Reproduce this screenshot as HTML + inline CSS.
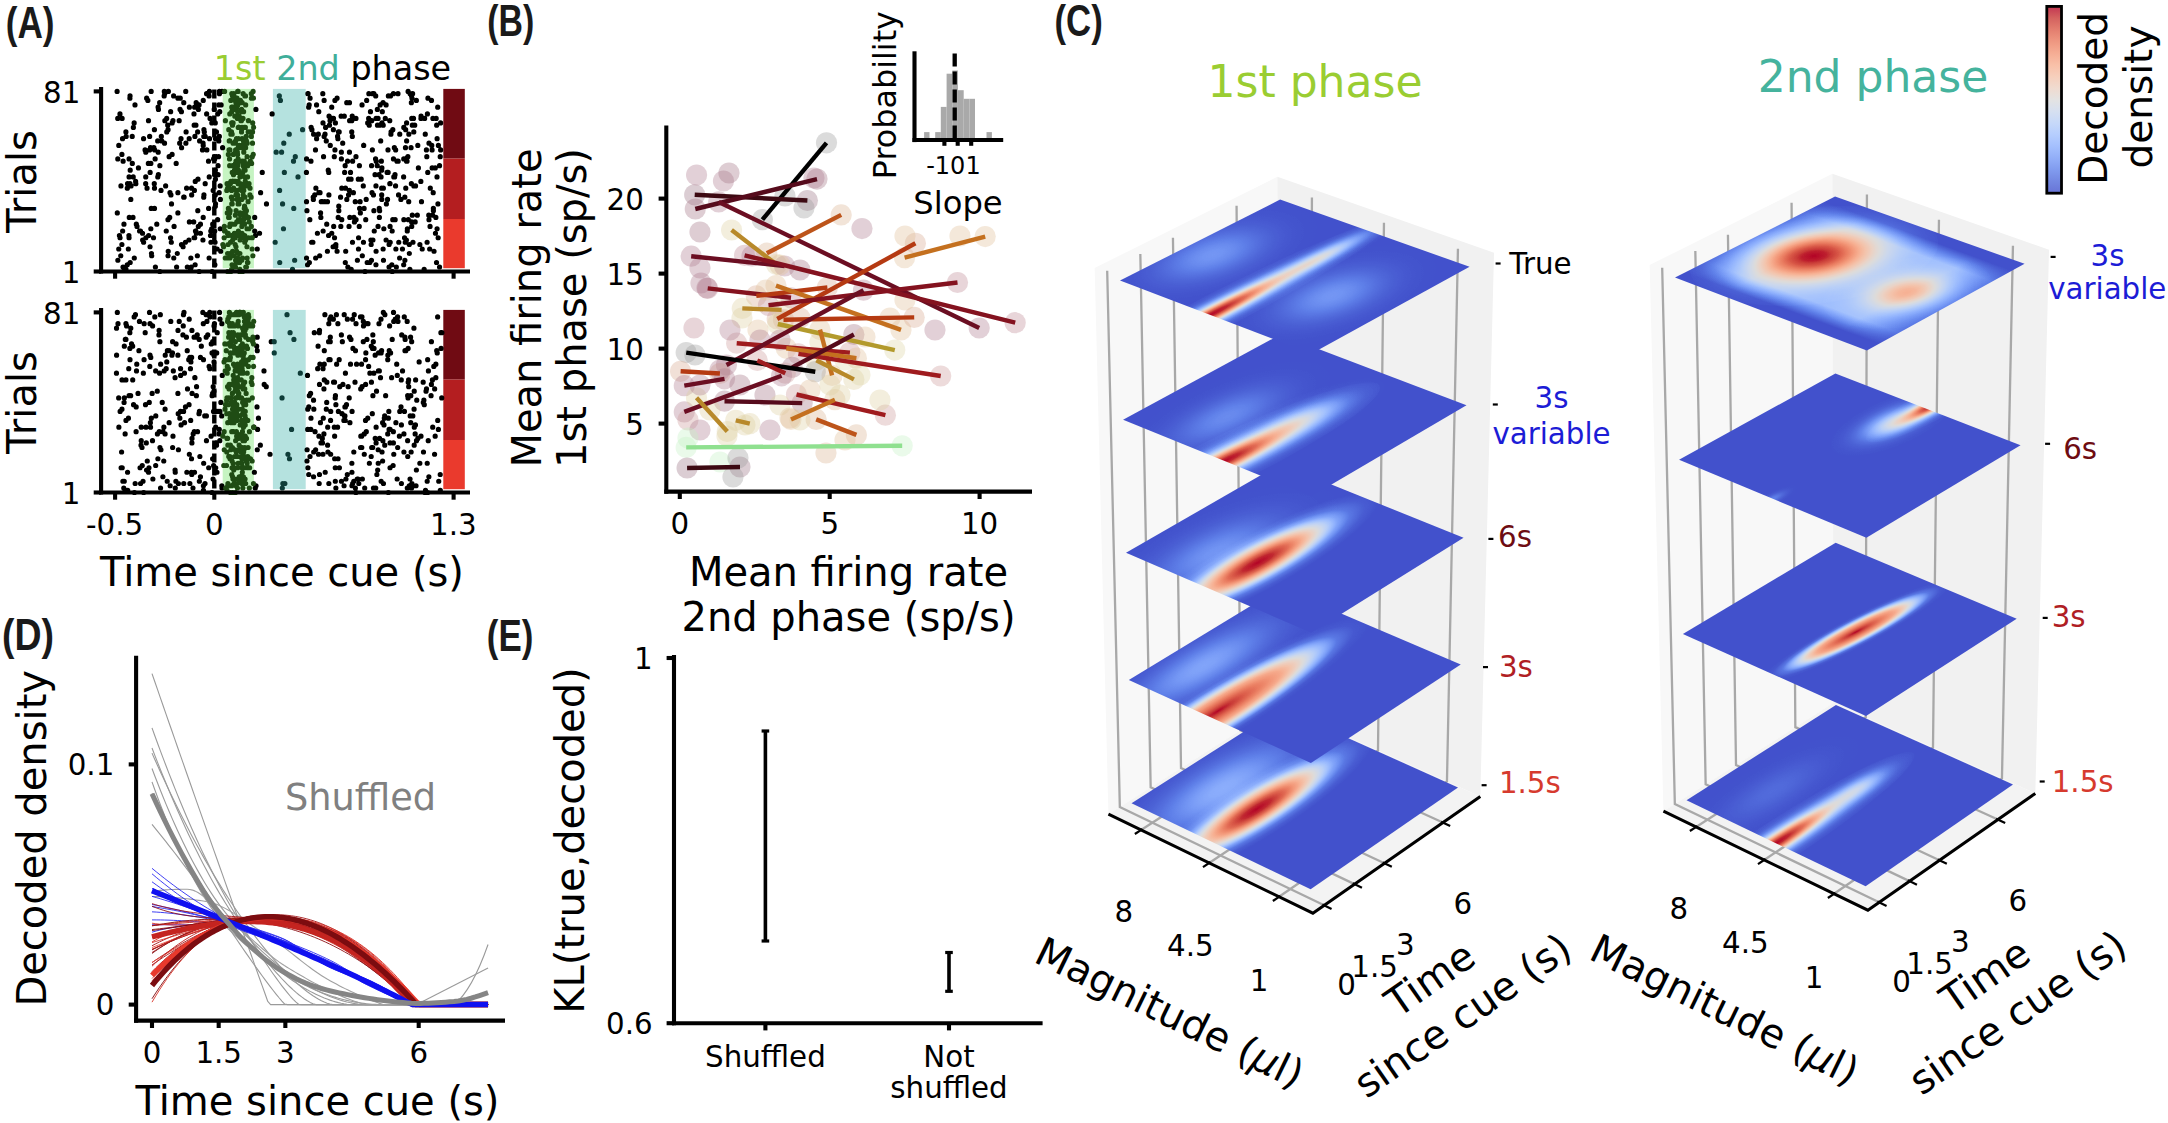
<!DOCTYPE html><html><head><meta charset="utf-8"><title>Figure</title><style>html,body{margin:0;padding:0;background:#fff;overflow:hidden}svg{display:block}</style></head><body><svg width="2168" height="1123" viewBox="0 0 2168 1123" font-family="'DejaVu Sans', 'Liberation Sans', sans-serif"><defs><filter id="cw" x="-0.1" y="-0.1" width="1.2" height="1.2" color-interpolation-filters="sRGB"><feComponentTransfer><feFuncR type="table" tableValues="0.259 0.314 0.380 0.467 0.553 0.639 0.722 0.800 0.867 0.925 0.957 0.969 0.953 0.918 0.863 0.788 0.702"/><feFuncG type="table" tableValues="0.318 0.412 0.510 0.604 0.686 0.757 0.812 0.847 0.863 0.824 0.765 0.690 0.596 0.490 0.369 0.231 0.012"/><feFuncB type="table" tableValues="0.800 0.855 0.918 0.965 0.992 0.996 0.973 0.929 0.859 0.769 0.671 0.573 0.475 0.380 0.294 0.216 0.149"/></feComponentTransfer></filter><linearGradient id="cbar" x1="0" y1="0" x2="0" y2="1"><stop offset="0.0000" stop-color="rgb(179, 3, 38)"/><stop offset="0.0625" stop-color="rgb(201, 59, 55)"/><stop offset="0.1250" stop-color="rgb(220, 94, 75)"/><stop offset="0.1875" stop-color="rgb(234, 125, 97)"/><stop offset="0.2500" stop-color="rgb(243, 152, 121)"/><stop offset="0.3125" stop-color="rgb(247, 176, 146)"/><stop offset="0.3750" stop-color="rgb(244, 195, 171)"/><stop offset="0.4375" stop-color="rgb(236, 210, 196)"/><stop offset="0.5000" stop-color="rgb(221, 220, 219)"/><stop offset="0.5625" stop-color="rgb(204, 216, 237)"/><stop offset="0.6250" stop-color="rgb(184, 207, 248)"/><stop offset="0.6875" stop-color="rgb(163, 193, 254)"/><stop offset="0.7500" stop-color="rgb(141, 175, 253)"/><stop offset="0.8125" stop-color="rgb(119, 154, 246)"/><stop offset="0.8750" stop-color="rgb(97, 130, 234)"/><stop offset="0.9375" stop-color="rgb(80, 105, 218)"/><stop offset="1.0000" stop-color="rgb(66, 81, 204)"/></linearGradient><radialGradient id="gb"><stop offset="0.000" stop-color="#fff" stop-opacity="1.000"/><stop offset="0.100" stop-color="#fff" stop-opacity="0.956"/><stop offset="0.200" stop-color="#fff" stop-opacity="0.835"/><stop offset="0.300" stop-color="#fff" stop-opacity="0.667"/><stop offset="0.400" stop-color="#fff" stop-opacity="0.487"/><stop offset="0.500" stop-color="#fff" stop-opacity="0.325"/><stop offset="0.600" stop-color="#fff" stop-opacity="0.198"/><stop offset="0.700" stop-color="#fff" stop-opacity="0.110"/><stop offset="0.800" stop-color="#fff" stop-opacity="0.056"/><stop offset="0.900" stop-color="#fff" stop-opacity="0.026"/><stop offset="1.000" stop-color="#fff" stop-opacity="0.011"/></radialGradient><radialGradient id="gf"><stop offset="0.000" stop-color="#fff" stop-opacity="1.000"/><stop offset="0.500" stop-color="#fff" stop-opacity="0.970"/><stop offset="0.650" stop-color="#fff" stop-opacity="0.800"/><stop offset="0.750" stop-color="#fff" stop-opacity="0.500"/><stop offset="0.850" stop-color="#fff" stop-opacity="0.200"/><stop offset="0.950" stop-color="#fff" stop-opacity="0.040"/><stop offset="1.000" stop-color="#fff" stop-opacity="0.000"/></radialGradient><radialGradient id="gq"><stop offset="0.000" stop-color="#fff" stop-opacity="1.000"/><stop offset="0.140" stop-color="#fff" stop-opacity="0.900"/><stop offset="0.280" stop-color="#fff" stop-opacity="0.800"/><stop offset="0.410" stop-color="#fff" stop-opacity="0.700"/><stop offset="0.520" stop-color="#fff" stop-opacity="0.550"/><stop offset="0.580" stop-color="#fff" stop-opacity="0.450"/><stop offset="0.660" stop-color="#fff" stop-opacity="0.300"/><stop offset="0.770" stop-color="#fff" stop-opacity="0.100"/><stop offset="0.880" stop-color="#fff" stop-opacity="0.020"/><stop offset="1.000" stop-color="#fff" stop-opacity="0.000"/></radialGradient><radialGradient id="gt"><stop offset="0.000" stop-color="#fff" stop-opacity="1.000"/><stop offset="0.100" stop-color="#fff" stop-opacity="0.956"/><stop offset="0.190" stop-color="#fff" stop-opacity="0.850"/><stop offset="0.280" stop-color="#fff" stop-opacity="0.700"/><stop offset="0.390" stop-color="#fff" stop-opacity="0.500"/><stop offset="0.450" stop-color="#fff" stop-opacity="0.380"/><stop offset="0.520" stop-color="#fff" stop-opacity="0.220"/><stop offset="0.600" stop-color="#fff" stop-opacity="0.100"/><stop offset="0.700" stop-color="#fff" stop-opacity="0.030"/><stop offset="0.800" stop-color="#fff" stop-opacity="0.000"/><stop offset="1.000" stop-color="#fff" stop-opacity="0.000"/></radialGradient><linearGradient id="gufade" x1="-0.1" y1="0" x2="1.1" y2="0" gradientUnits="userSpaceOnUse"><stop offset="0" stop-color="#000" stop-opacity="1"/><stop offset="0.1" stop-color="#000" stop-opacity="0.6"/><stop offset="0.25" stop-color="#000" stop-opacity="0"/><stop offset="0.72" stop-color="#000" stop-opacity="0"/><stop offset="0.92" stop-color="#000" stop-opacity="0.85"/><stop offset="1" stop-color="#000" stop-opacity="1"/></linearGradient><linearGradient id="gband" x1="0" y1="0" x2="0" y2="1"><stop offset="0" stop-color="#fff" stop-opacity="0"/><stop offset="0.07" stop-color="#fff" stop-opacity="0"/><stop offset="0.2" stop-color="#fff" stop-opacity="1"/><stop offset="0.8" stop-color="#fff" stop-opacity="1"/><stop offset="0.93" stop-color="#fff" stop-opacity="0"/><stop offset="1" stop-color="#fff" stop-opacity="0"/></linearGradient><clipPath id="pc1"><polygon points="1310.61,889.24 1131.53,803.31 1280.96,707.95 1458.03,787.42"/></clipPath><clipPath id="pc2"><polygon points="1310.9,763.04 1128.81,679.92 1280.75,587.71 1460.75,664.49"/></clipPath><clipPath id="pc3"><polygon points="1311.19,632.79 1126.01,552.71 1280.53,463.92 1463.56,537.79"/></clipPath><clipPath id="pc4"><polygon points="1311.51,496.36 1123.09,419.63 1280.31,334.58 1466.5,405.25"/></clipPath><clipPath id="pc5"><polygon points="1311.83,353.59 1120.03,280.54 1280.07,199.58 1469.57,266.77"/></clipPath><clipPath id="pc6"><polygon points="1865.61,886.24 1686.53,800.31 1835.96,704.95 2013.03,784.42"/></clipPath><clipPath id="pc7"><polygon points="1866,716.02 1682.87,633.91 1835.67,542.84 2016.7,618.64"/></clipPath><clipPath id="pc8"><polygon points="1866.4,537.67 1679.04,459.83 1835.38,373.55 2020.54,445.27"/></clipPath><clipPath id="pc9"><polygon points="1866.83,350.59 1675.03,277.54 1835.07,196.58 2024.57,263.77"/></clipPath></defs><rect width="2168" height="1123" fill="#fff"/>
<text x="213.8" y="80.3" font-size="33.4" fill="#000"><tspan fill="#9acd32">1st</tspan> <tspan fill="#3fae9a">2nd</tspan> phase</text>
<rect x="222.7" y="88.9" width="31.2" height="179.3" fill="#c6f4c2"/>
<rect x="272.9" y="88.9" width="32.8" height="179.3" fill="#b5e2df"/>
<rect x="443.3" y="88.9" width="21.5" height="69.7" fill="#700b13"/>
<rect x="443.3" y="158.6" width="21.5" height="60.4" fill="#b41e20"/>
<rect x="443.3" y="219" width="21.5" height="49.2" fill="#ea3a2d"/>
<line x1="214.3" y1="89.4" x2="214.3" y2="271.5" stroke="#000" stroke-width="4.4" stroke-linecap="butt" stroke-dasharray="9,4"/>
<path d="M159.8 271.5h0M392.26 271.5h0M364.99 271.5h0M199.15 271.5h0M212.12 271.5h0M351.22 269.25h0M190.58 269.25h0M424.16 269.25h0M409.87 269.25h0M125.97 269.25h0M124.3 269.25h0M191.26 267h0M187.32 267h0M123.01 267h0M389.05 267h0M176.61 267h0M439.57 267h0M396.34 267h0M155.41 267h0M347.85 267h0M214.9 264.75h0M307.55 264.75h0M403.69 264.75h0M391.86 264.75h0M127.26 264.75h0M195.13 264.75h0M375.95 264.75h0M369.77 262.5h0M130.18 262.5h0M345.3 262.5h0M436.52 262.5h0M309.38 262.5h0M367.19 262.5h0M117.86 260.24h0M371.47 260.24h0M383.48 260.24h0M404.89 260.24h0M357.4 260.24h0M134.3 257.99h0M399.62 257.99h0M315.66 257.99h0M190.85 257.99h0M173.77 257.99h0M306.53 257.99h0M209.12 257.99h0M120.75 255.74h0M362.32 255.74h0M197.36 255.74h0M151.69 255.74h0M319.69 255.74h0M168.04 255.74h0M177.3 253.49h0M151.46 253.49h0M409.34 253.49h0M168.23 251.24h0M345.7 251.24h0M337.09 251.24h0M434.04 251.24h0M376.09 251.24h0M327.41 251.24h0M220.73 251.24h0M395.88 248.99h0M217.18 248.99h0M422.21 248.99h0M358.49 248.99h0M118.76 248.99h0M402.46 248.99h0M128.36 248.99h0M383.13 248.99h0M429.68 248.99h0M257.26 248.99h0M183.08 246.74h0M335.77 246.74h0M150.04 246.74h0M333.1 246.74h0M409.3 244.49h0M121.9 244.49h0M181.48 244.49h0M371.16 244.49h0M335.87 244.49h0M389.09 244.49h0M419.89 244.49h0M352.5 242.23h0M143.61 242.23h0M171.32 242.23h0M412.98 242.23h0M185.43 242.23h0M363.47 242.23h0M311.67 242.23h0M390.21 242.23h0M210.94 242.23h0M398.78 242.23h0M312.9 242.23h0M427.1 242.23h0M405.25 242.23h0M215.06 242.23h0M372.93 239.98h0M386.09 239.98h0M370.9 239.98h0M188.93 239.98h0M142.65 239.98h0M202.95 239.98h0M406.39 239.98h0M120.04 237.73h0M334.55 237.73h0M145.89 237.73h0M153.52 237.73h0M404.53 237.73h0M129.05 237.73h0M194.12 237.73h0M438.14 237.73h0M170.57 237.73h0M194.7 237.73h0M358.55 237.73h0M148.64 235.48h0M328.57 235.48h0M128.92 235.48h0M119.43 235.48h0M255.48 235.48h0M210.51 235.48h0M317.41 233.23h0M435.46 233.23h0M331.76 233.23h0M200.46 233.23h0M196.32 233.23h0M142.53 233.23h0M259.57 233.23h0M392.17 230.98h0M407.28 230.98h0M214.72 230.98h0M195.9 230.98h0M122.64 230.98h0M195.47 230.98h0M139.58 230.98h0M140.49 230.98h0M323.13 230.98h0M210.81 230.98h0M374.25 230.98h0M166.26 230.98h0M254.7 230.98h0M437.08 228.73h0M383.83 228.73h0M220.25 228.73h0M150.84 228.73h0M211.68 228.73h0M407.37 228.73h0M378.06 226.47h0M411.73 226.47h0M390.07 226.47h0M359.26 226.47h0M340.81 226.47h0M174.08 226.47h0M349.03 226.47h0M333.7 226.47h0M198.34 226.47h0M137 226.47h0M430.06 226.47h0M123.96 224.22h0M326.74 224.22h0M136.32 224.22h0M156.79 224.22h0M200.47 224.22h0M212.7 224.22h0M354.44 221.97h0M193.71 221.97h0M189.37 221.97h0M411.66 221.97h0M415.17 221.97h0M167.99 219.72h0M365.73 219.72h0M403.86 219.72h0M217.65 219.72h0M341.77 219.72h0M392.77 219.72h0M356.07 219.72h0M309.83 219.72h0M395.15 219.72h0M408.29 219.72h0M428.99 219.72h0M133 217.47h0M338.21 217.47h0M349.79 217.47h0M169.72 217.47h0M353.95 217.47h0M129.27 217.47h0M435.88 217.47h0M379.39 217.47h0M320.87 217.47h0M203.21 217.47h0M254.71 217.47h0M417.32 215.22h0M432.61 215.22h0M412.3 215.22h0M428.77 215.22h0M360.36 212.97h0M117.31 212.97h0M177.89 212.97h0M320.57 212.97h0M306.95 210.72h0M197.79 210.72h0M338.83 210.72h0M373.9 210.72h0M379.62 210.72h0M433.4 210.72h0M208.6 208.47h0M151.25 208.47h0M379.26 208.47h0M154.49 208.47h0M359.61 208.47h0M364.11 208.47h0M433.37 208.47h0M215.36 206.21h0M338.79 206.21h0M386.39 203.96h0M266.48 203.96h0M437.95 203.96h0M215.54 203.96h0M171.52 203.96h0M306.52 201.71h0M355.23 201.71h0M408.72 201.71h0M360.1 201.71h0M324.76 201.71h0M327.49 201.71h0M321.27 201.71h0M322.6 201.71h0M421.5 201.71h0M366.2 199.46h0M381.8 199.46h0M313.38 199.46h0M346.81 199.46h0M400.91 199.46h0M387.55 199.46h0M130.8 199.46h0M220.39 199.46h0M340.58 197.21h0M313.23 197.21h0M184.1 197.21h0M183.71 197.21h0M404.84 197.21h0M203.72 197.21h0M170.95 194.96h0M328.9 194.96h0M348.58 194.96h0M381.69 194.96h0M203.94 194.96h0M314.75 194.96h0M191.67 194.96h0M373.46 194.96h0M398.55 194.96h0M215.3 194.96h0M318.92 192.71h0M219.19 192.71h0M372.04 192.71h0M177.91 192.71h0M320.04 192.71h0M170 192.71h0M433.21 192.71h0M260.61 192.71h0M353.41 192.71h0M161.02 190.46h0M349.33 190.46h0M194.4 190.46h0M213.18 190.46h0M405.77 188.2h0M186.6 188.2h0M127.32 188.2h0M345.48 188.2h0M381.66 188.2h0M430.3 188.2h0M315.9 188.2h0M154.49 188.2h0M341.8 188.2h0M147.05 188.2h0M191.54 188.2h0M383.37 188.2h0M131.07 185.95h0M375.97 185.95h0M395.57 185.95h0M220.18 185.95h0M415.54 185.95h0M363.29 185.95h0M165.64 185.95h0M413.86 185.95h0M120.95 185.95h0M389.83 183.7h0M411.38 183.7h0M127.56 183.7h0M135.84 183.7h0M390.04 183.7h0M129.96 183.7h0M205.19 183.7h0M154.28 183.7h0M145.68 183.7h0M195.25 181.45h0M135.62 181.45h0M420.86 181.45h0M348.62 179.2h0M358.31 179.2h0M351.08 179.2h0M361.22 179.2h0M198.02 179.2h0M215.43 179.2h0M394.59 176.95h0M393.81 176.95h0M133.22 176.95h0M145.74 176.95h0M381.06 176.95h0M437.01 176.95h0M129.08 176.95h0M157.79 176.95h0M403.63 176.95h0M209.24 176.95h0M218.11 174.7h0M158.38 174.7h0M375.03 174.7h0M379.06 174.7h0M395.01 174.7h0M215.02 174.7h0M427.75 172.44h0M306.43 172.44h0M150.13 172.44h0M328.74 172.44h0M262.25 172.44h0M350.52 172.44h0M388.14 172.44h0M344.62 172.44h0M387.11 172.44h0M130.21 170.19h0M381.67 170.19h0M328.26 170.19h0M215.4 170.19h0M138.44 167.94h0M435.29 167.94h0M418.4 167.94h0M432.14 167.94h0M381.9 167.94h0M377.25 165.69h0M159.87 165.69h0M439.55 165.69h0M371.57 165.69h0M345.15 165.69h0M359.41 165.69h0M218.07 165.69h0M176.18 163.44h0M132.33 163.44h0M148.35 163.44h0M150.86 163.44h0M396.96 161.19h0M123.12 161.19h0M347.55 161.19h0M208.5 161.19h0M406.56 161.19h0M310.97 161.19h0M398.15 161.19h0M407.05 161.19h0M376.2 161.19h0M352.62 161.19h0M381.37 161.19h0M403.76 158.94h0M375.57 158.94h0M306.58 158.94h0M129.08 158.94h0M393.47 158.94h0M213.59 158.94h0M341.38 158.94h0M117.8 158.94h0M155.13 158.94h0M214.67 158.94h0M405.22 158.94h0M426.8 156.69h0M216.33 156.69h0M214.42 156.69h0M169.13 156.69h0M323.55 156.69h0M440.22 156.69h0M355.98 156.69h0M407.88 156.69h0M334.31 156.69h0M218.57 156.69h0M121.92 154.44h0M172.1 154.44h0M341.37 152.18h0M349.47 152.18h0M145.79 152.18h0M158.21 152.18h0M426.41 149.93h0M388 149.93h0M145.07 149.93h0M315.48 149.93h0M440.63 149.93h0M432.09 149.93h0M149.63 149.93h0M334.96 149.93h0M154.68 149.93h0M202.5 149.93h0M206.87 149.93h0M395.66 149.93h0M372.37 149.93h0M411.06 147.68h0M153.87 147.68h0M394.36 147.68h0M150.5 147.68h0M181.59 147.68h0M405.47 147.68h0M222.59 147.68h0M363.65 145.43h0M118.79 145.43h0M438.4 145.43h0M330.27 145.43h0M417.81 145.43h0M431.79 145.43h0M203.22 145.43h0M363.71 145.43h0M179.67 143.18h0M428.98 143.18h0M164.53 143.18h0M342.71 143.18h0M203.06 143.18h0M185.89 143.18h0M326.29 140.93h0M380.7 140.93h0M406.63 140.93h0M218.81 140.93h0M157.7 140.93h0M161.68 140.93h0M199.61 140.93h0M181.01 138.68h0M122.54 138.68h0M215.53 138.68h0M316.61 138.68h0M143.57 138.68h0M189.19 138.68h0M337.91 138.68h0M437.11 138.68h0M209.54 138.68h0M352.33 136.43h0M149.65 136.43h0M219.35 136.43h0M203.8 136.43h0M132.22 136.43h0M126.16 136.43h0M161.33 136.43h0M324.11 136.43h0M194.91 136.43h0M337.56 136.43h0M205.2 136.43h0M425.27 134.17h0M325.03 134.17h0M390.92 134.17h0M313.61 134.17h0M399.75 134.17h0M318.33 134.17h0M408.85 134.17h0M186.1 131.92h0M197.63 131.92h0M204.32 131.92h0M391.08 131.92h0M351.75 131.92h0M339.18 131.92h0M125.91 131.92h0M216.45 131.92h0M338.47 131.92h0M166.78 131.92h0M413.79 131.92h0M405.68 129.67h0M168.08 129.67h0M392.81 129.67h0M154.42 129.67h0M311.93 129.67h0M203.94 129.67h0M333.4 129.67h0M325.6 127.42h0M403.8 127.42h0M311.13 127.42h0M133.37 127.42h0M436.66 125.17h0M412.33 125.17h0M329.49 125.17h0M377.48 125.17h0M383.22 125.17h0M195.93 125.17h0M379.5 125.17h0M194.18 125.17h0M167.72 125.17h0M369.25 125.17h0M414.73 125.17h0M440.63 122.92h0M367.7 122.92h0M134.15 122.92h0M211.82 122.92h0M382.06 122.92h0M322.99 122.92h0M335.41 122.92h0M406.59 122.92h0M172.14 122.92h0M215.28 122.92h0M172.96 120.67h0M349.61 120.67h0M148.5 120.67h0M330.06 120.67h0M371.75 120.67h0M351.78 120.67h0M179.17 120.67h0M389.76 120.67h0M164.86 120.67h0M333.51 118.42h0M376.11 118.42h0M210.05 118.42h0M166.7 118.42h0M432.9 118.42h0M385.28 118.42h0M424.65 118.42h0M122.12 118.42h0M355.96 118.42h0M413.52 118.42h0M117.74 118.42h0M378.06 118.42h0M436.18 118.42h0M411.76 118.42h0M331.9 118.42h0M368.66 118.42h0M420.95 118.42h0M421.07 116.16h0M352.23 116.16h0M344.3 116.16h0M341.14 116.16h0M329.06 116.16h0M272.13 113.91h0M193.98 113.91h0M119.97 113.91h0M427.41 113.91h0M217.71 113.91h0M206.65 113.91h0M219.77 111.66h0M170.64 111.66h0M181.43 111.66h0M382.32 111.66h0M370.46 111.66h0M318.79 111.66h0M158.47 109.41h0M198.39 109.41h0M180.06 109.41h0M377.35 109.41h0M255.92 109.41h0M214.22 109.41h0M308.67 107.16h0M158.11 107.16h0M194.64 107.16h0M331.73 107.16h0M437.71 107.16h0M189.38 107.16h0M380.13 104.91h0M309.19 104.91h0M316.55 104.91h0M362.05 104.91h0M199.1 104.91h0M134.99 104.91h0M386.11 104.91h0M218.89 104.91h0M221.13 104.91h0M196.16 102.66h0M183.77 102.66h0M411.36 102.66h0M346.76 102.66h0M383.09 102.66h0M159.67 102.66h0M349.5 102.66h0M203.26 100.41h0M324.13 100.41h0M334.93 100.41h0M416.37 100.41h0M431.49 100.41h0M366.66 100.41h0M147.86 100.41h0M412 98.15h0M146.65 98.15h0M337.07 98.15h0M129.91 98.15h0M427.94 98.15h0M310.07 98.15h0M177.94 98.15h0M180.25 98.15h0M173.63 95.9h0M164.15 95.9h0M411.57 95.9h0M209.08 95.9h0M130.04 95.9h0M388.37 95.9h0M375.71 95.9h0M390.51 95.9h0M412.61 93.65h0M307.91 93.65h0M219.44 93.65h0M164.7 93.65h0M308.12 93.65h0M393.41 93.65h0M206.56 93.65h0M398 93.65h0M372.6 93.65h0M368.87 93.65h0M373.83 93.65h0M410.12 93.65h0M322.8 93.65h0M117.11 91.4h0M168.39 91.4h0M221.96 91.4h0M185.74 91.4h0M408.1 91.4h0M164.32 91.4h0M151.17 91.4h0M219.41 91.4h0M209.44 91.4h0" stroke="#000" stroke-width="5.2" stroke-linecap="round" fill="none"/>
<path d="M230.83 271.5h0M227.72 271.5h0M239.99 271.5h0M239.5 271.5h0M242.6 271.5h0M231.65 269.25h0M239.92 269.25h0M246.42 267h0M245.74 267h0M235.45 267h0M235.18 264.75h0M232.03 264.75h0M239.51 262.5h0M247.45 262.5h0M247.91 262.5h0M235.6 260.24h0M241.79 260.24h0M230.05 257.99h0M247.12 257.99h0M228.21 257.99h0M242.53 257.99h0M225.29 257.99h0M238.02 257.99h0M252.89 255.74h0M234.02 255.74h0M237.72 253.49h0M227.61 253.49h0M229.98 253.49h0M239.91 253.49h0M238.69 253.49h0M236.72 251.24h0M236.59 251.24h0M232.59 251.24h0M252.15 248.99h0M223.55 246.74h0M235.98 246.74h0M246.96 246.74h0M222.84 244.49h0M228.1 244.49h0M235.18 244.49h0M230.53 242.23h0M244.76 242.23h0M245.63 239.98h0M232.67 239.98h0M240.08 239.98h0M251.66 237.73h0M248.43 237.73h0M224.15 237.73h0M252.27 237.73h0M243.77 237.73h0M235.12 237.73h0M244.74 235.48h0M237.81 235.48h0M231.76 235.48h0M233.82 235.48h0M237.45 235.48h0M240.99 235.48h0M228.23 235.48h0M234.37 233.23h0M228.18 233.23h0M242 233.23h0M227.44 233.23h0M224.52 230.98h0M225.15 230.98h0M238.38 230.98h0M247.03 228.73h0M248.87 228.73h0M251.31 226.47h0M241.89 226.47h0M229.66 226.47h0M224.35 226.47h0M234.74 224.22h0M242.09 224.22h0M231.86 224.22h0M230.1 224.22h0M244.51 224.22h0M236.79 221.97h0M249.18 221.97h0M241.26 221.97h0M239.36 219.72h0M238.48 219.72h0M243.75 219.72h0M228.62 217.47h0M246.82 217.47h0M248.45 217.47h0M244.51 217.47h0M229.27 217.47h0M240.65 215.22h0M245.94 215.22h0M245.42 215.22h0M235.35 215.22h0M240.55 215.22h0M227.28 212.97h0M229.72 212.97h0M240.15 212.97h0M244.41 212.97h0M230.14 210.72h0M236.05 210.72h0M246.41 210.72h0M228.39 208.47h0M244.28 208.47h0M245.19 208.47h0M244.55 206.21h0M238.65 203.96h0M231.77 203.96h0M232.18 203.96h0M238.1 203.96h0M238.99 203.96h0M248.11 201.71h0M232.29 199.46h0M241.78 199.46h0M237.67 199.46h0M237.25 199.46h0M237.68 197.21h0M251.1 197.21h0M244.91 197.21h0M231.39 197.21h0M237.46 194.96h0M235.95 194.96h0M243.17 194.96h0M249.94 194.96h0M235.85 190.46h0M236.13 190.46h0M226.8 190.46h0M237.28 190.46h0M241.84 190.46h0M231.53 190.46h0M243.77 190.46h0M227.64 188.2h0M228.89 188.2h0M240.8 188.2h0M241.32 188.2h0M250.04 188.2h0M233.64 188.2h0M246.38 185.95h0M247.32 185.95h0M245.29 185.95h0M247.27 185.95h0M245.36 185.95h0M241.07 185.95h0M249.02 183.7h0M240.35 183.7h0M238.11 183.7h0M227.08 183.7h0M244.75 183.7h0M229.38 183.7h0M230.35 183.7h0M245.27 181.45h0M232.64 181.45h0M234.75 181.45h0M230.92 181.45h0M232.59 181.45h0M235.87 181.45h0M238.13 181.45h0M233.83 181.45h0M244.67 176.95h0M247.54 176.95h0M239.91 176.95h0M233.49 174.7h0M241.06 174.7h0M237.37 172.44h0M242.74 172.44h0M232.26 172.44h0M245.12 170.19h0M236.04 170.19h0M244.32 170.19h0M234.5 170.19h0M243.82 170.19h0M238.42 170.19h0M233.87 165.69h0M229.66 165.69h0M233.78 165.69h0M232.53 165.69h0M243.12 165.69h0M234.05 165.69h0M237.59 165.69h0M245.32 165.69h0M247.68 165.69h0M237.72 163.44h0M249.08 163.44h0M235.51 163.44h0M238 163.44h0M251.62 163.44h0M244.96 163.44h0M236 161.19h0M244.27 161.19h0M238.43 161.19h0M242.24 161.19h0M250.35 161.19h0M239.65 161.19h0M229.56 158.94h0M238.11 158.94h0M247.1 156.69h0M252.24 156.69h0M228.35 154.44h0M237.55 154.44h0M253.28 154.44h0M233.28 154.44h0M235.21 152.18h0M243.79 152.18h0M237.37 152.18h0M229.03 149.93h0M237.08 149.93h0M235.63 149.93h0M229.92 149.93h0M241.95 147.68h0M245.62 147.68h0M244.68 147.68h0M238.19 147.68h0M239.25 145.43h0M241.46 145.43h0M233.98 143.18h0M233.1 143.18h0M247.19 143.18h0M244.97 143.18h0M252.52 143.18h0M235.31 143.18h0M229.79 140.93h0M246.44 140.93h0M243.4 140.93h0M235.69 140.93h0M229.27 140.93h0M236.52 138.68h0M242.1 138.68h0M238.43 138.68h0M246.18 136.43h0M251.36 136.43h0M230.87 134.17h0M232.14 134.17h0M231.49 131.92h0M248.18 131.92h0M250.5 131.92h0M241.53 131.92h0M252.58 131.92h0M241.62 129.67h0M228.78 129.67h0M253.66 127.42h0M238.43 127.42h0M238.25 127.42h0M242.01 127.42h0M239.45 127.42h0M244.21 127.42h0M245.37 127.42h0M232.49 125.17h0M252.72 122.92h0M233.09 122.92h0M231.72 122.92h0M232.11 122.92h0M240.94 120.67h0M225.41 120.67h0M248.43 120.67h0M241.41 120.67h0M238.98 118.42h0M243.02 118.42h0M237.35 118.42h0M239.2 116.16h0M234.79 116.16h0M229.8 113.91h0M243.6 111.66h0M237.69 111.66h0M231.76 111.66h0M242.09 111.66h0M243 111.66h0M234.66 109.41h0M241.62 109.41h0M236.38 109.41h0M236.37 109.41h0M232.34 107.16h0M236.75 107.16h0M231.79 107.16h0M235.35 107.16h0M237.79 104.91h0M245.67 104.91h0M236.09 104.91h0M241.13 102.66h0M235.96 102.66h0M238.48 102.66h0M239.14 102.66h0M242.15 102.66h0M241.97 102.66h0M240.43 100.41h0M235.05 100.41h0M230.82 100.41h0M233.27 98.15h0M235.49 98.15h0M251.4 98.15h0M236.99 98.15h0M253.48 98.15h0M245.19 95.9h0M244.93 95.9h0M233.94 95.9h0M232.53 95.9h0M245.52 95.9h0M251.33 93.65h0M233.78 93.65h0M243.17 93.65h0M231.82 93.65h0M224.6 91.4h0M237.74 91.4h0M253.15 91.4h0M238.1 91.4h0" stroke="#1f4c14" stroke-width="5.2" stroke-linecap="round" fill="none"/>
<path d="M292.5 269.25h0M279.73 262.5h0M294.65 260.24h0M275.17 242.23h0M283.48 228.73h0M293.76 208.47h0M282.57 203.96h0M279.6 190.46h0M298.01 176.95h0M284.36 172.44h0M293.5 161.19h0M295.3 156.69h0M276.19 152.18h0M281.6 152.18h0M283.78 143.18h0M289.26 134.17h0M302.57 129.67h0M280.43 100.41h0M279.34 95.9h0" stroke="#0f3d39" stroke-width="5.2" stroke-linecap="round" fill="none"/>
<line x1="101.1" y1="87.1" x2="101.1" y2="273.55" stroke="#000" stroke-width="4.1" stroke-linecap="butt" />
<line x1="99.05" y1="271.5" x2="470" y2="271.5" stroke="#000" stroke-width="4.1" stroke-linecap="butt" />
<line x1="93.7" y1="91.4" x2="101.1" y2="91.4" stroke="#000" stroke-width="4.1" stroke-linecap="butt" />
<line x1="93.7" y1="271.5" x2="101.1" y2="271.5" stroke="#000" stroke-width="4.1" stroke-linecap="butt" />
<line x1="115.1" y1="271.5" x2="115.1" y2="278.7" stroke="#000" stroke-width="4.1" stroke-linecap="butt" />
<line x1="214.3" y1="271.5" x2="214.3" y2="278.7" stroke="#000" stroke-width="4.1" stroke-linecap="butt" />
<line x1="453.6" y1="271.5" x2="453.6" y2="278.7" stroke="#000" stroke-width="4.1" stroke-linecap="butt" />
<text x="80.3" y="102.6" font-size="29.3" text-anchor="end" fill="#000" >81</text>
<text x="80.3" y="282.7" font-size="29.3" text-anchor="end" fill="#000" >1</text>
<text x="36.1" y="181.45" font-size="40" text-anchor="middle" fill="#000" transform="rotate(-90 36.1 181.45)" >Trials</text>
<rect x="222.7" y="309.9" width="31.2" height="179.3" fill="#c6f4c2"/>
<rect x="272.9" y="309.9" width="32.8" height="179.3" fill="#b5e2df"/>
<rect x="443.3" y="309.9" width="21.5" height="69.7" fill="#700b13"/>
<rect x="443.3" y="379.6" width="21.5" height="60.4" fill="#b41e20"/>
<rect x="443.3" y="440" width="21.5" height="49.2" fill="#ea3a2d"/>
<line x1="214.3" y1="310.4" x2="214.3" y2="492.5" stroke="#000" stroke-width="4.4" stroke-linecap="butt" stroke-dasharray="9,4"/>
<path d="M427.67 492.5h0M424.99 492.5h0M134.44 492.5h0M143.67 492.5h0M388.37 492.5h0M355.93 492.5h0M212.01 492.5h0M440.31 490.25h0M425.5 490.25h0M203.45 490.25h0M127.71 490.25h0M124.95 490.25h0M192.98 488h0M123.78 488h0M222 488h0M160.56 488h0M335.88 488h0M175.28 488h0M407.3 488h0M375.74 488h0M355.41 488h0M411.55 488h0M364.7 488h0M373.46 488h0M255.28 488h0M409.3 485.75h0M416.03 485.75h0M351.95 485.75h0M221.84 485.75h0M344.06 485.75h0M170.14 485.75h0M411.99 485.75h0M203.41 485.75h0M413.11 485.75h0M256.04 485.75h0M183.75 483.5h0M319.18 483.5h0M140.57 483.5h0M383.45 483.5h0M352.66 483.5h0M411.9 483.5h0M178.4 483.5h0M358.8 483.5h0M135.16 483.5h0M328.85 483.5h0M205.03 483.5h0M189.88 483.5h0M401.41 483.5h0M335.32 481.24h0M143.03 481.24h0M427.19 481.24h0M124.26 481.24h0M353.79 481.24h0M122.89 481.24h0M199.35 481.24h0M381.15 481.24h0M167.22 481.24h0M175.9 481.24h0M341.43 481.24h0M438.74 481.24h0M358.04 478.99h0M152.88 478.99h0M357.22 478.99h0M410.06 478.99h0M362.35 478.99h0M397.16 478.99h0M345.94 478.99h0M213.09 478.99h0M162.89 476.74h0M428.87 476.74h0M200.47 476.74h0M313.58 476.74h0M440.22 474.49h0M191.79 474.49h0M308.74 474.49h0M319.48 474.49h0M376.87 474.49h0M347.3 474.49h0M127.57 472.24h0M351.95 472.24h0M194.52 472.24h0M148.53 472.24h0M175.25 472.24h0M191.48 472.24h0M186.86 472.24h0M216.97 472.24h0M325.21 472.24h0M254.38 472.24h0M175.08 469.99h0M146.57 469.99h0M377.67 469.99h0M416.39 469.99h0M122.21 467.74h0M339.41 467.74h0M148.98 467.74h0M215.73 467.74h0M390.04 467.74h0M335.26 467.74h0M121.13 467.74h0M307.93 467.74h0M140.06 467.74h0M208.7 467.74h0M155.68 465.49h0M155.7 465.49h0M142.25 465.49h0M393.12 465.49h0M213.61 465.49h0M369.37 463.23h0M351.87 463.23h0M203.68 463.23h0M427.23 463.23h0M378.22 463.23h0M419.85 463.23h0M307 460.98h0M382.62 460.98h0M147.28 460.98h0M163.76 460.98h0M157.9 458.73h0M212.62 458.73h0M191.53 458.73h0M334.66 458.73h0M338.04 458.73h0M199.87 456.48h0M407.74 456.48h0M371.2 456.48h0M310.02 456.48h0M270.03 454.23h0M330.67 454.23h0M364.28 454.23h0M393.78 454.23h0M189.35 454.23h0M318.53 454.23h0M434.58 454.23h0M322.95 454.23h0M403.93 451.98h0M327.93 451.98h0M382.04 451.98h0M121.59 451.98h0M423.49 451.98h0M353.81 451.98h0M313.7 451.98h0M411.14 451.98h0M307.11 449.73h0M178.43 449.73h0M378.17 449.73h0M160.95 449.73h0M315.62 449.73h0M257.29 449.73h0M142.02 447.48h0M361.79 447.48h0M172.63 447.48h0M360.58 447.48h0M371.71 447.48h0M372.7 447.48h0M397.67 447.48h0M159.97 447.48h0M260.35 445.22h0M216.55 445.22h0M327.6 445.22h0M414.19 445.22h0M141.01 445.22h0M384.74 445.22h0M215.16 445.22h0M390.07 442.97h0M146.3 442.97h0M322.46 442.97h0M393.41 442.97h0M376.1 442.97h0M321 442.97h0M216.43 442.97h0M191.93 442.97h0M206.46 440.72h0M428.23 440.72h0M152.5 440.72h0M382.87 440.72h0M219.8 440.72h0M141.23 440.72h0M407.63 440.72h0M416.49 440.72h0M375.2 438.47h0M192.01 438.47h0M379.58 438.47h0M322.33 438.47h0M417.85 438.47h0M360.83 436.22h0M399.4 436.22h0M421 436.22h0M361.65 436.22h0M435.18 436.22h0M211.06 436.22h0M318.93 436.22h0M334.63 436.22h0M172.98 436.22h0M157.42 433.97h0M125.14 433.97h0M415.15 433.97h0M403.92 433.97h0M364.27 433.97h0M193.19 433.97h0M387.73 433.97h0M323.92 433.97h0M165.09 433.97h0M219.13 433.97h0M197.56 431.72h0M194.27 431.72h0M315.06 431.72h0M366.31 431.72h0M136.11 431.72h0M162.96 431.72h0M393.37 431.72h0M159.29 431.72h0M219.29 429.46h0M389.07 429.46h0M310.8 429.46h0M307.69 429.46h0M438.39 429.46h0M390.1 429.46h0M257.58 429.46h0M337.59 427.21h0M414.32 427.21h0M141.21 427.21h0M215.69 427.21h0M376.12 427.21h0M118.88 427.21h0M150.54 427.21h0M163.88 427.21h0M334.34 427.21h0M145.97 427.21h0M432.71 427.21h0M327.69 427.21h0M253.93 427.21h0M181.07 424.96h0M415.45 424.96h0M383.99 424.96h0M401.41 424.96h0M395.91 422.71h0M410.76 422.71h0M349.93 422.71h0M169.14 422.71h0M150.38 422.71h0M382.61 422.71h0M320.44 422.71h0M184.56 422.71h0M365.51 420.46h0M437.72 420.46h0M190.69 420.46h0M345.21 420.46h0M343.89 420.46h0M330.58 420.46h0M125.98 420.46h0M367.74 418.21h0M384.32 418.21h0M388.37 418.21h0M310.98 418.21h0M128.44 418.21h0M179.86 418.21h0M151.32 418.21h0M323.28 418.21h0M258.43 418.21h0M384.66 415.96h0M344.5 415.96h0M206.41 415.96h0M410.2 415.96h0M155.78 415.96h0M344.95 415.96h0M204.75 415.96h0M412.82 415.96h0M221.7 415.96h0M342.02 413.71h0M372.31 413.71h0M198.99 413.71h0M178.22 413.71h0M330.73 411.45h0M404.46 411.45h0M338.38 411.45h0M216.35 411.45h0M183.58 411.45h0M388.82 411.45h0M213.53 411.45h0M120.12 411.45h0M399.77 411.45h0M180.52 411.45h0M218.07 411.45h0M219.97 411.45h0M199.42 411.45h0M352.07 411.45h0M121.95 409.2h0M165.07 409.2h0M313.84 409.2h0M307.75 409.2h0M414.08 409.2h0M326.31 409.2h0M345.39 406.95h0M401.02 406.95h0M308.77 406.95h0M344.93 406.95h0M185.46 406.95h0M136.18 406.95h0M256.98 406.95h0M189.05 404.7h0M145.5 404.7h0M424.28 404.7h0M335.89 404.7h0M133.55 404.7h0M346.5 404.7h0M124.07 402.45h0M162.22 402.45h0M220.87 402.45h0M326.71 402.45h0M423.3 402.45h0M149.28 402.45h0M423.88 400.2h0M416.76 400.2h0M313.55 400.2h0M408.08 397.95h0M124.34 397.95h0M118.68 397.95h0M335.22 397.95h0M441.73 397.95h0M349.2 397.95h0M130.66 395.7h0M309.34 395.7h0M431.07 395.7h0M385.64 395.7h0M335.45 395.7h0M212.09 395.7h0M410.82 395.7h0M129.11 395.7h0M196.4 395.7h0M372.91 395.7h0M407.67 395.7h0M152.14 393.44h0M310.61 393.44h0M138.04 393.44h0M192.07 393.44h0M177.91 393.44h0M212.62 393.44h0M414.23 391.19h0M157.28 391.19h0M426.03 391.19h0M376.53 391.19h0M213.94 391.19h0M434.65 388.94h0M323.94 388.94h0M187.51 388.94h0M360.72 388.94h0M426.5 388.94h0M339.76 386.69h0M196.56 386.69h0M348.15 386.69h0M266.24 386.69h0M362.07 386.69h0M408.7 386.69h0M213.19 386.69h0M319.5 384.44h0M264.21 384.44h0M431.4 384.44h0M365.63 384.44h0M342.93 384.44h0M326.87 382.19h0M371.45 382.19h0M408.19 382.19h0M334.52 382.19h0M333.58 382.19h0M423.18 382.19h0M355.01 382.19h0M415.63 379.94h0M122.01 379.94h0M125.9 379.94h0M132.71 379.94h0M408.61 379.94h0M432.41 379.94h0M401.28 379.94h0M324.27 379.94h0M194.81 377.69h0M391.61 377.69h0M435.86 377.69h0M175.07 377.69h0M194.95 377.69h0M380.51 377.69h0M397.28 375.44h0M307.51 375.44h0M180.6 375.44h0M222.26 375.44h0M373.87 373.18h0M159.55 373.18h0M184.45 373.18h0M345.42 373.18h0M116.47 373.18h0M143.36 373.18h0M369.89 373.18h0M155.67 370.93h0M428.41 370.93h0M173.33 370.93h0M378.41 370.93h0M402.54 370.93h0M263.98 370.93h0M136.5 370.93h0M164.18 370.93h0M379.34 370.93h0M180.57 368.68h0M128.76 368.68h0M166.19 368.68h0M190.45 368.68h0M317.67 368.68h0M323.03 368.68h0M209.83 368.68h0M149.78 366.43h0M368.66 366.43h0M433.8 366.43h0M209.12 366.43h0M324.25 364.18h0M350.52 364.18h0M396.72 364.18h0M361.55 364.18h0M160.63 364.18h0M356.58 364.18h0M435.87 364.18h0M336.64 364.18h0M136.77 364.18h0M319.87 364.18h0M166.78 361.93h0M214.01 361.93h0M419.15 361.93h0M190.91 361.93h0M387.75 359.68h0M328.93 359.68h0M427.66 359.68h0M330.11 359.68h0M130.01 359.68h0M339.18 359.68h0M365.57 359.68h0M188.74 359.68h0M203.47 359.68h0M144.07 359.68h0M150.78 357.42h0M191.65 357.42h0M200.46 357.42h0M189.89 357.42h0M171.92 355.17h0M165.23 355.17h0M150.01 355.17h0M213.95 355.17h0M387.87 355.17h0M177.9 355.17h0M116.59 355.17h0M375.15 355.17h0M381.12 352.92h0M216.73 352.92h0M390.59 352.92h0M365.87 352.92h0M437.24 352.92h0M172.46 352.92h0M378.58 352.92h0M212.04 352.92h0M404.98 350.67h0M389.23 350.67h0M324.3 350.67h0M167.38 350.67h0M187.24 350.67h0M381.61 350.67h0M355.48 350.67h0M436.71 350.67h0M257.27 350.67h0M405.83 350.67h0M169 350.67h0M138.93 350.67h0M372.55 348.42h0M129.88 348.42h0M441.1 348.42h0M352.96 348.42h0M374.03 348.42h0M408.13 348.42h0M201.34 346.17h0M124.33 346.17h0M318.1 346.17h0M132.66 346.17h0M371.27 346.17h0M256.67 346.17h0M176.07 343.92h0M131.54 343.92h0M211.25 343.92h0M159.9 341.67h0M342.36 341.67h0M212.7 341.67h0M330.25 341.67h0M172.62 341.67h0M373.32 341.67h0M431.42 341.67h0M328.58 341.67h0M363.29 341.67h0M271.24 341.67h0M411.67 341.67h0M350.96 339.41h0M392.21 339.41h0M366.94 339.41h0M405.16 339.41h0M125.94 339.41h0M125.32 339.41h0M199.22 339.41h0M330.31 337.16h0M404.9 337.16h0M410.59 337.16h0M349.57 337.16h0M206.18 337.16h0M194.11 337.16h0M195.12 337.16h0M186.42 337.16h0M257.22 337.16h0M207.77 334.91h0M341.39 334.91h0M401.71 334.91h0M182.93 334.91h0M158.96 334.91h0M372.84 334.91h0M197.26 334.91h0M441.87 332.66h0M129.85 332.66h0M217.22 332.66h0M145.19 332.66h0M314.29 332.66h0M319.35 332.66h0M440.91 332.66h0M191.93 330.41h0M319.51 330.41h0M159.12 330.41h0M178 330.41h0M116.52 328.16h0M413.93 328.16h0M130.78 328.16h0M363.48 325.91h0M183.26 325.91h0M389.6 325.91h0M126.58 325.91h0M152.59 325.91h0M214 325.91h0M203.31 323.66h0M367.99 323.66h0M378.98 323.66h0M366.91 323.66h0M214.44 323.66h0M356.02 323.66h0M144.17 323.66h0M337.89 323.66h0M125.94 323.66h0M118 323.66h0M149.99 323.66h0M328.81 323.66h0M221.85 323.66h0M139.43 321.4h0M407.18 321.4h0M206.95 321.4h0M363.32 321.4h0M397.99 321.4h0M170.79 321.4h0M179.23 321.4h0M393.73 321.4h0M189.21 319.15h0M395.28 319.15h0M329.84 319.15h0M220.03 319.15h0M380.99 319.15h0M352.58 319.15h0M333.37 319.15h0M347.35 319.15h0M397.58 316.9h0M134.16 316.9h0M330.91 316.9h0M154.81 316.9h0M209.94 316.9h0M360.5 316.9h0M404.29 316.9h0M437.64 316.9h0M361.96 316.9h0M206.13 314.65h0M344.21 314.65h0M354.24 314.65h0M336.41 314.65h0M160.34 314.65h0M324.9 314.65h0M135.46 314.65h0M183.47 314.65h0M384.88 314.65h0M393.51 312.4h0M149.52 312.4h0M209.76 312.4h0M117.33 312.4h0M184 312.4h0M202.84 312.4h0M383.34 312.4h0M219.56 312.4h0" stroke="#000" stroke-width="5.2" stroke-linecap="round" fill="none"/>
<path d="M235.39 492.5h0M232.86 492.5h0M230.44 492.5h0M232.17 492.5h0M226.97 490.25h0M249.33 488h0M225.69 488h0M242.82 488h0M237.45 488h0M231.38 485.75h0M231.61 485.75h0M236.09 485.75h0M229.95 485.75h0M227.68 485.75h0M237.29 483.5h0M245.66 483.5h0M244.15 483.5h0M241.92 483.5h0M234.04 483.5h0M242.3 483.5h0M253.49 483.5h0M227.95 483.5h0M244.05 481.24h0M239.68 481.24h0M240.16 481.24h0M233.22 478.99h0M239.41 478.99h0M235.02 478.99h0M232.96 478.99h0M245.05 478.99h0M243.39 476.74h0M240.34 476.74h0M239.18 476.74h0M240.28 476.74h0M241.36 476.74h0M232.59 476.74h0M231.79 474.49h0M242.32 472.24h0M233.73 469.99h0M237.57 467.74h0M234.53 467.74h0M249.65 467.74h0M244.32 467.74h0M241.96 467.74h0M247.63 467.74h0M231.99 467.74h0M243.76 467.74h0M226.48 465.49h0M223.78 465.49h0M241.74 463.23h0M233.1 463.23h0M239.5 463.23h0M247.13 463.23h0M238.03 463.23h0M232.07 460.98h0M246.41 460.98h0M252.16 460.98h0M246.71 458.73h0M230.03 458.73h0M241.93 458.73h0M245.63 458.73h0M244.56 458.73h0M250.48 458.73h0M247.76 456.48h0M234.6 456.48h0M241.99 456.48h0M235.3 456.48h0M229.91 456.48h0M237.95 456.48h0M228.74 456.48h0M245.14 456.48h0M241.08 451.98h0M236.21 451.98h0M243.63 451.98h0M226.77 451.98h0M230.8 449.73h0M235.11 449.73h0M243.96 449.73h0M239.02 449.73h0M238.76 449.73h0M224.27 449.73h0M239.81 449.73h0M242.34 447.48h0M244.77 447.48h0M232.39 447.48h0M239.88 447.48h0M248.06 447.48h0M239.13 445.22h0M230.39 445.22h0M227.87 445.22h0M244.52 440.72h0M235.65 440.72h0M242.98 440.72h0M246.48 438.47h0M227.57 438.47h0M241.74 438.47h0M227.02 438.47h0M238.31 438.47h0M245.27 436.22h0M236.66 436.22h0M222.8 436.22h0M240.82 436.22h0M241.5 433.97h0M237 433.97h0M241.68 433.97h0M242.45 431.72h0M224.16 431.72h0M236.41 431.72h0M231.76 431.72h0M249.41 431.72h0M232.72 431.72h0M233.7 431.72h0M253.77 427.21h0M243.44 427.21h0M244.07 424.96h0M245.23 424.96h0M241.03 424.96h0M241.25 424.96h0M242.52 424.96h0M241.75 424.96h0M243.43 424.96h0M240.21 424.96h0M233.98 422.71h0M242.89 422.71h0M231.31 422.71h0M241.83 422.71h0M227.74 422.71h0M246.51 420.46h0M233.73 420.46h0M236.89 420.46h0M241.88 420.46h0M247.78 420.46h0M232.06 420.46h0M230.19 418.21h0M232.82 418.21h0M245.25 418.21h0M233.55 418.21h0M240 415.96h0M245.08 415.96h0M231.23 415.96h0M236.73 415.96h0M235.79 413.71h0M236.83 413.71h0M242.77 413.71h0M226.75 413.71h0M229.38 413.71h0M234.05 411.45h0M245.25 411.45h0M225.03 409.2h0M238.88 409.2h0M242.21 409.2h0M236.33 409.2h0M232.58 409.2h0M236.43 406.95h0M234.97 406.95h0M233.1 406.95h0M233.34 406.95h0M245.72 404.7h0M243.81 404.7h0M225.5 404.7h0M236.86 404.7h0M228.26 404.7h0M232.8 404.7h0M234.63 402.45h0M231.45 402.45h0M242.62 402.45h0M243.49 400.2h0M248.77 400.2h0M246.68 400.2h0M226.6 400.2h0M226.97 397.95h0M252.28 397.95h0M240.44 397.95h0M236.22 397.95h0M228.54 397.95h0M235.92 397.95h0M231.31 397.95h0M241.58 397.95h0M246.14 393.44h0M238.8 393.44h0M232.41 393.44h0M238.49 393.44h0M237.53 391.19h0M235.82 391.19h0M234.93 391.19h0M235.25 391.19h0M236.3 388.94h0M243.03 388.94h0M229.08 388.94h0M244.77 388.94h0M235 386.69h0M239.61 386.69h0M238.3 386.69h0M227.59 386.69h0M232.95 384.44h0M229.17 384.44h0M231.1 384.44h0M243.29 384.44h0M252.09 384.44h0M237.47 384.44h0M244.66 382.19h0M251.3 382.19h0M237.09 382.19h0M241.23 379.94h0M233.75 379.94h0M236.08 379.94h0M235.06 379.94h0M235.57 379.94h0M233.87 379.94h0M251.84 377.69h0M237.56 377.69h0M233.23 375.44h0M233.25 375.44h0M240.07 373.18h0M243.03 373.18h0M227.19 373.18h0M247.22 373.18h0M225.25 370.93h0M236.27 370.93h0M238.1 370.93h0M240.22 370.93h0M242.46 370.93h0M235.24 370.93h0M235.13 370.93h0M240.44 368.68h0M242.12 368.68h0M228.33 368.68h0M241.06 368.68h0M234.97 366.43h0M248.39 366.43h0M235.44 366.43h0M227.31 366.43h0M253.63 366.43h0M237.96 366.43h0M233.58 364.18h0M242.1 364.18h0M237.62 364.18h0M245.4 364.18h0M224.05 361.93h0M241.61 361.93h0M245.91 361.93h0M224.94 359.68h0M244.53 359.68h0M228.16 359.68h0M243.37 359.68h0M248.41 359.68h0M229.96 359.68h0M230.36 357.42h0M250.64 357.42h0M253.14 357.42h0M241.84 355.17h0M243.4 355.17h0M237.91 355.17h0M244.25 352.92h0M230.36 352.92h0M234.25 352.92h0M232.61 352.92h0M235.51 350.67h0M240.12 350.67h0M234.69 350.67h0M226.3 350.67h0M237.31 348.42h0M247.49 348.42h0M234.61 348.42h0M242.49 348.42h0M246.49 346.17h0M230.6 346.17h0M240.75 346.17h0M244.74 346.17h0M233.52 346.17h0M224.87 343.92h0M253.5 343.92h0M227.93 343.92h0M242.35 343.92h0M252.67 341.67h0M235.35 341.67h0M230.89 341.67h0M231.99 339.41h0M248.4 339.41h0M239.63 339.41h0M253.01 339.41h0M231.63 339.41h0M232.92 337.16h0M228.65 337.16h0M245.75 337.16h0M252.94 337.16h0M238.57 337.16h0M245.38 334.91h0M243.87 334.91h0M240.51 334.91h0M243.29 334.91h0M237.84 334.91h0M241.58 334.91h0M242.56 334.91h0M229.71 334.91h0M234.94 334.91h0M231.57 332.66h0M233.38 332.66h0M228.87 332.66h0M243.37 330.41h0M244.99 330.41h0M246.11 328.16h0M243.19 328.16h0M242.64 328.16h0M245.87 325.91h0M244.74 325.91h0M229.74 325.91h0M232.66 325.91h0M250.37 325.91h0M234.48 325.91h0M238.32 325.91h0M233.88 325.91h0M252.72 325.91h0M229.53 323.66h0M246.88 323.66h0M237.64 323.66h0M232.36 323.66h0M230.65 323.66h0M249.27 323.66h0M253.77 321.4h0M244.48 321.4h0M238.23 321.4h0M227.58 321.4h0M227.87 319.15h0M248.15 319.15h0M228.84 316.9h0M248.74 316.9h0M228.91 316.9h0M244.36 316.9h0M248.38 314.65h0M243.41 314.65h0M235.51 314.65h0M238.93 314.65h0M233.76 314.65h0M231.56 314.65h0M238.59 314.65h0M243.34 312.4h0M236.54 312.4h0M229.42 312.4h0M239.51 312.4h0M239.6 312.4h0M240.5 312.4h0" stroke="#1f4c14" stroke-width="5.2" stroke-linecap="round" fill="none"/>
<path d="M282.33 488h0M282.88 483.5h0M284.87 483.5h0M289.5 458.73h0M287.94 454.23h0M291.58 429.46h0M282.04 397.95h0M300.32 373.18h0M274.24 352.92h0M274.22 341.67h0M293.92 339.41h0M290.07 332.66h0M287 314.65h0" stroke="#0f3d39" stroke-width="5.2" stroke-linecap="round" fill="none"/>
<line x1="101.1" y1="308.1" x2="101.1" y2="494.55" stroke="#000" stroke-width="4.1" stroke-linecap="butt" />
<line x1="99.05" y1="492.5" x2="470" y2="492.5" stroke="#000" stroke-width="4.1" stroke-linecap="butt" />
<line x1="93.7" y1="312.4" x2="101.1" y2="312.4" stroke="#000" stroke-width="4.1" stroke-linecap="butt" />
<line x1="93.7" y1="492.5" x2="101.1" y2="492.5" stroke="#000" stroke-width="4.1" stroke-linecap="butt" />
<line x1="115.1" y1="492.5" x2="115.1" y2="499.7" stroke="#000" stroke-width="4.1" stroke-linecap="butt" />
<line x1="214.3" y1="492.5" x2="214.3" y2="499.7" stroke="#000" stroke-width="4.1" stroke-linecap="butt" />
<line x1="453.6" y1="492.5" x2="453.6" y2="499.7" stroke="#000" stroke-width="4.1" stroke-linecap="butt" />
<text x="80.3" y="323.6" font-size="29.3" text-anchor="end" fill="#000" >81</text>
<text x="80.3" y="503.7" font-size="29.3" text-anchor="end" fill="#000" >1</text>
<text x="36.1" y="402.45" font-size="40" text-anchor="middle" fill="#000" transform="rotate(-90 36.1 402.45)" >Trials</text>
<text x="114.6" y="534.5" font-size="29.3" text-anchor="middle" fill="#000" >-0.5</text>
<text x="214.3" y="534.5" font-size="29.3" text-anchor="middle" fill="#000" >0</text>
<text x="453.4" y="534.5" font-size="29.3" text-anchor="middle" fill="#000" >1.3</text>
<text x="282" y="586" font-size="40" text-anchor="middle" fill="#000" >Time since cue (s)</text>
<g>
<circle cx="762.4" cy="219.7" r="10.6" fill="#9a9a9a" fill-opacity="0.36"/>
<circle cx="826.5" cy="142.8" r="10.6" fill="#9a9a9a" fill-opacity="0.36"/>
<circle cx="694.7" cy="194.8" r="10.6" fill="#9a7484" fill-opacity="0.36"/>
<circle cx="807.4" cy="200.5" r="10.6" fill="#9a7484" fill-opacity="0.36"/>
<circle cx="695.3" cy="209" r="10.6" fill="#a37485" fill-opacity="0.36"/>
<circle cx="817" cy="179.1" r="10.6" fill="#a37485" fill-opacity="0.36"/>
<circle cx="718.7" cy="201.9" r="10.6" fill="#b07d90" fill-opacity="0.36"/>
<circle cx="979.2" cy="328" r="10.6" fill="#b07d90" fill-opacity="0.36"/>
<circle cx="766.8" cy="253.2" r="10.6" fill="#dcb394" fill-opacity="0.36"/>
<circle cx="841.2" cy="214.9" r="10.6" fill="#dcb394" fill-opacity="0.36"/>
<circle cx="731.6" cy="230" r="10.6" fill="#ddd0a2" fill-opacity="0.36"/>
<circle cx="776.6" cy="264.6" r="10.6" fill="#ddd0a2" fill-opacity="0.36"/>
<circle cx="691.2" cy="256.2" r="10.6" fill="#b07d90" fill-opacity="0.36"/>
<circle cx="784.6" cy="266" r="10.6" fill="#b07d90" fill-opacity="0.36"/>
<circle cx="744.6" cy="255.3" r="10.6" fill="#c08a95" fill-opacity="0.36"/>
<circle cx="1015.2" cy="322.7" r="10.6" fill="#c08a95" fill-opacity="0.36"/>
<circle cx="904.6" cy="257.7" r="10.6" fill="#e0bf98" fill-opacity="0.36"/>
<circle cx="985.2" cy="236.6" r="10.6" fill="#e0bf98" fill-opacity="0.36"/>
<circle cx="777.2" cy="319" r="10.6" fill="#d9a98f" fill-opacity="0.36"/>
<circle cx="915.4" cy="243.3" r="10.6" fill="#d9a98f" fill-opacity="0.36"/>
<circle cx="707.7" cy="288.4" r="10.6" fill="#c08a95" fill-opacity="0.36"/>
<circle cx="791" cy="297.8" r="10.6" fill="#c08a95" fill-opacity="0.36"/>
<circle cx="756.3" cy="295.9" r="10.6" fill="#d9a98f" fill-opacity="0.36"/>
<circle cx="827.4" cy="287.5" r="10.6" fill="#d9a98f" fill-opacity="0.36"/>
<circle cx="776" cy="285.6" r="10.6" fill="#e0bf98" fill-opacity="0.36"/>
<circle cx="901" cy="329.9" r="10.6" fill="#e0bf98" fill-opacity="0.36"/>
<circle cx="768.5" cy="305.3" r="10.6" fill="#c08a95" fill-opacity="0.36"/>
<circle cx="957.5" cy="282.5" r="10.6" fill="#c08a95" fill-opacity="0.36"/>
<circle cx="742.3" cy="308.4" r="10.6" fill="#ddd0a2" fill-opacity="0.36"/>
<circle cx="781.6" cy="309.9" r="10.6" fill="#ddd0a2" fill-opacity="0.36"/>
<circle cx="783.5" cy="319.7" r="10.6" fill="#d9a98f" fill-opacity="0.36"/>
<circle cx="914.2" cy="317.4" r="10.6" fill="#d9a98f" fill-opacity="0.36"/>
<circle cx="777.8" cy="324" r="10.6" fill="#ddd5a5" fill-opacity="0.36"/>
<circle cx="894.8" cy="350.1" r="10.6" fill="#ddd5a5" fill-opacity="0.36"/>
<circle cx="820" cy="329.6" r="10.6" fill="#e0bf98" fill-opacity="0.36"/>
<circle cx="832.1" cy="375.4" r="10.6" fill="#e0bf98" fill-opacity="0.36"/>
<circle cx="736.7" cy="343.2" r="10.6" fill="#cd9a9a" fill-opacity="0.36"/>
<circle cx="849.9" cy="352.6" r="10.6" fill="#cd9a9a" fill-opacity="0.36"/>
<circle cx="786.3" cy="348.3" r="10.6" fill="#e0bf98" fill-opacity="0.36"/>
<circle cx="856.4" cy="358.2" r="10.6" fill="#e0bf98" fill-opacity="0.36"/>
<circle cx="798.4" cy="353.9" r="10.6" fill="#cd9a9a" fill-opacity="0.36"/>
<circle cx="940.7" cy="376" r="10.6" fill="#cd9a9a" fill-opacity="0.36"/>
<circle cx="726.5" cy="365" r="10.6" fill="#b07d90" fill-opacity="0.36"/>
<circle cx="863.5" cy="290.2" r="10.6" fill="#b07d90" fill-opacity="0.36"/>
<circle cx="816.3" cy="360.2" r="10.6" fill="#ddd0a2" fill-opacity="0.36"/>
<circle cx="853.9" cy="379.4" r="10.6" fill="#ddd0a2" fill-opacity="0.36"/>
<circle cx="792.2" cy="367.4" r="10.6" fill="#a37485" fill-opacity="0.36"/>
<circle cx="853.9" cy="334.5" r="10.6" fill="#a37485" fill-opacity="0.36"/>
<circle cx="686.2" cy="352.6" r="10.6" fill="#9a9a9a" fill-opacity="0.36"/>
<circle cx="815.3" cy="371.7" r="10.6" fill="#9a9a9a" fill-opacity="0.36"/>
<circle cx="757.3" cy="360.4" r="10.6" fill="#cd9a9a" fill-opacity="0.36"/>
<circle cx="785.3" cy="373.2" r="10.6" fill="#cd9a9a" fill-opacity="0.36"/>
<circle cx="680.6" cy="371.3" r="10.6" fill="#d9a98f" fill-opacity="0.36"/>
<circle cx="719.9" cy="373.5" r="10.6" fill="#d9a98f" fill-opacity="0.36"/>
<circle cx="684.3" cy="385.7" r="10.6" fill="#b07d90" fill-opacity="0.36"/>
<circle cx="724.5" cy="378.8" r="10.6" fill="#b07d90" fill-opacity="0.36"/>
<circle cx="684.3" cy="411.9" r="10.6" fill="#b07d90" fill-opacity="0.36"/>
<circle cx="781.6" cy="375.8" r="10.6" fill="#b07d90" fill-opacity="0.36"/>
<circle cx="724.5" cy="401.2" r="10.6" fill="#a37485" fill-opacity="0.36"/>
<circle cx="802.2" cy="403.1" r="10.6" fill="#a37485" fill-opacity="0.36"/>
<circle cx="796.5" cy="394.5" r="10.6" fill="#cd9a9a" fill-opacity="0.36"/>
<circle cx="885.4" cy="415.2" r="10.6" fill="#cd9a9a" fill-opacity="0.36"/>
<circle cx="791" cy="419.4" r="10.6" fill="#e0bf98" fill-opacity="0.36"/>
<circle cx="834.9" cy="399.7" r="10.6" fill="#e0bf98" fill-opacity="0.36"/>
<circle cx="816.2" cy="419.4" r="10.6" fill="#dcb394" fill-opacity="0.36"/>
<circle cx="856.4" cy="434.9" r="10.6" fill="#dcb394" fill-opacity="0.36"/>
<circle cx="696.5" cy="397.8" r="10.6" fill="#ddd0a2" fill-opacity="0.36"/>
<circle cx="727.3" cy="431.5" r="10.6" fill="#ddd0a2" fill-opacity="0.36"/>
<circle cx="735.8" cy="420.3" r="10.6" fill="#ddd0a2" fill-opacity="0.36"/>
<circle cx="749.8" cy="423.7" r="10.6" fill="#ddd0a2" fill-opacity="0.36"/>
<circle cx="686.2" cy="447.4" r="10.6" fill="#c5f2c5" fill-opacity="0.36"/>
<circle cx="902.2" cy="445.8" r="10.6" fill="#c5f2c5" fill-opacity="0.36"/>
<circle cx="687.1" cy="468" r="10.6" fill="#9a7484" fill-opacity="0.36"/>
<circle cx="740" cy="467" r="10.6" fill="#9a7484" fill-opacity="0.36"/>
<circle cx="696.6" cy="175" r="10.6" fill="#b07d90" fill-opacity="0.36"/>
<circle cx="723.5" cy="181" r="10.6" fill="#b07d90" fill-opacity="0.36"/>
<circle cx="729" cy="173" r="10.6" fill="#a37485" fill-opacity="0.36"/>
<circle cx="700" cy="268" r="10.6" fill="#b07d90" fill-opacity="0.36"/>
<circle cx="701" cy="283" r="10.6" fill="#b07d90" fill-opacity="0.36"/>
<circle cx="707" cy="288" r="10.6" fill="#b07d90" fill-opacity="0.36"/>
<circle cx="785" cy="196" r="10.6" fill="#9a9a9a" fill-opacity="0.36"/>
<circle cx="814" cy="178" r="10.6" fill="#b07d90" fill-opacity="0.36"/>
<circle cx="804" cy="208" r="10.6" fill="#9a9a9a" fill-opacity="0.36"/>
<circle cx="862" cy="228.6" r="10.6" fill="#b07d90" fill-opacity="0.36"/>
<circle cx="905" cy="236" r="10.6" fill="#e0bf98" fill-opacity="0.36"/>
<circle cx="960" cy="236" r="10.6" fill="#e0bf98" fill-opacity="0.36"/>
<circle cx="700" cy="232" r="10.6" fill="#a37485" fill-opacity="0.36"/>
<circle cx="752" cy="256" r="10.6" fill="#b07d90" fill-opacity="0.36"/>
<circle cx="780" cy="265" r="10.6" fill="#e0bf98" fill-opacity="0.36"/>
<circle cx="800" cy="270" r="10.6" fill="#a37485" fill-opacity="0.36"/>
<circle cx="766" cy="290" r="10.6" fill="#e0bf98" fill-opacity="0.36"/>
<circle cx="742" cy="318" r="10.6" fill="#ddd0a2" fill-opacity="0.36"/>
<circle cx="758" cy="330" r="10.6" fill="#e0bf98" fill-opacity="0.36"/>
<circle cx="780" cy="340" r="10.6" fill="#b07d90" fill-opacity="0.36"/>
<circle cx="800" cy="318" r="10.6" fill="#d9a98f" fill-opacity="0.36"/>
<circle cx="820" cy="342" r="10.6" fill="#ddd0a2" fill-opacity="0.36"/>
<circle cx="845" cy="360" r="10.6" fill="#ddd5a5" fill-opacity="0.36"/>
<circle cx="865" cy="337" r="10.6" fill="#e0bf98" fill-opacity="0.36"/>
<circle cx="890" cy="318" r="10.6" fill="#e0bf98" fill-opacity="0.36"/>
<circle cx="905" cy="300" r="10.6" fill="#e0bf98" fill-opacity="0.36"/>
<circle cx="935" cy="330" r="10.6" fill="#b07d90" fill-opacity="0.36"/>
<circle cx="694" cy="328" r="10.6" fill="#c08a95" fill-opacity="0.36"/>
<circle cx="730" cy="330" r="10.6" fill="#b07d90" fill-opacity="0.36"/>
<circle cx="695" cy="355" r="10.6" fill="#9a9a9a" fill-opacity="0.36"/>
<circle cx="720" cy="370" r="10.6" fill="#b07d90" fill-opacity="0.36"/>
<circle cx="700" cy="385" r="10.6" fill="#b07d90" fill-opacity="0.36"/>
<circle cx="740" cy="385" r="10.6" fill="#a37485" fill-opacity="0.36"/>
<circle cx="765" cy="395" r="10.6" fill="#a37485" fill-opacity="0.36"/>
<circle cx="780" cy="405" r="10.6" fill="#ddd0a2" fill-opacity="0.36"/>
<circle cx="800" cy="420" r="10.6" fill="#ddd0a2" fill-opacity="0.36"/>
<circle cx="830" cy="385" r="10.6" fill="#ddd0a2" fill-opacity="0.36"/>
<circle cx="860" cy="375" r="10.6" fill="#ddd5a5" fill-opacity="0.36"/>
<circle cx="880" cy="400" r="10.6" fill="#ddd0a2" fill-opacity="0.36"/>
<circle cx="710" cy="410" r="10.6" fill="#ddd0a2" fill-opacity="0.36"/>
<circle cx="727" cy="436" r="10.6" fill="#ddd0a2" fill-opacity="0.36"/>
<circle cx="745" cy="425" r="10.6" fill="#ddd0a2" fill-opacity="0.36"/>
<circle cx="770" cy="430" r="10.6" fill="#b07d90" fill-opacity="0.36"/>
<circle cx="790" cy="418" r="10.6" fill="#e0bf98" fill-opacity="0.36"/>
<circle cx="688" cy="420" r="10.6" fill="#cd9a9a" fill-opacity="0.36"/>
<circle cx="700" cy="430" r="10.6" fill="#b07d90" fill-opacity="0.36"/>
<circle cx="688" cy="438" r="10.6" fill="#c5f2c5" fill-opacity="0.36"/>
<circle cx="720" cy="462" r="10.6" fill="#c5f2c5" fill-opacity="0.36"/>
<circle cx="738" cy="458" r="10.6" fill="#9a9a9a" fill-opacity="0.36"/>
<circle cx="733" cy="477" r="10.6" fill="#9a9a9a" fill-opacity="0.36"/>
<circle cx="826" cy="453" r="10.6" fill="#dcb394" fill-opacity="0.36"/>
<circle cx="845" cy="440" r="10.6" fill="#e0bf98" fill-opacity="0.36"/>
<circle cx="760" cy="340" r="10.6" fill="#b07d90" fill-opacity="0.36"/>
<circle cx="810" cy="390" r="10.6" fill="#e0bf98" fill-opacity="0.36"/>
<circle cx="840" cy="395" r="10.6" fill="#ddd0a2" fill-opacity="0.36"/>
<line x1="762.4" y1="219.7" x2="826.5" y2="142.8" stroke="#000000" stroke-width="4.4" stroke-linecap="butt" />
<line x1="694.7" y1="194.8" x2="807.4" y2="200.5" stroke="#3d0912" stroke-width="4.4" stroke-linecap="butt" />
<line x1="695.3" y1="209" x2="817" y2="179.1" stroke="#560b1c" stroke-width="4.4" stroke-linecap="butt" />
<line x1="718.7" y1="201.9" x2="979.2" y2="328" stroke="#6b0e22" stroke-width="4.4" stroke-linecap="butt" />
<line x1="766.8" y1="253.2" x2="841.2" y2="214.9" stroke="#bd541a" stroke-width="4.4" stroke-linecap="butt" />
<line x1="731.6" y1="230" x2="776.6" y2="264.6" stroke="#b8892a" stroke-width="4.4" stroke-linecap="butt" />
<line x1="691.2" y1="256.2" x2="784.6" y2="266" stroke="#6b0e22" stroke-width="4.4" stroke-linecap="butt" />
<line x1="744.6" y1="255.3" x2="1015.2" y2="322.7" stroke="#84121f" stroke-width="4.4" stroke-linecap="butt" />
<line x1="904.6" y1="257.7" x2="985.2" y2="236.6" stroke="#c4701f" stroke-width="4.4" stroke-linecap="butt" />
<line x1="777.2" y1="319" x2="915.4" y2="243.3" stroke="#b53a12" stroke-width="4.4" stroke-linecap="butt" />
<line x1="707.7" y1="288.4" x2="791" y2="297.8" stroke="#84121f" stroke-width="4.4" stroke-linecap="butt" />
<line x1="756.3" y1="295.9" x2="827.4" y2="287.5" stroke="#b53a12" stroke-width="4.4" stroke-linecap="butt" />
<line x1="776" y1="285.6" x2="901" y2="329.9" stroke="#c4701f" stroke-width="4.4" stroke-linecap="butt" />
<line x1="768.5" y1="305.3" x2="957.5" y2="282.5" stroke="#84121f" stroke-width="4.4" stroke-linecap="butt" />
<line x1="742.3" y1="308.4" x2="781.6" y2="309.9" stroke="#b8892a" stroke-width="4.4" stroke-linecap="butt" />
<line x1="783.5" y1="319.7" x2="914.2" y2="317.4" stroke="#b53a12" stroke-width="4.4" stroke-linecap="butt" />
<line x1="777.8" y1="324" x2="894.8" y2="350.1" stroke="#b39a2c" stroke-width="4.4" stroke-linecap="butt" />
<line x1="820" y1="329.6" x2="832.1" y2="375.4" stroke="#c4701f" stroke-width="4.4" stroke-linecap="butt" />
<line x1="736.7" y1="343.2" x2="849.9" y2="352.6" stroke="#9f1b1e" stroke-width="4.4" stroke-linecap="butt" />
<line x1="786.3" y1="348.3" x2="856.4" y2="358.2" stroke="#c4701f" stroke-width="4.4" stroke-linecap="butt" />
<line x1="798.4" y1="353.9" x2="940.7" y2="376" stroke="#9f1b1e" stroke-width="4.4" stroke-linecap="butt" />
<line x1="726.5" y1="365" x2="863.5" y2="290.2" stroke="#6b0e22" stroke-width="4.4" stroke-linecap="butt" />
<line x1="816.3" y1="360.2" x2="853.9" y2="379.4" stroke="#b8892a" stroke-width="4.4" stroke-linecap="butt" />
<line x1="792.2" y1="367.4" x2="853.9" y2="334.5" stroke="#560b1c" stroke-width="4.4" stroke-linecap="butt" />
<line x1="686.2" y1="352.6" x2="815.3" y2="371.7" stroke="#000000" stroke-width="4.4" stroke-linecap="butt" />
<line x1="757.3" y1="360.4" x2="785.3" y2="373.2" stroke="#9f1b1e" stroke-width="4.4" stroke-linecap="butt" />
<line x1="680.6" y1="371.3" x2="719.9" y2="373.5" stroke="#b53a12" stroke-width="4.4" stroke-linecap="butt" />
<line x1="684.3" y1="385.7" x2="724.5" y2="378.8" stroke="#6b0e22" stroke-width="4.4" stroke-linecap="butt" />
<line x1="684.3" y1="411.9" x2="781.6" y2="375.8" stroke="#6b0e22" stroke-width="4.4" stroke-linecap="butt" />
<line x1="724.5" y1="401.2" x2="802.2" y2="403.1" stroke="#560b1c" stroke-width="4.4" stroke-linecap="butt" />
<line x1="796.5" y1="394.5" x2="885.4" y2="415.2" stroke="#9f1b1e" stroke-width="4.4" stroke-linecap="butt" />
<line x1="791" y1="419.4" x2="834.9" y2="399.7" stroke="#c4701f" stroke-width="4.4" stroke-linecap="butt" />
<line x1="816.2" y1="419.4" x2="856.4" y2="434.9" stroke="#bd541a" stroke-width="4.4" stroke-linecap="butt" />
<line x1="696.5" y1="397.8" x2="727.3" y2="431.5" stroke="#b8892a" stroke-width="4.4" stroke-linecap="butt" />
<line x1="735.8" y1="420.3" x2="749.8" y2="423.7" stroke="#b8892a" stroke-width="4.4" stroke-linecap="butt" />
<line x1="686.2" y1="447.4" x2="902.2" y2="445.8" stroke="#8fe08f" stroke-width="4.4" stroke-linecap="butt" />
<line x1="687.1" y1="468" x2="740" y2="467" stroke="#3d0912" stroke-width="4.4" stroke-linecap="butt" />
</g>
<line x1="666.3" y1="125.6" x2="666.3" y2="493.7" stroke="#000" stroke-width="4.1" stroke-linecap="butt" />
<line x1="664.25" y1="491.6" x2="1032" y2="491.6" stroke="#000" stroke-width="4.1" stroke-linecap="butt" />
<line x1="658.6" y1="423.6" x2="666.3" y2="423.6" stroke="#000" stroke-width="4.1" stroke-linecap="butt" />
<text x="643.9" y="434.6" font-size="29.3" text-anchor="end" fill="#000" >5</text>
<line x1="658.6" y1="348.6" x2="666.3" y2="348.6" stroke="#000" stroke-width="4.1" stroke-linecap="butt" />
<text x="643.9" y="359.6" font-size="29.3" text-anchor="end" fill="#000" >10</text>
<line x1="658.6" y1="273.6" x2="666.3" y2="273.6" stroke="#000" stroke-width="4.1" stroke-linecap="butt" />
<text x="643.9" y="284.6" font-size="29.3" text-anchor="end" fill="#000" >15</text>
<line x1="658.6" y1="198.6" x2="666.3" y2="198.6" stroke="#000" stroke-width="4.1" stroke-linecap="butt" />
<text x="643.9" y="209.6" font-size="29.3" text-anchor="end" fill="#000" >20</text>
<line x1="679.8" y1="491.6" x2="679.8" y2="499" stroke="#000" stroke-width="4.1" stroke-linecap="butt" />
<text x="679.8" y="534.4" font-size="29.3" text-anchor="middle" fill="#000" >0</text>
<line x1="829.7" y1="491.6" x2="829.7" y2="499" stroke="#000" stroke-width="4.1" stroke-linecap="butt" />
<text x="829.7" y="534.4" font-size="29.3" text-anchor="middle" fill="#000" >5</text>
<line x1="979.6" y1="491.6" x2="979.6" y2="499" stroke="#000" stroke-width="4.1" stroke-linecap="butt" />
<text x="979.6" y="534.4" font-size="29.3" text-anchor="middle" fill="#000" >10</text>
<text x="848.5" y="585.8" font-size="40" text-anchor="middle" fill="#000" >Mean firing rate</text>
<text x="848.5" y="630.6" font-size="40" text-anchor="middle" fill="#000" >2nd phase (sp/s)</text>
<text x="541" y="308" font-size="40" text-anchor="middle" fill="#000" transform="rotate(-90 541 308)" >Mean firing rate</text>
<text x="585.8" y="308" font-size="40" text-anchor="middle" fill="#000" transform="rotate(-90 585.8 308)" >1st phase (sp/s)</text>
<rect x="924.1" y="132.1" width="5.4" height="7.9" fill="#a9a9a9"/>
<rect x="935.2" y="132.1" width="5.6" height="7.9" fill="#a9a9a9"/>
<rect x="940.8" y="106.9" width="5.8" height="33.1" fill="#a9a9a9"/>
<rect x="946.6" y="73.7" width="5.7" height="66.3" fill="#a9a9a9"/>
<rect x="952.3" y="70.5" width="5.6" height="69.5" fill="#a9a9a9"/>
<rect x="957.9" y="90.2" width="5.8" height="49.8" fill="#a9a9a9"/>
<rect x="963.7" y="98.8" width="5.7" height="41.2" fill="#a9a9a9"/>
<rect x="969.4" y="98.8" width="5.6" height="41.2" fill="#a9a9a9"/>
<rect x="986.5" y="132.1" width="5.4" height="7.9" fill="#a9a9a9"/>
<line x1="954.7" y1="53.4" x2="954.7" y2="140" stroke="#000" stroke-width="4.3" stroke-linecap="butt" stroke-dasharray="13,5"/>
<line x1="914.5" y1="51.3" x2="914.5" y2="142.1" stroke="#000" stroke-width="4.1" stroke-linecap="butt" />
<line x1="912.45" y1="140" x2="1003.2" y2="140" stroke="#000" stroke-width="4.1" stroke-linecap="butt" />
<line x1="944.4" y1="140" x2="944.4" y2="145.8" stroke="#000" stroke-width="4.1" stroke-linecap="butt" />
<line x1="957.7" y1="140" x2="957.7" y2="145.8" stroke="#000" stroke-width="4.1" stroke-linecap="butt" />
<line x1="971.2" y1="140" x2="971.2" y2="145.8" stroke="#000" stroke-width="4.1" stroke-linecap="butt" />
<text x="926.2" y="174.2" font-size="24" text-anchor="start" fill="#000" >-101</text>
<text x="958" y="213.8" font-size="32.2" text-anchor="middle" fill="#000" >Slope</text>
<text x="896.5" y="95.1" font-size="31.8" text-anchor="middle" fill="#000" transform="rotate(-90 896.5 95.1)" >Probability</text>
<polygon points="1108.43,814.22 1278.47,705.86 1277.37,176.77 1094.69,268.03" fill="#f8f8f8" />
<polygon points="1480.31,796.41 1278.47,705.86 1277.37,176.77 1494.01,252.7" fill="#f1f1f1" />
<polygon points="1312.88,913.17 1108.43,814.22 1278.47,705.86 1480.31,796.41" fill="#f3f3f3" />
<polyline points="1141.08,830.02 1310.74,720.34 1311.92,197.41" fill="none" stroke="#a8a8a8" stroke-width="2.3"/>
<polyline points="1209.16,862.97 1378,750.51 1383.96,222.78" fill="none" stroke="#a8a8a8" stroke-width="2.3"/>
<polyline points="1279.04,896.79 1446.95,781.44 1457.95,248.83" fill="none" stroke="#a8a8a8" stroke-width="2.3"/>
<polyline points="1324.13,905.32 1119.84,806.95 1107.19,270.66" fill="none" stroke="#a8a8a8" stroke-width="2.3"/>
<polyline points="1354.52,884.14 1150.66,787.31 1140.33,254.03" fill="none" stroke="#a8a8a8" stroke-width="2.3"/>
<polyline points="1384.42,863.28 1181.01,767.97 1172.94,237.67" fill="none" stroke="#a8a8a8" stroke-width="2.3"/>
<polyline points="1442.82,822.56 1240.34,730.16 1236.57,205.74" fill="none" stroke="#a8a8a8" stroke-width="2.3"/>
<polyline points="1108.43,814.22 1312.88,913.17 1480.31,796.41" fill="none" stroke="#000" stroke-width="3"/>
<line x1="1142.49" y1="829.1" x2="1134.86" y2="834.03" stroke="#000" stroke-width="2.2" stroke-linecap="butt" />
<line x1="1210.58" y1="862.03" x2="1202.98" y2="867.09" stroke="#000" stroke-width="2.2" stroke-linecap="butt" />
<line x1="1280.45" y1="895.83" x2="1272.89" y2="901.02" stroke="#000" stroke-width="2.2" stroke-linecap="butt" />
<line x1="1322.44" y1="904.51" x2="1331.57" y2="908.91" stroke="#000" stroke-width="2.2" stroke-linecap="butt" />
<line x1="1352.82" y1="883.33" x2="1361.94" y2="887.66" stroke="#000" stroke-width="2.2" stroke-linecap="butt" />
<line x1="1382.73" y1="862.49" x2="1391.82" y2="866.75" stroke="#000" stroke-width="2.2" stroke-linecap="butt" />
<line x1="1441.14" y1="821.79" x2="1450.18" y2="825.92" stroke="#000" stroke-width="2.2" stroke-linecap="butt" />
<g clip-path="url(#pc1)"><g filter="url(#cw)">
<rect x="1126.53" y="702.95" width="336.5" height="191.29" fill="#000"/>
<g transform="matrix(-178.0771 -82.6965 148.4230 -98.5909 1310.108 887.623)">
<ellipse cx="0.7800" cy="0.3500" rx="0.3000" ry="0.8000" fill="url(#gb)" opacity="0.250" transform="rotate(0 0.7800 0.3500)"/>
</g>
<ellipse cx="1256.5" cy="809.2" rx="172" ry="37" fill="url(#gt)" opacity="1.000" transform="rotate(-31.8 1256.5 809.2)"/>
</g></g>
<g clip-path="url(#pc2)"><g filter="url(#cw)">
<rect x="1123.81" y="582.71" width="341.94" height="185.33" fill="#000"/>
<g transform="matrix(-181.0452 -79.9474 150.8943 -95.3777 1310.378 761.453)">
<ellipse cx="0.5600" cy="0.0600" rx="0.1750" ry="1.0000" fill="url(#gq)" opacity="1.000" transform="rotate(0 0.5600 0.0600)"/>
<ellipse cx="0.8400" cy="0.3000" rx="0.2500" ry="0.8000" fill="url(#gb)" opacity="0.220" transform="rotate(0 0.8400 0.3000)"/>
</g>
</g></g>
<g clip-path="url(#pc3)"><g filter="url(#cw)">
<rect x="1121.01" y="458.92" width="347.55" height="178.87" fill="#000"/>
<g transform="matrix(-184.1048 -76.9716 153.4416 -91.8987 1310.657 631.239)">
<ellipse cx="0.7200" cy="0.2500" rx="0.3000" ry="0.7000" fill="url(#gb)" opacity="0.180" transform="rotate(0 0.7200 0.2500)"/>
</g>
<ellipse cx="1258" cy="562.5" rx="172" ry="36" fill="url(#gt)" opacity="1.000" transform="rotate(-28.4 1258 562.5)"/>
</g></g>
<g clip-path="url(#pc4)"><g filter="url(#cw)">
<rect x="1118.09" y="329.58" width="353.41" height="171.78" fill="#000"/>
<g transform="matrix(-187.3055 -73.7044 156.1063 -88.0778 1310.948 494.847)">
<ellipse cx="0.4600" cy="0.0000" rx="0.1700" ry="0.9200" fill="url(#gb)" opacity="1.000" transform="rotate(3 0.4600 0.0000)"/>
<ellipse cx="0.4500" cy="0.4500" rx="0.1600" ry="0.5000" fill="url(#gb)" opacity="0.300" transform="rotate(3 0.4500 0.4500)"/>
<ellipse cx="0.7000" cy="0.3000" rx="0.2500" ry="0.6000" fill="url(#gb)" opacity="0.150" transform="rotate(0 0.7000 0.3000)"/>
</g>
</g></g>
<g clip-path="url(#pc5)"><g filter="url(#cw)">
<rect x="1115.03" y="194.58" width="359.54" height="164.01" fill="#000"/>
<g transform="matrix(-190.6504 -70.1216 158.8909 -83.8868 1311.253 352.126)">
<ellipse cx="0.5300" cy="0.0000" rx="0.1250" ry="1.1200" fill="url(#gb)" opacity="1.000" transform="rotate(0 0.5300 0.0000)"/>
<ellipse cx="0.5250" cy="0.6800" rx="0.0900" ry="0.5500" fill="url(#gb)" opacity="0.400" transform="rotate(0 0.5250 0.6800)"/>
<ellipse cx="0.8750" cy="0.4300" rx="0.3000" ry="0.5500" fill="url(#gb)" opacity="0.180" transform="rotate(0 0.8750 0.4300)"/>
<ellipse cx="0.2660" cy="0.4500" rx="0.3000" ry="0.5500" fill="url(#gb)" opacity="0.180" transform="rotate(0 0.2660 0.4500)"/>
</g>
</g></g>
<line x1="1495.6" y1="263.5" x2="1500.6" y2="263.5" stroke="#000" stroke-width="2.2" stroke-linecap="butt" />
<line x1="1492.8" y1="404.5" x2="1497.8" y2="404.5" stroke="#000" stroke-width="2.2" stroke-linecap="butt" />
<line x1="1488.4" y1="538.9" x2="1493.4" y2="538.9" stroke="#000" stroke-width="2.2" stroke-linecap="butt" />
<line x1="1483" y1="667.1" x2="1488" y2="667.1" stroke="#000" stroke-width="2.2" stroke-linecap="butt" />
<line x1="1481.6" y1="785.2" x2="1486.6" y2="785.2" stroke="#000" stroke-width="2.2" stroke-linecap="butt" />
<text x="1509.3" y="273.6" font-size="29.3" text-anchor="start" fill="#000" >True</text>
<text x="1551.5" y="408.3" font-size="29.3" text-anchor="middle" fill="#1c1cd6" >3s</text>
<text x="1551.5" y="443.8" font-size="29.3" text-anchor="middle" fill="#1c1cd6" >variable</text>
<text x="1498" y="547.4" font-size="29.3" text-anchor="start" fill="#6e0c12" >6s</text>
<text x="1498.9" y="677" font-size="29.3" text-anchor="start" fill="#b01e24" >3s</text>
<text x="1498.9" y="792.7" font-size="29.3" text-anchor="start" fill="#d63a2e" >1.5s</text>
<text x="1123.7" y="922" font-size="29.3" text-anchor="middle" fill="#000" >8</text>
<text x="1190.3" y="955.9" font-size="29.3" text-anchor="middle" fill="#000" >4.5</text>
<text x="1259" y="990.9" font-size="29.3" text-anchor="middle" fill="#000" >1</text>
<text x="1346.5" y="995.3" font-size="29.3" text-anchor="middle" fill="#000" >0</text>
<text x="1374.6" y="976.6" font-size="29.3" text-anchor="middle" fill="#000" >1.5</text>
<text x="1405.3" y="955.2" font-size="29.3" text-anchor="middle" fill="#000" >3</text>
<text x="1462.7" y="913.8" font-size="29.3" text-anchor="middle" fill="#000" >6</text>
<text x="1163.7" y="1025.3" font-size="40" text-anchor="middle" fill="#000" transform="rotate(26 1163.7 1025.3)" >Magnitude (<tspan font-style="italic">μ</tspan>l)</text>
<text x="1438" y="990.5" font-size="40" text-anchor="middle" fill="#000" transform="rotate(-34.8 1438 990.5)" >Time</text>
<text x="1470.5" y="1027" font-size="40" text-anchor="middle" fill="#000" transform="rotate(-34.8 1470.5 1027)" >since cue (s)</text>
<polygon points="1663.43,811.22 1833.47,702.86 1832.37,173.77 1649.69,265.03" fill="#f8f8f8" />
<polygon points="2035.31,793.41 1833.47,702.86 1832.37,173.77 2049.01,249.7" fill="#f1f1f1" />
<polygon points="1867.88,910.17 1663.43,811.22 1833.47,702.86 2035.31,793.41" fill="#f3f3f3" />
<polyline points="1696.08,827.02 1865.74,717.34 1866.92,194.41" fill="none" stroke="#a8a8a8" stroke-width="2.3"/>
<polyline points="1764.16,859.97 1933,747.51 1938.96,219.78" fill="none" stroke="#a8a8a8" stroke-width="2.3"/>
<polyline points="1834.04,893.79 2001.95,778.44 2012.95,245.83" fill="none" stroke="#a8a8a8" stroke-width="2.3"/>
<polyline points="1879.13,902.32 1674.84,803.95 1662.19,267.66" fill="none" stroke="#a8a8a8" stroke-width="2.3"/>
<polyline points="1909.52,881.14 1705.66,784.31 1695.33,251.03" fill="none" stroke="#a8a8a8" stroke-width="2.3"/>
<polyline points="1939.42,860.28 1736.01,764.97 1727.94,234.67" fill="none" stroke="#a8a8a8" stroke-width="2.3"/>
<polyline points="1997.82,819.56 1795.34,727.16 1791.57,202.74" fill="none" stroke="#a8a8a8" stroke-width="2.3"/>
<polyline points="1663.43,811.22 1867.88,910.17 2035.31,793.41" fill="none" stroke="#000" stroke-width="3"/>
<line x1="1697.49" y1="826.1" x2="1689.86" y2="831.03" stroke="#000" stroke-width="2.2" stroke-linecap="butt" />
<line x1="1765.58" y1="859.03" x2="1757.98" y2="864.09" stroke="#000" stroke-width="2.2" stroke-linecap="butt" />
<line x1="1835.45" y1="892.83" x2="1827.89" y2="898.02" stroke="#000" stroke-width="2.2" stroke-linecap="butt" />
<line x1="1877.44" y1="901.51" x2="1886.57" y2="905.91" stroke="#000" stroke-width="2.2" stroke-linecap="butt" />
<line x1="1907.82" y1="880.33" x2="1916.94" y2="884.66" stroke="#000" stroke-width="2.2" stroke-linecap="butt" />
<line x1="1937.73" y1="859.49" x2="1946.82" y2="863.75" stroke="#000" stroke-width="2.2" stroke-linecap="butt" />
<line x1="1996.14" y1="818.79" x2="2005.18" y2="822.92" stroke="#000" stroke-width="2.2" stroke-linecap="butt" />
<g clip-path="url(#pc6)"><g filter="url(#cw)">
<rect x="1681.53" y="699.95" width="336.5" height="191.29" fill="#000"/>
<g transform="matrix(-178.0771 -82.6965 148.4230 -98.5909 1865.108 884.623)">
<ellipse cx="0.5000" cy="0.0000" rx="0.1300" ry="0.9200" fill="url(#gb)" opacity="1.000" transform="rotate(0 0.5000 0.0000)"/>
<ellipse cx="0.5000" cy="0.5500" rx="0.1000" ry="0.3500" fill="url(#gb)" opacity="0.300" transform="rotate(0 0.5000 0.5500)"/>
<ellipse cx="0.7700" cy="0.3000" rx="0.2000" ry="0.6000" fill="url(#gb)" opacity="0.070" transform="rotate(0 0.7700 0.3000)"/>
</g>
</g></g>
<g clip-path="url(#pc7)"><g filter="url(#cw)">
<rect x="1677.87" y="537.84" width="343.84" height="183.18" fill="#000"/>
<g transform="matrix(-182.0798 -78.9572 151.7556 -94.2203 1865.472 714.441)">
<ellipse cx="0.4600" cy="0.4900" rx="0.1000" ry="0.5700" fill="url(#gq)" opacity="1.000" transform="rotate(4 0.4600 0.4900)"/>
</g>
</g></g>
<g clip-path="url(#pc8)"><g filter="url(#cw)">
<rect x="1674.04" y="368.55" width="351.51" height="174.12" fill="#000"/>
<g transform="matrix(-186.2665 -74.7822 155.2413 -89.3384 1865.854 536.140)">
<ellipse cx="0.5100" cy="1.0500" rx="0.1000" ry="0.4200" fill="url(#gb)" opacity="1.000" transform="rotate(0 0.5100 1.0500)"/>
<ellipse cx="0.5400" cy="0.8200" rx="0.1600" ry="0.3500" fill="url(#gb)" opacity="0.400" transform="rotate(0 0.5400 0.8200)"/>
<ellipse cx="0.5000" cy="0.0000" rx="0.0500" ry="0.1500" fill="url(#gb)" opacity="0.120" transform="rotate(0 0.5000 0.0000)"/>
</g>
</g></g>
<g clip-path="url(#pc9)"><g filter="url(#cw)">
<rect x="1670.03" y="191.58" width="359.54" height="164.01" fill="#000"/>
<g transform="matrix(-190.6504 -70.1216 158.8909 -83.8868 1866.253 349.126)">
<rect x="-0.1" y="0" width="1.2" height="1" fill="url(#gband)" opacity="0.300"/>
<rect x="-0.1" y="-0.1" width="1.2" height="1.2" fill="url(#gufade)"/>
</g>
<ellipse cx="1814" cy="256" rx="125" ry="48" fill="url(#gb)" opacity="1.000" transform="rotate(-7 1814 256)"/>
<ellipse cx="1907" cy="292.5" rx="85" ry="34" fill="url(#gb)" opacity="0.550" transform="rotate(-9 1907 292.5)"/>
</g></g>
<line x1="2050.6" y1="256.9" x2="2055.6" y2="256.9" stroke="#000" stroke-width="2.2" stroke-linecap="butt" />
<line x1="2045.1" y1="443.8" x2="2050.1" y2="443.8" stroke="#000" stroke-width="2.2" stroke-linecap="butt" />
<line x1="2042.7" y1="617.9" x2="2047.7" y2="617.9" stroke="#000" stroke-width="2.2" stroke-linecap="butt" />
<line x1="2039.7" y1="781.5" x2="2044.7" y2="781.5" stroke="#000" stroke-width="2.2" stroke-linecap="butt" />
<text x="2107.5" y="265.8" font-size="29.3" text-anchor="middle" fill="#1c1cd6" >3s</text>
<text x="2107.3" y="299.1" font-size="29.3" text-anchor="middle" fill="#1c1cd6" >variable</text>
<text x="2063.2" y="458.5" font-size="29.3" text-anchor="start" fill="#6e0c12" >6s</text>
<text x="2051.7" y="626.9" font-size="29.3" text-anchor="start" fill="#b01e24" >3s</text>
<text x="2051.7" y="791.7" font-size="29.3" text-anchor="start" fill="#d63a2e" >1.5s</text>
<text x="1678.7" y="919" font-size="29.3" text-anchor="middle" fill="#000" >8</text>
<text x="1745.3" y="952.9" font-size="29.3" text-anchor="middle" fill="#000" >4.5</text>
<text x="1814" y="987.9" font-size="29.3" text-anchor="middle" fill="#000" >1</text>
<text x="1901.5" y="992.3" font-size="29.3" text-anchor="middle" fill="#000" >0</text>
<text x="1929.6" y="973.6" font-size="29.3" text-anchor="middle" fill="#000" >1.5</text>
<text x="1960.3" y="952.2" font-size="29.3" text-anchor="middle" fill="#000" >3</text>
<text x="2017.7" y="910.8" font-size="29.3" text-anchor="middle" fill="#000" >6</text>
<text x="1718.7" y="1022.3" font-size="40" text-anchor="middle" fill="#000" transform="rotate(26 1718.7 1022.3)" >Magnitude (<tspan font-style="italic">μ</tspan>l)</text>
<text x="1993" y="987.5" font-size="40" text-anchor="middle" fill="#000" transform="rotate(-34.8 1993 987.5)" >Time</text>
<text x="2025.5" y="1024" font-size="40" text-anchor="middle" fill="#000" transform="rotate(-34.8 2025.5 1024)" >since cue (s)</text>
<text x="1315" y="96.5" font-size="44" text-anchor="middle" fill="#9acd32" >1st phase</text>
<text x="1873" y="91.5" font-size="44" text-anchor="middle" fill="#45b39d" >2nd phase</text>
<rect x="2046.8" y="6.4" width="14.7" height="186.8" fill="url(#cbar)" fill-opacity="0.8" stroke="#000" stroke-width="2.8"/>
<text x="2107.5" y="98.4" font-size="39" text-anchor="middle" fill="#000" transform="rotate(-90 2107.5 98.4)" >Decoded</text>
<text x="2151.7" y="97" font-size="39" text-anchor="middle" fill="#000" transform="rotate(-90 2151.7 97)" >density</text>
<g fill="none" stroke-linejoin="round">
<path d="M152 673.6 L154.82 681.77 L157.65 689.92 L160.47 698.07 L163.3 706.2 L166.12 714.33 L168.94 722.45 L171.77 730.55 L174.59 738.65 L177.41 746.74 L180.24 754.82 L183.06 762.89 L185.89 770.95 L188.71 779.01 L191.53 787.05 L194.36 795.08 L197.18 803.11 L200.01 811.12 L202.83 819.13 L205.65 827.12 L208.48 835.11 L211.3 843.09 L214.13 851.06 L216.95 859.02 L219.77 866.97 L222.6 874.91 L225.42 882.84 L228.24 890.76 L231.07 898.68 L233.89 906.58 L236.72 914.49 L239.54 922.4 L242.36 930.3 L245.19 938.21 L248.01 946.11 L250.84 954.02 L253.66 961.92 L256.48 969.83 L259.31 977.74 L262.13 985.64 L264.96 993.55 L267.78 1001.45 L270.6 1004.6 L273.43 1004.6 L276.25 1004.6 L279.07 1004.6 L281.9 1004.6 L284.72 1004.6 L287.55 1004.6 L290.37 1004.6 L293.19 1004.6 L296.02 1004.6 L298.84 1004.6 L301.67 1004.6 L304.49 1004.6 L307.31 1004.6 L310.14 1004.6 L312.96 1004.6 L315.79 1004.6 L318.61 1004.6 L321.43 1004.6 L324.26 1004.6 L327.08 1004.6 L329.9 1004.6 L332.73 1004.6 L335.55 1004.6 L338.38 1004.6 L341.2 1004.6 L344.02 1004.6 L346.85 1004.6 L349.67 1004.6 L352.5 1004.6 L355.32 1004.6 L358.14 1004.6 L360.97 1004.6 L363.79 1004.6 L366.62 1004.6 L369.44 1004.6 L372.26 1004.6 L375.09 1004.6 L377.91 1004.6 L380.73 1004.6 L383.56 1004.6 L386.38 1004.6 L389.21 1004.6 L392.03 1004.6 L394.85 1004.6 L397.68 1004.6 L400.5 1004.6 L403.33 1004.6 L406.15 1004.6 L408.97 1004.6 L411.8 1004.6 L414.62 1004.6 L417.44 1004.6 L420.27 1004.6 L423.09 1004.6 L425.92 1004.6 L428.74 1004.6 L431.56 1004.6 L434.39 1004.6 L437.21 1004.6 L440.04 1004.6 L442.86 1004.6 L445.68 1004.6 L448.51 1004.6 L451.33 1004.6 L454.16 1004.6 L456.98 1004.6 L459.8 1004.6 L462.63 1004.6 L465.45 1004.6 L468.27 1004.6 L471.1 1004.6 L473.92 1004.6 L476.75 1004.6 L479.57 1004.6 L482.39 1004.6 L485.22 1004.6 L488.04 1004.6" stroke="#9a9a9a" stroke-width="1.1"/>
<path d="M152 727.89 L154.82 735.74 L157.65 743.47 L160.47 751.1 L163.3 758.63 L166.12 766.04 L168.94 773.35 L171.77 780.55 L174.59 787.64 L177.41 794.63 L180.24 801.51 L183.06 808.28 L185.89 814.94 L188.71 821.49 L191.53 827.94 L194.36 834.28 L197.18 840.51 L200.01 846.63 L202.83 852.65 L205.65 858.56 L208.48 864.36 L211.3 870.05 L214.13 875.64 L216.95 881.12 L219.77 886.49 L222.6 891.75 L225.42 896.91 L228.24 901.96 L231.07 906.9 L233.89 911.74 L236.72 916.55 L239.54 921.31 L242.36 926.02 L245.19 930.69 L248.01 935.31 L250.84 939.87 L253.66 944.39 L256.48 948.85 L259.31 953.25 L262.13 957.59 L264.96 961.86 L267.78 966.06 L270.6 970.19 L273.43 974.23 L276.25 978.19 L279.07 982.05 L281.9 985.81 L284.72 989.44 L287.55 992.93 L290.37 996.26 L293.19 999.37 L296.02 1002.19 L298.84 1004.46 L301.67 1004.6 L304.49 1004.6 L307.31 1004.6 L310.14 1004.6 L312.96 1004.6 L315.79 1004.6 L318.61 1004.6 L321.43 1004.6 L324.26 1004.6 L327.08 1004.6 L329.9 1004.6 L332.73 1004.6 L335.55 1004.6 L338.38 1004.6 L341.2 1004.6 L344.02 1004.6 L346.85 1004.6 L349.67 1004.6 L352.5 1004.6 L355.32 1004.6 L358.14 1004.6 L360.97 1004.6 L363.79 1004.6 L366.62 1004.6 L369.44 1004.6 L372.26 1004.6 L375.09 1004.6 L377.91 1004.6 L380.73 1004.6 L383.56 1004.6 L386.38 1004.6 L389.21 1004.6 L392.03 1004.6 L394.85 1004.6 L397.68 1004.6 L400.5 1004.6 L403.33 1004.6 L406.15 1004.6 L408.97 1004.6 L411.8 1004.6 L414.62 1004.6 L417.44 1004.6 L420.27 1004.6 L423.09 1004.6 L425.92 1004.6 L428.74 1004.6 L431.56 1004.6 L434.39 1004.6 L437.21 1004.6 L440.04 1004.6 L442.86 1004.6 L445.68 1004.6 L448.51 1004.6 L451.33 1004.6 L454.16 1004.6 L456.98 1004.6 L459.8 1004.6 L462.63 1004.6 L465.45 1004.6 L468.27 1004.6 L471.1 1004.6 L473.92 1004.6 L476.75 1004.6 L479.57 1004.6 L482.39 1004.6 L485.22 1004.6 L488.04 1004.6" stroke="#9a9a9a" stroke-width="1.1"/>
<path d="M152 748.07 L154.82 755.38 L157.65 762.59 L160.47 769.69 L163.3 776.68 L166.12 783.56 L168.94 790.33 L171.77 797 L174.59 803.55 L177.41 810 L180.24 816.34 L183.06 822.57 L185.89 828.69 L188.71 834.71 L191.53 840.61 L194.36 846.41 L197.18 852.1 L200.01 857.67 L202.83 863.15 L205.65 868.51 L208.48 873.76 L211.3 878.91 L214.13 883.94 L216.95 888.87 L219.77 893.69 L222.6 898.4 L225.42 903.01 L228.24 907.5 L231.07 911.89 L233.89 916.17 L236.72 920.4 L239.54 924.57 L242.36 928.68 L245.19 932.72 L248.01 936.7 L250.84 940.61 L253.66 944.46 L256.48 948.24 L259.31 951.94 L262.13 955.58 L264.96 959.14 L267.78 962.62 L270.6 966.02 L273.43 969.33 L276.25 972.56 L279.07 975.7 L281.9 978.75 L284.72 981.69 L287.55 984.53 L290.37 987.26 L293.19 989.87 L296.02 992.36 L298.84 994.71 L301.67 996.91 L304.49 998.94 L307.31 1000.78 L310.14 1002.39 L312.96 1003.72 L315.79 1004.58 L318.61 1004.6 L321.43 1004.6 L324.26 1004.6 L327.08 1004.6 L329.9 1004.6 L332.73 1004.6 L335.55 1004.6 L338.38 1004.6 L341.2 1004.6 L344.02 1004.6 L346.85 1004.6 L349.67 1004.6 L352.5 1004.6 L355.32 1004.6 L358.14 1004.6 L360.97 1004.6 L363.79 1004.6 L366.62 1004.6 L369.44 1004.6 L372.26 1004.6 L375.09 1004.6 L377.91 1004.6 L380.73 1004.6 L383.56 1004.6 L386.38 1004.6 L389.21 1004.6 L392.03 1004.6 L394.85 1004.6 L397.68 1004.6 L400.5 1004.6 L403.33 1004.6 L406.15 1004.6 L408.97 1004.6 L411.8 1004.6 L414.62 1004.6 L417.44 1004.6 L420.27 1004.6 L423.09 1004.6 L425.92 1004.6 L428.74 1004.6 L431.56 1004.6 L434.39 1004.6 L437.21 1004.6 L440.04 1004.6 L442.86 1004.6 L445.68 1004.6 L448.51 1004.6 L451.33 1004.6 L454.16 1004.6 L456.98 1004.6 L459.8 1004.6 L462.63 1004.6 L465.45 1004.6 L468.27 1004.6 L471.1 1004.6 L473.92 1004.6 L476.75 1004.6 L479.57 1004.6 L482.39 1004.6 L485.22 1004.6 L488.04 1004.6" stroke="#9a9a9a" stroke-width="1.1"/>
<path d="M152 753.11 L154.82 759.47 L157.65 765.75 L160.47 771.96 L163.3 778.08 L166.12 784.14 L168.94 790.11 L171.77 796.01 L174.59 801.84 L177.41 807.58 L180.24 813.26 L183.06 818.85 L185.89 824.37 L188.71 829.81 L191.53 835.18 L194.36 840.47 L197.18 845.68 L200.01 850.82 L202.83 855.88 L205.65 860.87 L208.48 865.78 L211.3 870.61 L214.13 875.36 L216.95 880.04 L219.77 884.65 L222.6 889.18 L225.42 893.63 L228.24 898 L231.07 902.3 L233.89 906.53 L236.72 910.69 L239.54 914.8 L242.36 918.84 L245.19 922.82 L248.01 926.74 L250.84 930.59 L253.66 934.38 L256.48 938.1 L259.31 941.75 L262.13 945.33 L264.96 948.84 L267.78 952.28 L270.6 955.65 L273.43 958.94 L276.25 962.15 L279.07 965.28 L281.9 968.33 L284.72 971.3 L287.55 974.19 L290.37 976.98 L293.19 979.69 L296.02 982.3 L298.84 984.81 L301.67 987.22 L304.49 989.52 L307.31 991.71 L310.14 993.78 L312.96 995.73 L315.79 997.55 L318.61 999.22 L321.43 1000.73 L324.26 1002.07 L327.08 1003.2 L329.9 1004.08 L332.73 1004.59 L335.55 1004.6 L338.38 1004.6 L341.2 1004.6 L344.02 1004.6 L346.85 1004.6 L349.67 1004.6 L352.5 1004.6 L355.32 1004.6 L358.14 1004.6 L360.97 1004.6 L363.79 1004.6 L366.62 1004.6 L369.44 1004.6 L372.26 1004.6 L375.09 1004.6 L377.91 1004.6 L380.73 1004.6 L383.56 1004.6 L386.38 1004.6 L389.21 1004.6 L392.03 1004.6 L394.85 1004.6 L397.68 1004.6 L400.5 1004.6 L403.33 1004.6 L406.15 1004.6 L408.97 1004.6 L411.8 1004.6 L414.62 1004.6 L417.44 1004.6 L420.27 1004.6 L423.09 1004.6 L425.92 1004.6 L428.74 1004.6 L431.56 1004.6 L434.39 1004.6 L437.21 1004.6 L440.04 1004.6 L442.86 1004.6 L445.68 1004.6 L448.51 1004.6 L451.33 1004.6 L454.16 1004.6 L456.98 1004.6 L459.8 1004.6 L462.63 1004.6 L465.45 1004.6 L468.27 1004.6 L471.1 1004.6 L473.92 1004.6 L476.75 1004.6 L479.57 1004.6 L482.39 1004.6 L485.22 1004.6 L488.04 1004.6" stroke="#9a9a9a" stroke-width="1.1"/>
<path d="M152 768.48 L154.82 775.97 L157.65 783.29 L160.47 790.47 L163.3 797.48 L166.12 804.35 L168.94 811.06 L171.77 817.61 L174.59 824.01 L177.41 830.25 L180.24 836.34 L183.06 842.27 L185.89 848.05 L188.71 853.68 L191.53 859.15 L194.36 864.46 L197.18 869.62 L200.01 874.63 L202.83 879.48 L205.65 884.17 L208.48 888.71 L211.3 893.1 L214.13 897.33 L216.95 901.41 L219.77 905.33 L222.6 909.09 L225.42 912.71 L228.24 916.16 L231.07 919.46 L233.89 922.63 L236.72 925.74 L239.54 928.8 L242.36 931.8 L245.19 934.75 L248.01 937.65 L250.84 940.49 L253.66 943.27 L256.48 946 L259.31 948.68 L262.13 951.3 L264.96 953.86 L267.78 956.37 L270.6 958.82 L273.43 961.21 L276.25 963.55 L279.07 965.83 L281.9 968.05 L284.72 970.21 L287.55 972.31 L290.37 974.35 L293.19 976.34 L296.02 978.26 L298.84 980.13 L301.67 981.93 L304.49 983.67 L307.31 985.35 L310.14 986.97 L312.96 988.52 L315.79 990.01 L318.61 991.43 L321.43 992.79 L324.26 994.08 L327.08 995.31 L329.9 996.47 L332.73 997.56 L335.55 998.58 L338.38 999.52 L341.2 1000.4 L344.02 1001.2 L346.85 1001.92 L349.67 1002.57 L352.5 1003.13 L355.32 1003.62 L358.14 1004.01 L360.97 1004.31 L363.79 1004.52 L366.62 1004.6 L369.44 1004.6 L372.26 1004.6 L375.09 1004.6 L377.91 1004.6 L380.73 1004.6 L383.56 1004.6 L386.38 1004.6 L389.21 1004.6 L392.03 1004.6 L394.85 1004.6 L397.68 1004.6 L400.5 1004.6 L403.33 1004.6 L406.15 1004.6 L408.97 1004.6 L411.8 1004.6 L414.62 1004.6 L417.44 1004.6 L420.27 1004.6 L423.09 1004.6 L425.92 1004.6 L428.74 1004.6 L431.56 1004.6 L434.39 1004.6 L437.21 1004.6 L440.04 1004.6 L442.86 1004.6 L445.68 1004.6 L448.51 1004.6 L451.33 1004.6 L454.16 1004.6 L456.98 1004.6 L459.8 1004.6 L462.63 1004.6 L465.45 1004.6 L468.27 1004.6 L471.1 1004.6 L473.92 1004.6 L476.75 1004.6 L479.57 1004.6 L482.39 1004.6 L485.22 1004.6 L488.04 1004.6" stroke="#9a9a9a" stroke-width="1.1"/>
<path d="M152 781.93 L154.82 789.79 L157.65 797.46 L160.47 804.94 L163.3 812.23 L166.12 819.34 L168.94 826.27 L171.77 833.01 L174.59 839.56 L177.41 845.93 L180.24 852.11 L183.06 858.11 L185.89 863.92 L188.71 869.54 L191.53 874.98 L194.36 880.23 L197.18 885.3 L200.01 890.19 L202.83 894.88 L205.65 899.39 L208.48 903.72 L211.3 907.86 L214.13 911.81 L216.95 915.58 L219.77 919.16 L222.6 922.56 L225.42 925.77 L228.24 928.79 L231.07 931.63 L233.89 934.32 L236.72 936.95 L239.54 939.52 L242.36 942.05 L245.19 944.53 L248.01 946.95 L250.84 949.33 L253.66 951.65 L256.48 953.93 L259.31 956.16 L262.13 958.33 L264.96 960.46 L267.78 962.54 L270.6 964.56 L273.43 966.54 L276.25 968.47 L279.07 970.34 L281.9 972.17 L284.72 973.95 L287.55 975.67 L290.37 977.35 L293.19 978.97 L296.02 980.55 L298.84 982.08 L301.67 983.55 L304.49 984.98 L307.31 986.35 L310.14 987.68 L312.96 988.96 L315.79 990.18 L318.61 991.36 L321.43 992.48 L324.26 993.56 L327.08 994.59 L329.9 995.56 L332.73 996.49 L335.55 997.36 L338.38 998.19 L341.2 998.97 L344.02 999.69 L346.85 1000.37 L349.67 1000.99 L352.5 1001.57 L355.32 1002.09 L358.14 1002.57 L360.97 1003 L363.79 1003.37 L366.62 1003.7 L369.44 1003.97 L372.26 1004.2 L375.09 1004.37 L377.91 1004.5 L380.73 1004.57 L383.56 1004.6 L386.38 1004.6 L389.21 1004.6 L392.03 1004.6 L394.85 1004.6 L397.68 1004.6 L400.5 1004.6 L403.33 1004.6 L406.15 1004.6 L408.97 1004.6 L411.8 1004.6 L414.62 1004.6 L417.44 1004.6 L420.27 1004.6 L423.09 1004.6 L425.92 1004.6 L428.74 1004.6 L431.56 1004.6 L434.39 1004.6 L437.21 1004.6 L440.04 1004.6 L442.86 1004.6 L445.68 1004.6 L448.51 1004.6 L451.33 1004.6 L454.16 1004.6 L456.98 1004.6 L459.8 1004.6 L462.63 1004.6 L465.45 1004.6 L468.27 1004.6 L471.1 1004.6 L473.92 1004.6 L476.75 1004.6 L479.57 1004.6 L482.39 1004.6 L485.22 1004.6 L488.04 1004.6" stroke="#9a9a9a" stroke-width="1.1"/>
<path d="M152 793.22 L154.82 799.33 L157.65 805.32 L160.47 811.21 L163.3 817 L166.12 822.68 L168.94 828.26 L171.77 833.73 L174.59 839.09 L177.41 844.35 L180.24 849.51 L183.06 854.55 L185.89 859.5 L188.71 864.34 L191.53 869.07 L194.36 873.7 L197.18 878.22 L200.01 882.64 L202.83 886.95 L205.65 891.15 L208.48 895.25 L211.3 899.25 L214.13 903.14 L216.95 906.93 L219.77 910.61 L222.6 914.18 L225.42 917.65 L228.24 921.01 L231.07 924.27 L233.89 927.44 L236.72 930.55 L239.54 933.6 L242.36 936.61 L245.19 939.56 L248.01 942.45 L250.84 945.29 L253.66 948.08 L256.48 950.81 L259.31 953.48 L262.13 956.1 L264.96 958.66 L267.78 961.17 L270.6 963.61 L273.43 966 L276.25 968.33 L279.07 970.6 L281.9 972.8 L284.72 974.95 L287.55 977.03 L290.37 979.05 L293.19 981.01 L296.02 982.9 L298.84 984.73 L301.67 986.49 L304.49 988.18 L307.31 989.81 L310.14 991.36 L312.96 992.84 L315.79 994.25 L318.61 995.58 L321.43 996.84 L324.26 998.02 L327.08 999.11 L329.9 1000.13 L332.73 1001.05 L335.55 1001.89 L338.38 1002.63 L341.2 1003.27 L344.02 1003.81 L346.85 1004.22 L349.67 1004.5 L352.5 1004.6 L355.32 1004.6 L358.14 1004.6 L360.97 1004.6 L363.79 1004.6 L366.62 1004.6 L369.44 1004.6 L372.26 1004.6 L375.09 1004.6 L377.91 1004.6 L380.73 1004.6 L383.56 1004.6 L386.38 1004.6 L389.21 1004.6 L392.03 1004.6 L394.85 1004.6 L397.68 1004.6 L400.5 1004.6 L403.33 1004.6 L406.15 1004.6 L408.97 1004.6 L411.8 1004.6 L414.62 1004.6 L417.44 1004.6 L420.27 1004.6 L423.09 1004.6 L425.92 1004.6 L428.74 1004.6 L431.56 1004.6 L434.39 1004.6 L437.21 1004.6 L440.04 1004.6 L442.86 1004.6 L445.68 1004.6 L448.51 1004.6 L451.33 1004.6 L454.16 1004.6 L456.98 1004.6 L459.8 1004.6 L462.63 1004.6 L465.45 1004.6 L468.27 1004.6 L471.1 1004.6 L473.92 1004.6 L476.75 1004.6 L479.57 1004.6 L482.39 1004.6 L485.22 1004.6 L488.04 1004.6" stroke="#9a9a9a" stroke-width="1.1"/>
<path d="M152 824.45 L154.82 827.9 L157.65 831.37 L160.47 834.87 L163.3 838.4 L166.12 841.95 L168.94 845.54 L171.77 849.14 L174.59 852.78 L177.41 856.44 L180.24 860.13 L183.06 863.85 L185.89 867.59 L188.71 871.36 L191.53 875.16 L194.36 878.98 L197.18 882.83 L200.01 886.71 L202.83 890.61 L205.65 894.55 L208.48 898.5 L211.3 902.49 L214.13 906.5 L216.95 910.54 L219.77 914.61 L222.6 918.7 L225.42 922.82 L228.24 926.97 L231.07 931.14 L233.89 935.33 L236.72 939.5 L239.54 943.65 L242.36 947.77 L245.19 951.86 L248.01 955.93 L250.84 959.96 L253.66 963.96 L256.48 967.93 L259.31 971.85 L262.13 975.74 L264.96 979.57 L267.78 983.36 L270.6 987.08 L273.43 990.73 L276.25 994.3 L279.07 997.76 L281.9 1001.05 L284.72 1004.06 L287.55 1004.6 L290.37 1004.6 L293.19 1004.6 L296.02 1004.6 L298.84 1004.6 L301.67 1004.6 L304.49 1004.6 L307.31 1004.6 L310.14 1004.6 L312.96 1004.6 L315.79 1004.6 L318.61 1004.6 L321.43 1004.6 L324.26 1004.6 L327.08 1004.6 L329.9 1004.6 L332.73 1004.6 L335.55 1004.6 L338.38 1004.6 L341.2 1004.6 L344.02 1004.6 L346.85 1004.6 L349.67 1004.6 L352.5 1004.6 L355.32 1004.6 L358.14 1004.6 L360.97 1004.6 L363.79 1004.6 L366.62 1004.6 L369.44 1004.6 L372.26 1004.6 L375.09 1004.6 L377.91 1004.6 L380.73 1004.6 L383.56 1004.6 L386.38 1004.6 L389.21 1004.6 L392.03 1004.6 L394.85 1004.6 L397.68 1004.6 L400.5 1004.6 L403.33 1004.6 L406.15 1004.6 L408.97 1004.6 L411.8 1004.6 L414.62 1004.6 L417.44 1004.6 L420.27 1004.6 L423.09 1004.6 L425.92 1004.6 L428.74 1004.6 L431.56 1004.6 L434.39 1004.6 L437.21 1004.6 L440.04 1004.6 L442.86 1004.6 L445.68 1004.6 L448.51 1004.6 L451.33 1004.6 L454.16 1004.6 L456.98 1004.6 L459.8 1004.6 L462.63 1004.6 L465.45 1004.6 L468.27 1004.6 L471.1 1004.6 L473.92 1004.6 L476.75 1004.6 L479.57 1004.6 L482.39 1004.6 L485.22 1004.6 L488.04 1004.6" stroke="#9a9a9a" stroke-width="1.1"/>
<path d="M152 891.71 L154.7 891.2 L157.4 890.77 L160.1 890.41 L162.8 890.11 L165.5 889.88 L168.2 889.69 L170.91 889.55 L173.61 889.45 L176.31 889.38 L179.01 889.34 L181.71 889.31 L184.41 889.31 L187.11 889.3 L189.81 889.47 L192.51 890.09 L195.21 891.13 L197.91 892.53 L200.61 894.25 L203.31 896.24 L206.02 898.46 L208.72 900.86 L211.42 903.39 L214.12 906.01 L216.82 908.67 L219.52 911.32 L222.22 913.92 L224.92 916.42 L227.62 918.78 L230.32 920.95 L233.02 923.09 L235.72 925.31 L238.42 927.58 L241.13 929.9 L243.83 932.25 L246.53 934.64 L249.23 937.04 L251.93 939.45 L254.63 941.85 L257.33 944.25 L260.03 946.63 L262.73 948.98 L265.43 951.29 L268.13 953.55 L270.83 955.75 L273.53 957.88 L276.23 959.93 L278.94 961.9 L281.64 963.77 L284.34 965.54 L287.04 967.21 L289.74 968.85 L292.44 970.49 L295.14 972.1 L297.84 973.7 L300.54 975.29 L303.24 976.85 L305.94 978.39 L308.64 979.91 L311.34 981.41 L314.05 982.88 L316.75 984.33 L319.45 985.75 L322.15 987.14 L324.85 988.5 L327.55 989.83 L330.25 991.13 L332.95 992.4 L335.65 993.63 L338.35 994.83 L341.05 995.99 L343.75 997.12 L346.45 998.2 L349.16 999.25 L351.86 1000.25 L354.56 1001.21 L357.26 1002.13 L359.96 1003 L362.66 1003.82 L365.36 1004.6 L488.04 1004.6" stroke="#a0a0a0" stroke-width="1.1"/>
<path d="M152 896.51 L154.93 896.53 L157.85 896.58 L160.78 896.67 L163.7 896.8 L166.63 896.95 L169.55 897.14 L172.48 897.35 L175.41 897.59 L178.33 897.86 L181.26 898.15 L184.18 898.47 L187.11 898.81 L190.04 899.16 L192.96 899.54 L195.89 899.94 L198.81 900.35 L201.74 900.77 L204.66 901.21 L207.59 901.72 L210.52 902.42 L213.44 903.3 L216.37 904.35 L219.29 905.55 L222.22 906.9 L225.15 908.37 L228.07 909.95 L231 911.63 L233.92 913.39 L236.85 915.23 L239.77 917.12 L242.7 919.05 L245.63 921.01 L248.55 922.99 L251.48 924.96 L254.4 926.92 L257.33 928.85 L260.26 930.74 L263.18 932.57 L266.11 934.42 L269.03 936.36 L271.96 938.38 L274.88 940.47 L277.81 942.61 L280.74 944.81 L283.66 947.05 L286.59 949.33 L289.51 951.62 L292.44 953.93 L295.37 956.24 L298.29 958.55 L301.22 960.85 L304.14 963.12 L307.07 965.35 L309.99 967.55 L312.92 969.69 L315.85 971.78 L318.77 973.79 L321.7 975.72 L324.62 977.56 L327.55 979.31 L330.48 980.95 L333.4 982.54 L336.33 984.1 L339.25 985.64 L342.18 987.14 L345.1 988.62 L348.03 990.07 L350.96 991.48 L353.88 992.86 L356.81 994.21 L359.73 995.52 L362.66 996.79 L365.59 998.03 L368.51 999.23 L371.44 1000.39 L374.36 1001.5 L377.29 1002.58 L380.21 1003.61 L383.14 1004.6 L488.04 1004.6" stroke="#a0a0a0" stroke-width="1.1"/>
<path d="M418.7 1003.4 L488.04 968.09" stroke="#9a9a9a" stroke-width="1.1"/>
<path d="M454.26 1004.6 Q472.04 990.19 488.04 944.55" stroke="#9a9a9a" stroke-width="1.1"/>
<path d="M152 932.17 L156.25 930.98 L160.51 929.9 L164.76 928.95 L169.01 928.12 L173.27 927.38 L177.52 926.75 L181.78 926.21 L186.03 925.75 L190.28 925.37 L194.54 925.06 L198.79 924.82 L203.04 924.62 L207.3 924.48 L211.55 924.38 L215.81 924.31 L220.06 924.27 L224.31 924.25 L228.57 924.25 L232.82 924.26 L237.07 924.55 L241.33 925.23 L245.58 926.23 L249.84 927.51 L254.09 929 L258.34 930.65 L262.6 932.4 L266.85 934.21 L271.1 936.01 L275.36 937.75 L279.61 939.37 L283.86 940.91 L288.12 942.48 L292.37 944.08 L296.63 945.72 L300.88 947.39 L305.13 949.11 L309.39 950.88 L313.64 952.7 L317.89 954.57 L322.15 956.5 L326.4 958.49 L330.66 960.56 L334.91 962.79 L339.16 965.21 L343.42 967.75 L347.67 970.38 L351.92 973.03 L356.18 975.66 L360.43 978.22 L364.68 980.66 L368.94 982.93 L373.19 985.15 L377.45 987.33 L381.7 989.47 L385.95 991.58 L390.21 993.65 L394.46 995.68 L398.71 997.66 L402.97 999.59 L407.22 1001.48 L411.48 1003.32 L415.73 1004.6 L419.98 1004.6 L424.24 1004.6 L428.49 1004.6 L432.74 1004.6 L437 1004.6 L441.25 1004.6 L445.51 1004.6 L449.76 1004.6 L454.01 1004.6 L458.27 1004.6 L462.52 1004.6 L466.77 1004.6 L471.03 1004.6 L475.28 1004.6 L479.53 1004.6 L483.79 1004.6 L488.04 1004.6" stroke="#2a2af0" stroke-width="0.9"/>
<path d="M152 924.72 L156.25 924.72 L160.51 924.72 L164.76 924.73 L169.01 924.74 L173.27 924.75 L177.52 924.76 L181.78 924.78 L186.03 924.8 L190.28 924.83 L194.54 924.85 L198.79 924.88 L203.04 924.91 L207.3 924.95 L211.55 924.99 L215.81 925.03 L220.06 925.08 L224.31 925.13 L228.57 925.18 L232.82 925.25 L237.07 925.61 L241.33 926.37 L245.58 927.47 L249.84 928.86 L254.09 930.46 L258.34 932.23 L262.6 934.11 L266.85 936.03 L271.1 937.95 L275.36 939.79 L279.61 941.51 L283.86 943.16 L288.12 944.85 L292.37 946.59 L296.63 948.38 L300.88 950.2 L305.13 952.05 L309.39 953.92 L313.64 955.8 L317.89 957.7 L322.15 959.6 L326.4 961.5 L330.66 963.38 L334.91 965.25 L339.16 967.11 L343.42 968.96 L347.67 970.84 L351.92 972.75 L356.18 974.7 L360.43 976.72 L364.68 978.82 L368.94 981.01 L373.19 983.28 L377.45 985.62 L381.7 988.03 L385.95 990.52 L390.21 993.07 L394.46 995.69 L398.71 998.37 L402.97 1001.12 L407.22 1003.93 L411.48 1004.6 L415.73 1004.6 L419.98 1004.6 L424.24 1004.6 L428.49 1004.6 L432.74 1004.6 L437 1004.6 L441.25 1004.6 L445.51 1004.6 L449.76 1004.6 L454.01 1004.6 L458.27 1004.6 L462.52 1004.6 L466.77 1004.6 L471.03 1004.6 L475.28 1004.6 L479.53 1004.6 L483.79 1004.6 L488.04 1004.6" stroke="#2a2af0" stroke-width="0.9"/>
<path d="M152 919.88 L156.25 919.9 L160.51 919.95 L164.76 920.05 L169.01 920.17 L173.27 920.33 L177.52 920.53 L181.78 920.75 L186.03 921 L190.28 921.27 L194.54 921.58 L198.79 921.9 L203.04 922.25 L207.3 922.62 L211.55 923.01 L215.81 923.42 L220.06 923.84 L224.31 924.28 L228.57 924.74 L232.82 925.21 L237.07 925.78 L241.33 926.49 L245.58 927.34 L249.84 928.3 L254.09 929.38 L258.34 930.56 L262.6 931.82 L266.85 933.17 L271.1 934.58 L275.36 936.06 L279.61 937.58 L283.86 939.3 L288.12 941.38 L292.37 943.76 L296.63 946.38 L300.88 949.16 L305.13 952.05 L309.39 954.98 L313.64 957.88 L317.89 960.68 L322.15 963.33 L326.4 965.75 L330.66 967.89 L334.91 969.8 L339.16 971.56 L343.42 973.23 L347.67 974.83 L351.92 976.42 L356.18 978.03 L360.43 979.71 L364.68 981.51 L368.94 983.44 L373.19 985.47 L377.45 987.56 L381.7 989.72 L385.95 991.95 L390.21 994.25 L394.46 996.6 L398.71 999.02 L402.97 1001.49 L407.22 1004.03 L411.48 1004.6 L415.73 1004.6 L419.98 1004.6 L424.24 1004.6 L428.49 1004.6 L432.74 1004.6 L437 1004.6 L441.25 1004.6 L445.51 1004.6 L449.76 1004.6 L454.01 1004.6 L458.27 1004.6 L462.52 1004.6 L466.77 1004.6 L471.03 1004.6 L475.28 1004.6 L479.53 1004.6 L483.79 1004.6 L488.04 1004.6" stroke="#2a2af0" stroke-width="0.9"/>
<path d="M152 911.82 L156.25 912.07 L160.51 912.37 L164.76 912.72 L169.01 913.13 L173.27 913.58 L177.52 914.08 L181.78 914.63 L186.03 915.21 L190.28 915.83 L194.54 916.49 L198.79 917.17 L203.04 917.89 L207.3 918.63 L211.55 919.39 L215.81 920.18 L220.06 920.98 L224.31 921.8 L228.57 922.63 L232.82 923.47 L237.07 924.36 L241.33 925.32 L245.58 926.35 L249.84 927.44 L254.09 928.61 L258.34 929.85 L262.6 931.16 L266.85 932.55 L271.1 934.02 L275.36 935.56 L279.61 937.18 L283.86 939.01 L288.12 941.18 L292.37 943.63 L296.63 946.29 L300.88 949.1 L305.13 952.01 L309.39 954.94 L313.64 957.83 L317.89 960.61 L322.15 963.23 L326.4 965.62 L330.66 967.72 L334.91 969.57 L339.16 971.27 L343.42 972.86 L347.67 974.38 L351.92 975.89 L356.18 977.44 L360.43 979.06 L364.68 980.82 L368.94 982.75 L373.19 984.79 L377.45 986.92 L381.7 989.15 L385.95 991.46 L390.21 993.86 L394.46 996.34 L398.71 998.89 L402.97 1001.52 L407.22 1004.22 L411.48 1004.6 L415.73 1004.6 L419.98 1004.6 L424.24 1004.6 L428.49 1004.6 L432.74 1004.6 L437 1004.6 L441.25 1004.6 L445.51 1004.6 L449.76 1004.6 L454.01 1004.6 L458.27 1004.6 L462.52 1004.6 L466.77 1004.6 L471.03 1004.6 L475.28 1004.6 L479.53 1004.6 L483.79 1004.6 L488.04 1004.6" stroke="#2a2af0" stroke-width="0.9"/>
<path d="M152 906.51 L156.25 907.16 L160.51 907.85 L164.76 908.58 L169.01 909.34 L173.27 910.13 L177.52 910.96 L181.78 911.81 L186.03 912.7 L190.28 913.61 L194.54 914.55 L198.79 915.52 L203.04 916.51 L207.3 917.52 L211.55 918.55 L215.81 919.6 L220.06 920.67 L224.31 921.76 L228.57 922.86 L232.82 923.97 L237.07 925.12 L241.33 926.31 L245.58 927.55 L249.84 928.83 L254.09 930.16 L258.34 931.53 L262.6 932.95 L266.85 934.42 L271.1 935.93 L275.36 937.5 L279.61 939.11 L283.86 940.79 L288.12 942.59 L292.37 944.48 L296.63 946.45 L300.88 948.49 L305.13 950.59 L309.39 952.72 L313.64 954.88 L317.89 957.06 L322.15 959.23 L326.4 961.4 L330.66 963.53 L334.91 965.68 L339.16 967.85 L343.42 970.05 L347.67 972.26 L351.92 974.49 L356.18 976.73 L360.43 978.97 L364.68 981.2 L368.94 983.44 L373.19 985.68 L377.45 987.92 L381.7 990.17 L385.95 992.42 L390.21 994.68 L394.46 996.94 L398.71 999.21 L402.97 1001.49 L407.22 1003.77 L411.48 1004.6 L415.73 1004.6 L419.98 1004.6 L424.24 1004.6 L428.49 1004.6 L432.74 1004.6 L437 1004.6 L441.25 1004.6 L445.51 1004.6 L449.76 1004.6 L454.01 1004.6 L458.27 1004.6 L462.52 1004.6 L466.77 1004.6 L471.03 1004.6 L475.28 1004.6 L479.53 1004.6 L483.79 1004.6 L488.04 1004.6" stroke="#2a2af0" stroke-width="0.9"/>
<path d="M152 904.48 L156.25 905.28 L160.51 906.12 L164.76 907 L169.01 907.92 L173.27 908.86 L177.52 909.84 L181.78 910.85 L186.03 911.89 L190.28 912.95 L194.54 914.05 L198.79 915.17 L203.04 916.31 L207.3 917.47 L211.55 918.66 L215.81 919.87 L220.06 921.1 L224.31 922.34 L228.57 923.6 L232.82 924.87 L237.07 926.18 L241.33 927.54 L245.58 928.95 L249.84 930.4 L254.09 931.9 L258.34 933.43 L262.6 935.01 L266.85 936.63 L271.1 938.29 L275.36 939.98 L279.61 941.72 L283.86 943.53 L288.12 945.48 L292.37 947.53 L296.63 949.65 L300.88 951.83 L305.13 954.04 L309.39 956.25 L313.64 958.43 L317.89 960.56 L322.15 962.61 L326.4 964.55 L330.66 966.37 L334.91 968.04 L339.16 969.6 L343.42 971.09 L347.67 972.54 L351.92 973.99 L356.18 975.49 L360.43 977.07 L364.68 978.77 L368.94 980.63 L373.19 982.59 L377.45 984.66 L381.7 986.81 L385.95 989.06 L390.21 991.39 L394.46 993.82 L398.71 996.32 L402.97 998.9 L407.22 1001.56 L411.48 1004.29 L415.73 1004.6 L419.98 1004.6 L424.24 1004.6 L428.49 1004.6 L432.74 1004.6 L437 1004.6 L441.25 1004.6 L445.51 1004.6 L449.76 1004.6 L454.01 1004.6 L458.27 1004.6 L462.52 1004.6 L466.77 1004.6 L471.03 1004.6 L475.28 1004.6 L479.53 1004.6 L483.79 1004.6 L488.04 1004.6" stroke="#2a2af0" stroke-width="0.9"/>
<path d="M152 896.35 L156.25 897.59 L160.51 898.84 L164.76 900.13 L169.01 901.45 L173.27 902.78 L177.52 904.15 L181.78 905.54 L186.03 906.95 L190.28 908.38 L194.54 909.84 L198.79 911.32 L203.04 912.82 L207.3 914.33 L211.55 915.87 L215.81 917.42 L220.06 918.99 L224.31 920.57 L228.57 922.17 L232.82 923.78 L237.07 925.44 L241.33 927.16 L245.58 928.91 L249.84 930.71 L254.09 932.54 L258.34 934.38 L262.6 936.24 L266.85 938.11 L271.1 939.97 L275.36 941.82 L279.61 943.65 L283.86 945.45 L288.12 947.25 L292.37 949.04 L296.63 950.82 L300.88 952.61 L305.13 954.4 L309.39 956.21 L313.64 958.03 L317.89 959.87 L322.15 961.74 L326.4 963.64 L330.66 965.57 L334.91 967.55 L339.16 969.57 L343.42 971.63 L347.67 973.71 L351.92 975.81 L356.18 977.91 L360.43 980.02 L364.68 982.12 L368.94 984.2 L373.19 986.28 L377.45 988.37 L381.7 990.46 L385.95 992.55 L390.21 994.64 L394.46 996.73 L398.71 998.83 L402.97 1000.93 L407.22 1003.04 L411.48 1004.6 L415.73 1004.6 L419.98 1004.6 L424.24 1004.6 L428.49 1004.6 L432.74 1004.6 L437 1004.6 L441.25 1004.6 L445.51 1004.6 L449.76 1004.6 L454.01 1004.6 L458.27 1004.6 L462.52 1004.6 L466.77 1004.6 L471.03 1004.6 L475.28 1004.6 L479.53 1004.6 L483.79 1004.6 L488.04 1004.6" stroke="#2a2af0" stroke-width="0.9"/>
<path d="M152 891.47 L156.25 893.43 L160.51 895.36 L164.76 897.26 L169.01 899.14 L173.27 900.99 L177.52 902.82 L181.78 904.62 L186.03 906.4 L190.28 908.16 L194.54 909.89 L198.79 911.6 L203.04 913.28 L207.3 914.94 L211.55 916.58 L215.81 918.19 L220.06 919.78 L224.31 921.35 L228.57 922.89 L232.82 924.42 L237.07 925.86 L241.33 927.22 L245.58 928.52 L249.84 929.79 L254.09 931.03 L258.34 932.28 L262.6 933.56 L266.85 934.89 L271.1 936.29 L275.36 937.79 L279.61 939.4 L283.86 941.19 L288.12 943.19 L292.37 945.36 L296.63 947.66 L300.88 950.05 L305.13 952.5 L309.39 954.95 L313.64 957.37 L317.89 959.72 L322.15 961.95 L326.4 964.04 L330.66 965.93 L334.91 967.63 L339.16 969.19 L343.42 970.67 L347.67 972.09 L351.92 973.52 L356.18 975 L360.43 976.56 L364.68 978.27 L368.94 980.15 L373.19 982.16 L377.45 984.29 L381.7 986.54 L385.95 988.89 L390.21 991.34 L394.46 993.89 L398.71 996.54 L402.97 999.28 L407.22 1002.1 L411.48 1004.6 L415.73 1004.6 L419.98 1004.6 L424.24 1004.6 L428.49 1004.6 L432.74 1004.6 L437 1004.6 L441.25 1004.6 L445.51 1004.6 L449.76 1004.6 L454.01 1004.6 L458.27 1004.6 L462.52 1004.6 L466.77 1004.6 L471.03 1004.6 L475.28 1004.6 L479.53 1004.6 L483.79 1004.6 L488.04 1004.6" stroke="#2a2af0" stroke-width="0.9"/>
<path d="M152 888.35 L156.25 890.45 L160.51 892.53 L164.76 894.58 L169.01 896.62 L173.27 898.63 L177.52 900.62 L181.78 902.59 L186.03 904.54 L190.28 906.47 L194.54 908.38 L198.79 910.26 L203.04 912.13 L207.3 913.98 L211.55 915.81 L215.81 917.62 L220.06 919.41 L224.31 921.18 L228.57 922.93 L232.82 924.67 L237.07 926.36 L241.33 927.99 L245.58 929.59 L249.84 931.16 L254.09 932.71 L258.34 934.25 L262.6 935.8 L266.85 937.36 L271.1 938.94 L275.36 940.55 L279.61 942.21 L283.86 943.91 L288.12 945.62 L292.37 947.34 L296.63 949.08 L300.88 950.83 L305.13 952.61 L309.39 954.41 L313.64 956.24 L317.89 958.09 L322.15 959.97 L326.4 961.88 L330.66 963.83 L334.91 965.84 L339.16 967.92 L343.42 970.06 L347.67 972.22 L351.92 974.4 L356.18 976.59 L360.43 978.75 L364.68 980.89 L368.94 982.98 L373.19 985.05 L377.45 987.12 L381.7 989.18 L385.95 991.23 L390.21 993.27 L394.46 995.3 L398.71 997.32 L402.97 999.34 L407.22 1001.34 L411.48 1003.34 L415.73 1004.6 L419.98 1004.6 L424.24 1004.6 L428.49 1004.6 L432.74 1004.6 L437 1004.6 L441.25 1004.6 L445.51 1004.6 L449.76 1004.6 L454.01 1004.6 L458.27 1004.6 L462.52 1004.6 L466.77 1004.6 L471.03 1004.6 L475.28 1004.6 L479.53 1004.6 L483.79 1004.6 L488.04 1004.6" stroke="#2a2af0" stroke-width="0.9"/>
<path d="M152 881.81 L156.25 884.87 L160.51 887.86 L164.76 890.78 L169.01 893.63 L173.27 896.4 L177.52 899.1 L181.78 901.72 L186.03 904.26 L190.28 906.71 L194.54 909.09 L198.79 911.38 L203.04 913.59 L207.3 915.71 L211.55 917.75 L215.81 919.69 L220.06 921.54 L224.31 923.3 L228.57 924.97 L232.82 926.53 L237.07 927.95 L241.33 929.23 L245.58 930.4 L249.84 931.48 L254.09 932.51 L258.34 933.53 L262.6 934.57 L266.85 935.65 L271.1 936.81 L275.36 938.09 L279.61 939.51 L283.86 941.12 L288.12 942.93 L292.37 944.91 L296.63 947.02 L300.88 949.24 L305.13 951.53 L309.39 953.85 L313.64 956.18 L317.89 958.48 L322.15 960.72 L326.4 962.87 L330.66 964.89 L334.91 966.8 L339.16 968.63 L343.42 970.41 L347.67 972.17 L351.92 973.95 L356.18 975.77 L360.43 977.65 L364.68 979.64 L368.94 981.76 L373.19 983.96 L377.45 986.25 L381.7 988.62 L385.95 991.07 L390.21 993.58 L394.46 996.17 L398.71 998.83 L402.97 1001.56 L407.22 1004.35 L411.48 1004.6 L415.73 1004.6 L419.98 1004.6 L424.24 1004.6 L428.49 1004.6 L432.74 1004.6 L437 1004.6 L441.25 1004.6 L445.51 1004.6 L449.76 1004.6 L454.01 1004.6 L458.27 1004.6 L462.52 1004.6 L466.77 1004.6 L471.03 1004.6 L475.28 1004.6 L479.53 1004.6 L483.79 1004.6 L488.04 1004.6" stroke="#2a2af0" stroke-width="0.9"/>
<path d="M152 873.8 L156.25 877.36 L160.51 880.85 L164.76 884.26 L169.01 887.59 L173.27 890.84 L177.52 894 L181.78 897.07 L186.03 900.06 L190.28 902.96 L194.54 905.78 L198.79 908.5 L203.04 911.13 L207.3 913.66 L211.55 916.1 L215.81 918.45 L220.06 920.69 L224.31 922.84 L228.57 924.89 L232.82 926.83 L237.07 928.64 L241.33 930.31 L245.58 931.88 L249.84 933.36 L254.09 934.78 L258.34 936.16 L262.6 937.53 L266.85 938.91 L271.1 940.32 L275.36 941.8 L279.61 943.35 L283.86 944.96 L288.12 946.58 L292.37 948.21 L296.63 949.85 L300.88 951.51 L305.13 953.2 L309.39 954.92 L313.64 956.68 L317.89 958.49 L322.15 960.35 L326.4 962.26 L330.66 964.24 L334.91 966.37 L339.16 968.64 L343.42 971.02 L347.67 973.46 L351.92 975.91 L356.18 978.34 L360.43 980.7 L364.68 982.94 L368.94 985.05 L373.19 987.09 L377.45 989.11 L381.7 991.08 L385.95 993.02 L390.21 994.93 L394.46 996.78 L398.71 998.6 L402.97 1000.37 L407.22 1002.09 L411.48 1003.76 L415.73 1004.6 L419.98 1004.6 L424.24 1004.6 L428.49 1004.6 L432.74 1004.6 L437 1004.6 L441.25 1004.6 L445.51 1004.6 L449.76 1004.6 L454.01 1004.6 L458.27 1004.6 L462.52 1004.6 L466.77 1004.6 L471.03 1004.6 L475.28 1004.6 L479.53 1004.6 L483.79 1004.6 L488.04 1004.6" stroke="#2a2af0" stroke-width="0.9"/>
<path d="M152 868.33 L156.25 871.82 L160.51 875.23 L164.76 878.58 L169.01 881.85 L173.27 885.06 L177.52 888.19 L181.78 891.26 L186.03 894.25 L190.28 897.17 L194.54 900.02 L198.79 902.79 L203.04 905.49 L207.3 908.12 L211.55 910.67 L215.81 913.15 L220.06 915.55 L224.31 917.87 L228.57 920.12 L232.82 922.29 L237.07 924.36 L241.33 926.32 L245.58 928.2 L249.84 930 L254.09 931.74 L258.34 933.43 L262.6 935.1 L266.85 936.75 L271.1 938.41 L275.36 940.07 L279.61 941.77 L283.86 943.46 L288.12 945.07 L292.37 946.64 L296.63 948.18 L300.88 949.71 L305.13 951.25 L309.39 952.82 L313.64 954.45 L317.89 956.14 L322.15 957.93 L326.4 959.83 L330.66 961.87 L334.91 964.2 L339.16 966.83 L343.42 969.65 L347.67 972.59 L351.92 975.55 L356.18 978.44 L360.43 981.16 L364.68 983.64 L368.94 985.81 L373.19 987.88 L377.45 989.89 L381.7 991.84 L385.95 993.73 L390.21 995.55 L394.46 997.28 L398.71 998.93 L402.97 1000.49 L407.22 1001.94 L411.48 1003.29 L415.73 1004.53 L419.98 1004.6 L424.24 1004.6 L428.49 1004.6 L432.74 1004.6 L437 1004.6 L441.25 1004.6 L445.51 1004.6 L449.76 1004.6 L454.01 1004.6 L458.27 1004.6 L462.52 1004.6 L466.77 1004.6 L471.03 1004.6 L475.28 1004.6 L479.53 1004.6 L483.79 1004.6 L488.04 1004.6" stroke="#2a2af0" stroke-width="0.9"/>
<path d="M152 971.67 L155.78 967.88 L159.55 964.23 L163.33 960.74 L167.1 957.39 L170.88 954.19 L174.65 951.13 L178.43 948.22 L182.21 945.45 L185.98 942.82 L189.76 940.34 L193.53 937.99 L197.31 935.79 L201.08 933.72 L204.86 931.78 L208.64 929.98 L212.41 928.32 L216.19 926.79 L219.96 925.39 L223.74 924.12 L227.52 922.98 L231.29 921.96 L235.07 921.08 L238.84 920.32 L242.62 919.68 L246.39 919.17 L250.17 918.78 L253.95 918.51 L257.72 918.37 L261.5 918.34 L265.27 918.43 L269.05 918.63 L272.82 918.95 L276.6 919.39 L280.38 919.94 L284.15 920.6 L287.93 921.37 L291.7 922.25 L295.48 923.24 L299.25 924.34 L303.03 925.54 L306.81 926.85 L310.58 928.26 L314.36 929.78 L318.13 931.4 L321.91 933.11 L325.68 934.93 L329.46 936.84 L333.24 938.86 L337.01 940.96 L340.79 943.17 L344.56 945.46 L348.34 947.85 L352.11 950.33 L355.89 952.9 L359.67 955.56 L363.44 958.3 L367.22 961.14 L370.99 964.06 L374.77 967.06 L378.55 970.14 L382.32 973.31 L386.1 976.56 L389.87 979.89 L393.65 983.3 L397.42 986.78 L401.2 990.34 L404.98 993.98 L408.75 997.69 L412.53 1001.47 L416.3 1004.6 L420.08 1004.6 L423.85 1004.6 L427.63 1004.6 L431.41 1004.6 L435.18 1004.6 L438.96 1004.6 L442.73 1004.6 L446.51 1004.6 L450.28 1004.6 L454.06 1004.6 L457.84 1004.6 L461.61 1004.6 L465.39 1004.6 L469.16 1004.6 L472.94 1004.6 L476.71 1004.6 L480.49 1004.6 L484.27 1004.6 L488.04 1004.6" stroke="#a3161a" stroke-width="0.9"/>
<path d="M152 962.55 L155.78 959.95 L159.55 957.4 L163.33 954.91 L167.1 952.47 L170.88 950.09 L174.65 947.78 L178.43 945.52 L182.21 943.33 L185.98 941.21 L189.76 939.15 L193.53 937.16 L197.31 935.25 L201.08 933.4 L204.86 931.64 L208.64 929.95 L212.41 928.33 L216.19 926.8 L219.96 925.35 L223.74 923.99 L227.52 922.71 L231.29 921.51 L235.07 920.41 L238.84 919.4 L242.62 918.48 L246.39 917.66 L250.17 916.93 L253.95 916.3 L257.72 915.77 L261.5 915.35 L265.27 915.02 L269.05 914.81 L272.82 914.7 L276.6 914.7 L280.38 914.81 L284.15 915.03 L287.93 915.37 L291.7 915.83 L295.48 916.4 L299.25 917.1 L303.03 917.91 L306.81 918.85 L310.58 919.92 L314.36 921.11 L318.13 922.43 L321.91 923.89 L325.68 925.47 L329.46 927.19 L333.24 929.05 L337.01 931.04 L340.79 933.18 L344.56 935.46 L348.34 937.88 L352.11 940.44 L355.89 943.16 L359.67 946.02 L363.44 949.03 L367.22 952.2 L370.99 955.52 L374.77 959 L378.55 962.63 L382.32 966.42 L386.1 970.38 L389.87 974.5 L393.65 978.79 L397.42 983.24 L401.2 987.86 L404.98 992.65 L408.75 997.62 L412.53 1002.76 L416.3 1004.6 L420.08 1004.6 L423.85 1004.6 L427.63 1004.6 L431.41 1004.6 L435.18 1004.6 L438.96 1004.6 L442.73 1004.6 L446.51 1004.6 L450.28 1004.6 L454.06 1004.6 L457.84 1004.6 L461.61 1004.6 L465.39 1004.6 L469.16 1004.6 L472.94 1004.6 L476.71 1004.6 L480.49 1004.6 L484.27 1004.6 L488.04 1004.6" stroke="#a3161a" stroke-width="0.9"/>
<path d="M152 949.93 L155.78 947.94 L159.55 946 L163.33 944.1 L167.1 942.26 L170.88 940.48 L174.65 938.74 L178.43 937.06 L182.21 935.44 L185.98 933.88 L189.76 932.38 L193.53 930.93 L197.31 929.55 L201.08 928.23 L204.86 926.98 L208.64 925.79 L212.41 924.67 L216.19 923.62 L219.96 922.64 L223.74 921.72 L227.52 920.89 L231.29 920.12 L235.07 919.43 L238.84 918.82 L242.62 918.28 L246.39 917.83 L250.17 917.45 L253.95 917.16 L257.72 916.95 L261.5 916.82 L265.27 916.78 L269.05 916.83 L272.82 916.96 L276.6 917.19 L280.38 917.51 L284.15 917.91 L287.93 918.42 L291.7 919.01 L295.48 919.71 L299.25 920.5 L303.03 921.39 L306.81 922.38 L310.58 923.47 L314.36 924.66 L318.13 925.96 L321.91 927.37 L325.68 928.88 L329.46 930.5 L333.24 932.23 L337.01 934.07 L340.79 936.02 L344.56 938.09 L348.34 940.27 L352.11 942.56 L355.89 944.98 L359.67 947.51 L363.44 950.17 L367.22 952.94 L370.99 955.84 L374.77 958.86 L378.55 962.01 L382.32 965.28 L386.1 968.68 L389.87 972.21 L393.65 975.88 L397.42 979.67 L401.2 983.6 L404.98 987.66 L408.75 991.86 L412.53 996.19 L416.3 1000.67 L420.08 1004.6 L423.85 1004.6 L427.63 1004.6 L431.41 1004.6 L435.18 1004.6 L438.96 1004.6 L442.73 1004.6 L446.51 1004.6 L450.28 1004.6 L454.06 1004.6 L457.84 1004.6 L461.61 1004.6 L465.39 1004.6 L469.16 1004.6 L472.94 1004.6 L476.71 1004.6 L480.49 1004.6 L484.27 1004.6 L488.04 1004.6" stroke="#8b1014" stroke-width="0.9"/>
<path d="M152 978.55 L155.78 974.46 L159.55 970.53 L163.33 966.75 L167.1 963.13 L170.88 959.66 L174.65 956.35 L178.43 953.19 L182.21 950.18 L185.98 947.31 L189.76 944.6 L193.53 942.03 L197.31 939.61 L201.08 937.33 L204.86 935.2 L208.64 933.21 L212.41 931.36 L216.19 929.64 L219.96 928.07 L223.74 926.63 L227.52 925.33 L231.29 924.17 L235.07 923.14 L238.84 922.24 L242.62 921.47 L246.39 920.83 L250.17 920.32 L253.95 919.94 L257.72 919.69 L261.5 919.56 L265.27 919.55 L269.05 919.67 L272.82 919.91 L276.6 920.26 L280.38 920.74 L284.15 921.34 L287.93 922.05 L291.7 922.88 L295.48 923.82 L299.25 924.88 L303.03 926.05 L306.81 927.33 L310.58 928.72 L314.36 930.21 L318.13 931.82 L321.91 933.53 L325.68 935.34 L329.46 937.26 L333.24 939.28 L337.01 941.41 L340.79 943.63 L344.56 945.95 L348.34 948.37 L352.11 950.88 L355.89 953.5 L359.67 956.2 L363.44 959 L367.22 961.89 L370.99 964.87 L374.77 967.94 L378.55 971.09 L382.32 974.34 L386.1 977.67 L389.87 981.08 L393.65 984.58 L397.42 988.16 L401.2 991.82 L404.98 995.55 L408.75 999.37 L412.53 1003.27 L416.3 1004.6 L420.08 1004.6 L423.85 1004.6 L427.63 1004.6 L431.41 1004.6 L435.18 1004.6 L438.96 1004.6 L442.73 1004.6 L446.51 1004.6 L450.28 1004.6 L454.06 1004.6 L457.84 1004.6 L461.61 1004.6 L465.39 1004.6 L469.16 1004.6 L472.94 1004.6 L476.71 1004.6 L480.49 1004.6 L484.27 1004.6 L488.04 1004.6" stroke="#e9473a" stroke-width="0.9"/>
<path d="M152 923.2 L155.78 923.72 L159.55 924.14 L163.33 924.49 L167.1 924.76 L170.88 924.95 L174.65 925.07 L178.43 925.13 L182.21 925.13 L185.98 925.07 L189.76 924.96 L193.53 924.81 L197.31 924.62 L201.08 924.39 L204.86 924.13 L208.64 923.84 L212.41 923.53 L216.19 923.2 L219.96 922.86 L223.74 922.51 L227.52 922.16 L231.29 921.81 L235.07 921.47 L238.84 921.14 L242.62 920.82 L246.39 920.53 L250.17 920.26 L253.95 920.02 L257.72 919.81 L261.5 919.65 L265.27 919.52 L269.05 919.45 L272.82 919.43 L276.6 919.47 L280.38 919.58 L284.15 919.75 L287.93 919.99 L291.7 920.31 L295.48 920.71 L299.25 921.2 L303.03 921.78 L306.81 922.46 L310.58 923.24 L314.36 924.12 L318.13 925.11 L321.91 926.22 L325.68 927.45 L329.46 928.81 L333.24 930.29 L337.01 931.91 L340.79 933.66 L344.56 935.56 L348.34 937.61 L352.11 939.81 L355.89 942.17 L359.67 944.69 L363.44 947.38 L367.22 950.24 L370.99 953.27 L374.77 956.49 L378.55 959.89 L382.32 963.49 L386.1 967.28 L389.87 971.27 L393.65 975.46 L397.42 979.87 L401.2 984.49 L404.98 989.33 L408.75 994.39 L412.53 999.68 L416.3 1004.6 L420.08 1004.6 L423.85 1004.6 L427.63 1004.6 L431.41 1004.6 L435.18 1004.6 L438.96 1004.6 L442.73 1004.6 L446.51 1004.6 L450.28 1004.6 L454.06 1004.6 L457.84 1004.6 L461.61 1004.6 L465.39 1004.6 L469.16 1004.6 L472.94 1004.6 L476.71 1004.6 L480.49 1004.6 L484.27 1004.6 L488.04 1004.6" stroke="#d83228" stroke-width="0.9"/>
<path d="M152 929.54 L155.78 929.16 L159.55 928.75 L163.33 928.32 L167.1 927.86 L170.88 927.38 L174.65 926.89 L178.43 926.38 L182.21 925.86 L185.98 925.34 L189.76 924.81 L193.53 924.29 L197.31 923.76 L201.08 923.25 L204.86 922.74 L208.64 922.25 L212.41 921.78 L216.19 921.32 L219.96 920.89 L223.74 920.48 L227.52 920.1 L231.29 919.76 L235.07 919.45 L238.84 919.19 L242.62 918.96 L246.39 918.78 L250.17 918.65 L253.95 918.58 L257.72 918.56 L261.5 918.6 L265.27 918.7 L269.05 918.87 L272.82 919.11 L276.6 919.41 L280.38 919.8 L284.15 920.26 L287.93 920.81 L291.7 921.44 L295.48 922.17 L299.25 922.98 L303.03 923.89 L306.81 924.9 L310.58 926.01 L314.36 927.22 L318.13 928.55 L321.91 929.98 L325.68 931.53 L329.46 933.2 L333.24 934.99 L337.01 936.91 L340.79 938.95 L344.56 941.13 L348.34 943.44 L352.11 945.89 L355.89 948.48 L359.67 951.22 L363.44 954.1 L367.22 957.14 L370.99 960.33 L374.77 963.68 L378.55 967.19 L382.32 970.86 L386.1 974.7 L389.87 978.72 L393.65 982.9 L397.42 987.27 L401.2 991.81 L404.98 996.54 L408.75 1001.46 L412.53 1004.6 L416.3 1004.6 L420.08 1004.6 L423.85 1004.6 L427.63 1004.6 L431.41 1004.6 L435.18 1004.6 L438.96 1004.6 L442.73 1004.6 L446.51 1004.6 L450.28 1004.6 L454.06 1004.6 L457.84 1004.6 L461.61 1004.6 L465.39 1004.6 L469.16 1004.6 L472.94 1004.6 L476.71 1004.6 L480.49 1004.6 L484.27 1004.6 L488.04 1004.6" stroke="#8b1014" stroke-width="0.9"/>
<path d="M152 980.82 L155.78 976.98 L159.55 973.25 L163.33 969.64 L167.1 966.15 L170.88 962.79 L174.65 959.54 L178.43 956.42 L182.21 953.41 L185.98 950.53 L189.76 947.77 L193.53 945.12 L197.31 942.6 L201.08 940.2 L204.86 937.92 L208.64 935.76 L212.41 933.72 L216.19 931.81 L219.96 930.01 L223.74 928.33 L227.52 926.78 L231.29 925.34 L235.07 924.03 L238.84 922.84 L242.62 921.77 L246.39 920.82 L250.17 919.99 L253.95 919.28 L257.72 918.69 L261.5 918.23 L265.27 917.88 L269.05 917.66 L272.82 917.56 L276.6 917.58 L280.38 917.72 L284.15 917.98 L287.93 918.36 L291.7 918.86 L295.48 919.49 L299.25 920.23 L303.03 921.1 L306.81 922.09 L310.58 923.2 L314.36 924.43 L318.13 925.78 L321.91 927.25 L325.68 928.85 L329.46 930.57 L333.24 932.4 L337.01 934.36 L340.79 936.44 L344.56 938.65 L348.34 940.97 L352.11 943.42 L355.89 945.98 L359.67 948.67 L363.44 951.48 L367.22 954.42 L370.99 957.47 L374.77 960.64 L378.55 963.94 L382.32 967.36 L386.1 970.9 L389.87 974.56 L393.65 978.35 L397.42 982.25 L401.2 986.28 L404.98 990.43 L408.75 994.7 L412.53 999.09 L416.3 1003.61 L420.08 1004.6 L423.85 1004.6 L427.63 1004.6 L431.41 1004.6 L435.18 1004.6 L438.96 1004.6 L442.73 1004.6 L446.51 1004.6 L450.28 1004.6 L454.06 1004.6 L457.84 1004.6 L461.61 1004.6 L465.39 1004.6 L469.16 1004.6 L472.94 1004.6 L476.71 1004.6 L480.49 1004.6 L484.27 1004.6 L488.04 1004.6" stroke="#e9473a" stroke-width="0.9"/>
<path d="M152 935.94 L155.78 935.45 L159.55 934.93 L163.33 934.39 L167.1 933.82 L170.88 933.24 L174.65 932.64 L178.43 932.03 L182.21 931.41 L185.98 930.78 L189.76 930.15 L193.53 929.52 L197.31 928.89 L201.08 928.27 L204.86 927.66 L208.64 927.06 L212.41 926.47 L216.19 925.9 L219.96 925.36 L223.74 924.84 L227.52 924.34 L231.29 923.88 L235.07 923.45 L238.84 923.06 L242.62 922.71 L246.39 922.4 L250.17 922.14 L253.95 921.93 L257.72 921.77 L261.5 921.67 L265.27 921.62 L269.05 921.64 L272.82 921.72 L276.6 921.87 L280.38 922.09 L284.15 922.39 L287.93 922.76 L291.7 923.22 L295.48 923.75 L299.25 924.38 L303.03 925.09 L306.81 925.9 L310.58 926.8 L314.36 927.81 L318.13 928.91 L321.91 930.12 L325.68 931.44 L329.46 932.87 L333.24 934.42 L337.01 936.08 L340.79 937.86 L344.56 939.77 L348.34 941.81 L352.11 943.97 L355.89 946.27 L359.67 948.71 L363.44 951.28 L367.22 954 L370.99 956.86 L374.77 959.88 L378.55 963.04 L382.32 966.36 L386.1 969.84 L389.87 973.48 L393.65 977.28 L397.42 981.26 L401.2 985.4 L404.98 989.71 L408.75 994.21 L412.53 998.88 L416.3 1003.74 L420.08 1004.6 L423.85 1004.6 L427.63 1004.6 L431.41 1004.6 L435.18 1004.6 L438.96 1004.6 L442.73 1004.6 L446.51 1004.6 L450.28 1004.6 L454.06 1004.6 L457.84 1004.6 L461.61 1004.6 L465.39 1004.6 L469.16 1004.6 L472.94 1004.6 L476.71 1004.6 L480.49 1004.6 L484.27 1004.6 L488.04 1004.6" stroke="#a3161a" stroke-width="0.9"/>
<path d="M152 953.43 L155.78 950.76 L159.55 948.21 L163.33 945.77 L167.1 943.44 L170.88 941.22 L174.65 939.12 L178.43 937.12 L182.21 935.24 L185.98 933.46 L189.76 931.79 L193.53 930.22 L197.31 928.77 L201.08 927.42 L204.86 926.17 L208.64 925.03 L212.41 924 L216.19 923.06 L219.96 922.23 L223.74 921.51 L227.52 920.88 L231.29 920.36 L235.07 919.93 L238.84 919.61 L242.62 919.38 L246.39 919.25 L250.17 919.22 L253.95 919.29 L257.72 919.45 L261.5 919.71 L265.27 920.06 L269.05 920.51 L272.82 921.05 L276.6 921.69 L280.38 922.42 L284.15 923.23 L287.93 924.15 L291.7 925.15 L295.48 926.24 L299.25 927.42 L303.03 928.69 L306.81 930.04 L310.58 931.49 L314.36 933.02 L318.13 934.63 L321.91 936.34 L325.68 938.12 L329.46 939.99 L333.24 941.95 L337.01 943.99 L340.79 946.11 L344.56 948.31 L348.34 950.59 L352.11 952.95 L355.89 955.39 L359.67 957.91 L363.44 960.51 L367.22 963.19 L370.99 965.94 L374.77 968.77 L378.55 971.67 L382.32 974.65 L386.1 977.71 L389.87 980.84 L393.65 984.04 L397.42 987.31 L401.2 990.66 L404.98 994.07 L408.75 997.56 L412.53 1001.12 L416.3 1004.6 L420.08 1004.6 L423.85 1004.6 L427.63 1004.6 L431.41 1004.6 L435.18 1004.6 L438.96 1004.6 L442.73 1004.6 L446.51 1004.6 L450.28 1004.6 L454.06 1004.6 L457.84 1004.6 L461.61 1004.6 L465.39 1004.6 L469.16 1004.6 L472.94 1004.6 L476.71 1004.6 L480.49 1004.6 L484.27 1004.6 L488.04 1004.6" stroke="#7a0a0e" stroke-width="0.9"/>
<path d="M152 903.65 L155.78 904.79 L159.55 905.85 L163.33 906.84 L167.1 907.76 L170.88 908.61 L174.65 909.4 L178.43 910.14 L182.21 910.82 L185.98 911.45 L189.76 912.03 L193.53 912.57 L197.31 913.07 L201.08 913.53 L204.86 913.96 L208.64 914.36 L212.41 914.74 L216.19 915.1 L219.96 915.44 L223.74 915.76 L227.52 916.08 L231.29 916.39 L235.07 916.69 L238.84 917 L242.62 917.31 L246.39 917.64 L250.17 917.97 L253.95 918.32 L257.72 918.69 L261.5 919.08 L265.27 919.5 L269.05 919.94 L272.82 920.43 L276.6 920.95 L280.38 921.51 L284.15 922.12 L287.93 922.78 L291.7 923.49 L295.48 924.26 L299.25 925.08 L303.03 925.98 L306.81 926.93 L310.58 927.96 L314.36 929.07 L318.13 930.25 L321.91 931.52 L325.68 932.87 L329.46 934.32 L333.24 935.85 L337.01 937.48 L340.79 939.22 L344.56 941.06 L348.34 943 L352.11 945.06 L355.89 947.24 L359.67 949.53 L363.44 951.95 L367.22 954.49 L370.99 957.16 L374.77 959.97 L378.55 962.92 L382.32 966.01 L386.1 969.24 L389.87 972.62 L393.65 976.16 L397.42 979.85 L401.2 983.7 L404.98 987.71 L408.75 991.89 L412.53 996.25 L416.3 1000.78 L420.08 1004.6 L423.85 1004.6 L427.63 1004.6 L431.41 1004.6 L435.18 1004.6 L438.96 1004.6 L442.73 1004.6 L446.51 1004.6 L450.28 1004.6 L454.06 1004.6 L457.84 1004.6 L461.61 1004.6 L465.39 1004.6 L469.16 1004.6 L472.94 1004.6 L476.71 1004.6 L480.49 1004.6 L484.27 1004.6 L488.04 1004.6" stroke="#a3161a" stroke-width="0.9"/>
<path d="M152 935.98 L155.78 935.09 L159.55 934.21 L163.33 933.33 L167.1 932.47 L170.88 931.62 L174.65 930.78 L178.43 929.96 L182.21 929.16 L185.98 928.39 L189.76 927.63 L193.53 926.91 L197.31 926.21 L201.08 925.54 L204.86 924.91 L208.64 924.31 L212.41 923.75 L216.19 923.23 L219.96 922.75 L223.74 922.31 L227.52 921.92 L231.29 921.58 L235.07 921.28 L238.84 921.04 L242.62 920.86 L246.39 920.73 L250.17 920.66 L253.95 920.66 L257.72 920.71 L261.5 920.84 L265.27 921.03 L269.05 921.29 L272.82 921.62 L276.6 922.03 L280.38 922.51 L284.15 923.08 L287.93 923.72 L291.7 924.45 L295.48 925.26 L299.25 926.16 L303.03 927.15 L306.81 928.24 L310.58 929.41 L314.36 930.69 L318.13 932.06 L321.91 933.53 L325.68 935.11 L329.46 936.79 L333.24 938.58 L337.01 940.47 L340.79 942.48 L344.56 944.61 L348.34 946.85 L352.11 949.21 L355.89 951.68 L359.67 954.29 L363.44 957.01 L367.22 959.87 L370.99 962.85 L374.77 965.96 L378.55 969.21 L382.32 972.6 L386.1 976.12 L389.87 979.78 L393.65 983.59 L397.42 987.54 L401.2 991.63 L404.98 995.88 L408.75 1000.27 L412.53 1004.6 L416.3 1004.6 L420.08 1004.6 L423.85 1004.6 L427.63 1004.6 L431.41 1004.6 L435.18 1004.6 L438.96 1004.6 L442.73 1004.6 L446.51 1004.6 L450.28 1004.6 L454.06 1004.6 L457.84 1004.6 L461.61 1004.6 L465.39 1004.6 L469.16 1004.6 L472.94 1004.6 L476.71 1004.6 L480.49 1004.6 L484.27 1004.6 L488.04 1004.6" stroke="#c0201f" stroke-width="0.9"/>
<path d="M152 949.16 L155.78 947.57 L159.55 945.99 L163.33 944.42 L167.1 942.87 L170.88 941.35 L174.65 939.84 L178.43 938.36 L182.21 936.91 L185.98 935.49 L189.76 934.11 L193.53 932.75 L197.31 931.44 L201.08 930.16 L204.86 928.93 L208.64 927.74 L212.41 926.6 L216.19 925.51 L219.96 924.47 L223.74 923.48 L227.52 922.55 L231.29 921.68 L235.07 920.87 L238.84 920.12 L242.62 919.44 L246.39 918.83 L250.17 918.29 L253.95 917.82 L257.72 917.42 L261.5 917.11 L265.27 916.87 L269.05 916.72 L272.82 916.65 L276.6 916.67 L280.38 916.78 L284.15 916.98 L287.93 917.27 L291.7 917.67 L295.48 918.16 L299.25 918.75 L303.03 919.44 L306.81 920.25 L310.58 921.16 L314.36 922.18 L318.13 923.32 L321.91 924.57 L325.68 925.94 L329.46 927.43 L333.24 929.04 L337.01 930.78 L340.79 932.64 L344.56 934.64 L348.34 936.76 L352.11 939.03 L355.89 941.43 L359.67 943.97 L363.44 946.65 L367.22 949.47 L370.99 952.44 L374.77 955.56 L378.55 958.84 L382.32 962.26 L386.1 965.84 L389.87 969.58 L393.65 973.48 L397.42 977.55 L401.2 981.78 L404.98 986.18 L408.75 990.74 L412.53 995.48 L416.3 1000.4 L420.08 1004.6 L423.85 1004.6 L427.63 1004.6 L431.41 1004.6 L435.18 1004.6 L438.96 1004.6 L442.73 1004.6 L446.51 1004.6 L450.28 1004.6 L454.06 1004.6 L457.84 1004.6 L461.61 1004.6 L465.39 1004.6 L469.16 1004.6 L472.94 1004.6 L476.71 1004.6 L480.49 1004.6 L484.27 1004.6 L488.04 1004.6" stroke="#d83228" stroke-width="0.9"/>
<path d="M152 949.64 L155.78 947.93 L159.55 946.25 L163.33 944.6 L167.1 942.99 L170.88 941.41 L174.65 939.87 L178.43 938.37 L182.21 936.91 L185.98 935.5 L189.76 934.13 L193.53 932.82 L197.31 931.55 L201.08 930.33 L204.86 929.17 L208.64 928.06 L212.41 927.01 L216.19 926.02 L219.96 925.09 L223.74 924.23 L227.52 923.43 L231.29 922.69 L235.07 922.03 L238.84 921.44 L242.62 920.92 L246.39 920.47 L250.17 920.1 L253.95 919.82 L257.72 919.61 L261.5 919.48 L265.27 919.44 L269.05 919.49 L272.82 919.62 L276.6 919.84 L280.38 920.16 L284.15 920.57 L287.93 921.08 L291.7 921.68 L295.48 922.38 L299.25 923.19 L303.03 924.1 L306.81 925.12 L310.58 926.24 L314.36 927.47 L318.13 928.82 L321.91 930.28 L325.68 931.85 L329.46 933.54 L333.24 935.35 L337.01 937.28 L340.79 939.33 L344.56 941.51 L348.34 943.82 L352.11 946.25 L355.89 948.82 L359.67 951.51 L363.44 954.35 L367.22 957.31 L370.99 960.42 L374.77 963.67 L378.55 967.06 L382.32 970.59 L386.1 974.27 L389.87 978.1 L393.65 982.08 L397.42 986.21 L401.2 990.49 L404.98 994.93 L408.75 999.53 L412.53 1004.28 L416.3 1004.6 L420.08 1004.6 L423.85 1004.6 L427.63 1004.6 L431.41 1004.6 L435.18 1004.6 L438.96 1004.6 L442.73 1004.6 L446.51 1004.6 L450.28 1004.6 L454.06 1004.6 L457.84 1004.6 L461.61 1004.6 L465.39 1004.6 L469.16 1004.6 L472.94 1004.6 L476.71 1004.6 L480.49 1004.6 L484.27 1004.6 L488.04 1004.6" stroke="#a3161a" stroke-width="0.9"/>
<path d="M152 998.74 L155.78 992.88 L159.55 987.26 L163.33 981.87 L167.1 976.72 L170.88 971.81 L174.65 967.12 L178.43 962.67 L182.21 958.44 L185.98 954.42 L189.76 950.63 L193.53 947.05 L197.31 943.69 L201.08 940.53 L204.86 937.59 L208.64 934.84 L212.41 932.29 L216.19 929.95 L219.96 927.79 L223.74 925.83 L227.52 924.06 L231.29 922.47 L235.07 921.06 L238.84 919.83 L242.62 918.78 L246.39 917.91 L250.17 917.2 L253.95 916.66 L257.72 916.28 L261.5 916.07 L265.27 916.01 L269.05 916.11 L272.82 916.36 L276.6 916.77 L280.38 917.31 L284.15 918 L287.93 918.84 L291.7 919.8 L295.48 920.91 L299.25 922.14 L303.03 923.5 L306.81 924.99 L310.58 926.6 L314.36 928.33 L318.13 930.18 L321.91 932.14 L325.68 934.2 L329.46 936.38 L333.24 938.66 L337.01 941.04 L340.79 943.52 L344.56 946.1 L348.34 948.77 L352.11 951.53 L355.89 954.37 L359.67 957.3 L363.44 960.3 L367.22 963.39 L370.99 966.55 L374.77 969.78 L378.55 973.07 L382.32 976.44 L386.1 979.86 L389.87 983.35 L393.65 986.89 L397.42 990.48 L401.2 994.13 L404.98 997.82 L408.75 1001.56 L412.53 1004.6 L416.3 1004.6 L420.08 1004.6 L423.85 1004.6 L427.63 1004.6 L431.41 1004.6 L435.18 1004.6 L438.96 1004.6 L442.73 1004.6 L446.51 1004.6 L450.28 1004.6 L454.06 1004.6 L457.84 1004.6 L461.61 1004.6 L465.39 1004.6 L469.16 1004.6 L472.94 1004.6 L476.71 1004.6 L480.49 1004.6 L484.27 1004.6 L488.04 1004.6" stroke="#7a0a0e" stroke-width="0.9"/>
<path d="M152 925.48 L155.78 925.2 L159.55 924.91 L163.33 924.61 L167.1 924.3 L170.88 923.99 L174.65 923.68 L178.43 923.37 L182.21 923.06 L185.98 922.76 L189.76 922.47 L193.53 922.18 L197.31 921.91 L201.08 921.65 L204.86 921.41 L208.64 921.19 L212.41 920.99 L216.19 920.81 L219.96 920.66 L223.74 920.53 L227.52 920.44 L231.29 920.37 L235.07 920.34 L238.84 920.35 L242.62 920.39 L246.39 920.48 L250.17 920.61 L253.95 920.78 L257.72 921 L261.5 921.27 L265.27 921.6 L269.05 921.97 L272.82 922.41 L276.6 922.9 L280.38 923.45 L284.15 924.06 L287.93 924.74 L291.7 925.49 L295.48 926.3 L299.25 927.19 L303.03 928.15 L306.81 929.18 L310.58 930.3 L314.36 931.49 L318.13 932.77 L321.91 934.13 L325.68 935.58 L329.46 937.12 L333.24 938.75 L337.01 940.47 L340.79 942.29 L344.56 944.21 L348.34 946.22 L352.11 948.34 L355.89 950.57 L359.67 952.9 L363.44 955.34 L367.22 957.89 L370.99 960.55 L374.77 963.33 L378.55 966.23 L382.32 969.24 L386.1 972.38 L389.87 975.65 L393.65 979.04 L397.42 982.56 L401.2 986.2 L404.98 989.99 L408.75 993.91 L412.53 997.96 L416.3 1002.16 L420.08 1004.6 L423.85 1004.6 L427.63 1004.6 L431.41 1004.6 L435.18 1004.6 L438.96 1004.6 L442.73 1004.6 L446.51 1004.6 L450.28 1004.6 L454.06 1004.6 L457.84 1004.6 L461.61 1004.6 L465.39 1004.6 L469.16 1004.6 L472.94 1004.6 L476.71 1004.6 L480.49 1004.6 L484.27 1004.6 L488.04 1004.6" stroke="#c0201f" stroke-width="0.9"/>
<path d="M152 947.52 L155.78 946.03 L159.55 944.54 L163.33 943.07 L167.1 941.62 L170.88 940.19 L174.65 938.78 L178.43 937.4 L182.21 936.04 L185.98 934.71 L189.76 933.42 L193.53 932.16 L197.31 930.94 L201.08 929.76 L204.86 928.62 L208.64 927.52 L212.41 926.47 L216.19 925.47 L219.96 924.53 L223.74 923.63 L227.52 922.8 L231.29 922.02 L235.07 921.31 L238.84 920.66 L242.62 920.08 L246.39 919.57 L250.17 919.13 L253.95 918.76 L257.72 918.47 L261.5 918.26 L265.27 918.13 L269.05 918.09 L272.82 918.13 L276.6 918.26 L280.38 918.49 L284.15 918.81 L287.93 919.22 L291.7 919.73 L295.48 920.35 L299.25 921.07 L303.03 921.89 L306.81 922.83 L310.58 923.88 L314.36 925.04 L318.13 926.31 L321.91 927.71 L325.68 929.22 L329.46 930.86 L333.24 932.63 L337.01 934.53 L340.79 936.55 L344.56 938.71 L348.34 941.01 L352.11 943.45 L355.89 946.02 L359.67 948.74 L363.44 951.61 L367.22 954.62 L370.99 957.79 L374.77 961.11 L378.55 964.58 L382.32 968.22 L386.1 972.01 L389.87 975.97 L393.65 980.09 L397.42 984.38 L401.2 988.85 L404.98 993.48 L408.75 998.29 L412.53 1003.28 L416.3 1004.6 L420.08 1004.6 L423.85 1004.6 L427.63 1004.6 L431.41 1004.6 L435.18 1004.6 L438.96 1004.6 L442.73 1004.6 L446.51 1004.6 L450.28 1004.6 L454.06 1004.6 L457.84 1004.6 L461.61 1004.6 L465.39 1004.6 L469.16 1004.6 L472.94 1004.6 L476.71 1004.6 L480.49 1004.6 L484.27 1004.6 L488.04 1004.6" stroke="#e9473a" stroke-width="0.9"/>
<path d="M152 984.25 L155.78 979.09 L159.55 974.17 L163.33 969.47 L167.1 965.01 L170.88 960.76 L174.65 956.73 L178.43 952.92 L182.21 949.32 L185.98 945.93 L189.76 942.74 L193.53 939.76 L197.31 936.98 L201.08 934.4 L204.86 932 L208.64 929.8 L212.41 927.79 L216.19 925.96 L219.96 924.3 L223.74 922.83 L227.52 921.53 L231.29 920.4 L235.07 919.44 L238.84 918.64 L242.62 918 L246.39 917.52 L250.17 917.19 L253.95 917.02 L257.72 916.99 L261.5 917.1 L265.27 917.36 L269.05 917.76 L272.82 918.29 L276.6 918.95 L280.38 919.74 L284.15 920.66 L287.93 921.7 L291.7 922.85 L295.48 924.13 L299.25 925.51 L303.03 927 L306.81 928.6 L310.58 930.3 L314.36 932.1 L318.13 934 L321.91 935.99 L325.68 938.06 L329.46 940.23 L333.24 942.47 L337.01 944.8 L340.79 947.2 L344.56 949.68 L348.34 952.23 L352.11 954.84 L355.89 957.52 L359.67 960.25 L363.44 963.05 L367.22 965.89 L370.99 968.79 L374.77 971.74 L378.55 974.73 L382.32 977.76 L386.1 980.82 L389.87 983.92 L393.65 987.06 L397.42 990.22 L401.2 993.4 L404.98 996.61 L408.75 999.83 L412.53 1003.07 L416.3 1004.6 L420.08 1004.6 L423.85 1004.6 L427.63 1004.6 L431.41 1004.6 L435.18 1004.6 L438.96 1004.6 L442.73 1004.6 L446.51 1004.6 L450.28 1004.6 L454.06 1004.6 L457.84 1004.6 L461.61 1004.6 L465.39 1004.6 L469.16 1004.6 L472.94 1004.6 L476.71 1004.6 L480.49 1004.6 L484.27 1004.6 L488.04 1004.6" stroke="#7a0a0e" stroke-width="0.9"/>
<path d="M152 925.52 L155.78 925.08 L159.55 924.64 L163.33 924.19 L167.1 923.75 L170.88 923.31 L174.65 922.88 L178.43 922.45 L182.21 922.04 L185.98 921.64 L189.76 921.25 L193.53 920.87 L197.31 920.52 L201.08 920.19 L204.86 919.87 L208.64 919.59 L212.41 919.33 L216.19 919.09 L219.96 918.89 L223.74 918.72 L227.52 918.58 L231.29 918.48 L235.07 918.42 L238.84 918.4 L242.62 918.43 L246.39 918.49 L250.17 918.61 L253.95 918.77 L257.72 918.98 L261.5 919.25 L265.27 919.57 L269.05 919.94 L272.82 920.38 L276.6 920.88 L280.38 921.44 L284.15 922.06 L287.93 922.75 L291.7 923.51 L295.48 924.34 L299.25 925.25 L303.03 926.23 L306.81 927.29 L310.58 928.42 L314.36 929.64 L318.13 930.94 L321.91 932.32 L325.68 933.8 L329.46 935.36 L333.24 937.01 L337.01 938.76 L340.79 940.6 L344.56 942.54 L348.34 944.58 L352.11 946.72 L355.89 948.97 L359.67 951.31 L363.44 953.77 L367.22 956.34 L370.99 959.02 L374.77 961.81 L378.55 964.72 L382.32 967.74 L386.1 970.89 L389.87 974.16 L393.65 977.55 L397.42 981.06 L401.2 984.71 L404.98 988.48 L408.75 992.39 L412.53 996.43 L416.3 1000.61 L420.08 1004.6 L423.85 1004.6 L427.63 1004.6 L431.41 1004.6 L435.18 1004.6 L438.96 1004.6 L442.73 1004.6 L446.51 1004.6 L450.28 1004.6 L454.06 1004.6 L457.84 1004.6 L461.61 1004.6 L465.39 1004.6 L469.16 1004.6 L472.94 1004.6 L476.71 1004.6 L480.49 1004.6 L484.27 1004.6 L488.04 1004.6" stroke="#d83228" stroke-width="0.9"/>
<path d="M152 964.96 L155.78 962.34 L159.55 959.78 L163.33 957.27 L167.1 954.83 L170.88 952.44 L174.65 950.12 L178.43 947.85 L182.21 945.66 L185.98 943.53 L189.76 941.47 L193.53 939.48 L197.31 937.57 L201.08 935.72 L204.86 933.95 L208.64 932.26 L212.41 930.65 L216.19 929.12 L219.96 927.67 L223.74 926.3 L227.52 925.02 L231.29 923.83 L235.07 922.73 L238.84 921.71 L242.62 920.79 L246.39 919.96 L250.17 919.23 L253.95 918.6 L257.72 918.06 L261.5 917.63 L265.27 917.29 L269.05 917.06 L272.82 916.94 L276.6 916.93 L280.38 917.02 L284.15 917.22 L287.93 917.54 L291.7 917.97 L295.48 918.51 L299.25 919.18 L303.03 919.96 L306.81 920.86 L310.58 921.89 L314.36 923.04 L318.13 924.31 L321.91 925.72 L325.68 927.25 L329.46 928.91 L333.24 930.71 L337.01 932.64 L340.79 934.7 L344.56 936.9 L348.34 939.25 L352.11 941.73 L355.89 944.36 L359.67 947.13 L363.44 950.04 L367.22 953.1 L370.99 956.32 L374.77 959.68 L378.55 963.2 L382.32 966.87 L386.1 970.7 L389.87 974.68 L393.65 978.82 L397.42 983.13 L401.2 987.6 L404.98 992.23 L408.75 997.03 L412.53 1001.99 L416.3 1004.6 L420.08 1004.6 L423.85 1004.6 L427.63 1004.6 L431.41 1004.6 L435.18 1004.6 L438.96 1004.6 L442.73 1004.6 L446.51 1004.6 L450.28 1004.6 L454.06 1004.6 L457.84 1004.6 L461.61 1004.6 L465.39 1004.6 L469.16 1004.6 L472.94 1004.6 L476.71 1004.6 L480.49 1004.6 L484.27 1004.6 L488.04 1004.6" stroke="#a3161a" stroke-width="0.9"/>
<path d="M152 1002.17 L155.78 995.85 L159.55 989.81 L163.33 984.05 L167.1 978.56 L170.88 973.33 L174.65 968.38 L178.43 963.68 L182.21 959.23 L185.98 955.04 L189.76 951.1 L193.53 947.4 L197.31 943.93 L201.08 940.7 L204.86 937.7 L208.64 934.93 L212.41 932.38 L216.19 930.04 L219.96 927.92 L223.74 926 L227.52 924.29 L231.29 922.78 L235.07 921.46 L238.84 920.34 L242.62 919.4 L246.39 918.65 L250.17 918.07 L253.95 917.67 L257.72 917.44 L261.5 917.37 L265.27 917.47 L269.05 917.72 L272.82 918.13 L276.6 918.68 L280.38 919.38 L284.15 920.21 L287.93 921.19 L291.7 922.29 L295.48 923.52 L299.25 924.88 L303.03 926.35 L306.81 927.94 L310.58 929.63 L314.36 931.43 L318.13 933.34 L321.91 935.34 L325.68 937.43 L329.46 939.61 L333.24 941.88 L337.01 944.22 L340.79 946.65 L344.56 949.14 L348.34 951.7 L352.11 954.32 L355.89 957 L359.67 959.74 L363.44 962.52 L367.22 965.35 L370.99 968.23 L374.77 971.13 L378.55 974.08 L382.32 977.05 L386.1 980.04 L389.87 983.06 L393.65 986.09 L397.42 989.13 L401.2 992.18 L404.98 995.23 L408.75 998.28 L412.53 1001.32 L416.3 1004.36 L420.08 1004.6 L423.85 1004.6 L427.63 1004.6 L431.41 1004.6 L435.18 1004.6 L438.96 1004.6 L442.73 1004.6 L446.51 1004.6 L450.28 1004.6 L454.06 1004.6 L457.84 1004.6 L461.61 1004.6 L465.39 1004.6 L469.16 1004.6 L472.94 1004.6 L476.71 1004.6 L480.49 1004.6 L484.27 1004.6 L488.04 1004.6" stroke="#d83228" stroke-width="0.9"/>
<path d="M152 941.98 L155.78 939.87 L159.55 937.85 L163.33 935.94 L167.1 934.13 L170.88 932.42 L174.65 930.8 L178.43 929.29 L182.21 927.87 L185.98 926.55 L189.76 925.32 L193.53 924.19 L197.31 923.15 L201.08 922.21 L204.86 921.36 L208.64 920.61 L212.41 919.94 L216.19 919.37 L219.96 918.89 L223.74 918.5 L227.52 918.2 L231.29 917.99 L235.07 917.87 L238.84 917.83 L242.62 917.88 L246.39 918.02 L250.17 918.24 L253.95 918.55 L257.72 918.95 L261.5 919.43 L265.27 919.99 L269.05 920.63 L272.82 921.36 L276.6 922.16 L280.38 923.05 L284.15 924.02 L287.93 925.07 L291.7 926.2 L295.48 927.4 L299.25 928.68 L303.03 930.04 L306.81 931.48 L310.58 932.99 L314.36 934.58 L318.13 936.24 L321.91 937.97 L325.68 939.78 L329.46 941.66 L333.24 943.61 L337.01 945.64 L340.79 947.73 L344.56 949.89 L348.34 952.13 L352.11 954.43 L355.89 956.8 L359.67 959.24 L363.44 961.74 L367.22 964.31 L370.99 966.95 L374.77 969.65 L378.55 972.41 L382.32 975.24 L386.1 978.13 L389.87 981.09 L393.65 984.1 L397.42 987.18 L401.2 990.32 L404.98 993.51 L408.75 996.77 L412.53 1000.08 L416.3 1003.46 L420.08 1004.6 L423.85 1004.6 L427.63 1004.6 L431.41 1004.6 L435.18 1004.6 L438.96 1004.6 L442.73 1004.6 L446.51 1004.6 L450.28 1004.6 L454.06 1004.6 L457.84 1004.6 L461.61 1004.6 L465.39 1004.6 L469.16 1004.6 L472.94 1004.6 L476.71 1004.6 L480.49 1004.6 L484.27 1004.6 L488.04 1004.6" stroke="#d83228" stroke-width="0.9"/>
<path d="M152 906.22 L155.78 907.68 L159.55 909.02 L163.33 910.25 L167.1 911.36 L170.88 912.36 L174.65 913.26 L178.43 914.06 L182.21 914.77 L185.98 915.4 L189.76 915.94 L193.53 916.41 L197.31 916.82 L201.08 917.16 L204.86 917.44 L208.64 917.67 L212.41 917.85 L216.19 917.99 L219.96 918.1 L223.74 918.17 L227.52 918.22 L231.29 918.25 L235.07 918.27 L238.84 918.28 L242.62 918.29 L246.39 918.3 L250.17 918.32 L253.95 918.35 L257.72 918.4 L261.5 918.48 L265.27 918.58 L269.05 918.73 L272.82 918.91 L276.6 919.14 L280.38 919.43 L284.15 919.77 L287.93 920.18 L291.7 920.65 L295.48 921.2 L299.25 921.83 L303.03 922.54 L306.81 923.35 L310.58 924.25 L314.36 925.26 L318.13 926.37 L321.91 927.6 L325.68 928.95 L329.46 930.41 L333.24 932.01 L337.01 933.75 L340.79 935.62 L344.56 937.65 L348.34 939.82 L352.11 942.15 L355.89 944.65 L359.67 947.31 L363.44 950.15 L367.22 953.16 L370.99 956.36 L374.77 959.76 L378.55 963.34 L382.32 967.13 L386.1 971.13 L389.87 975.34 L393.65 979.77 L397.42 984.42 L401.2 989.3 L404.98 994.41 L408.75 999.77 L412.53 1004.6 L416.3 1004.6 L420.08 1004.6 L423.85 1004.6 L427.63 1004.6 L431.41 1004.6 L435.18 1004.6 L438.96 1004.6 L442.73 1004.6 L446.51 1004.6 L450.28 1004.6 L454.06 1004.6 L457.84 1004.6 L461.61 1004.6 L465.39 1004.6 L469.16 1004.6 L472.94 1004.6 L476.71 1004.6 L480.49 1004.6 L484.27 1004.6 L488.04 1004.6" stroke="#8b1014" stroke-width="0.9"/>
<path d="M152 925.91 L155.78 925.19 L159.55 924.51 L163.33 923.86 L167.1 923.25 L170.88 922.68 L174.65 922.15 L178.43 921.65 L182.21 921.2 L185.98 920.78 L189.76 920.41 L193.53 920.08 L197.31 919.8 L201.08 919.56 L204.86 919.36 L208.64 919.21 L212.41 919.11 L216.19 919.06 L219.96 919.05 L223.74 919.1 L227.52 919.19 L231.29 919.34 L235.07 919.53 L238.84 919.78 L242.62 920.09 L246.39 920.45 L250.17 920.86 L253.95 921.34 L257.72 921.87 L261.5 922.45 L265.27 923.1 L269.05 923.8 L272.82 924.57 L276.6 925.4 L280.38 926.29 L284.15 927.25 L287.93 928.26 L291.7 929.35 L295.48 930.5 L299.25 931.71 L303.03 933 L306.81 934.35 L310.58 935.77 L314.36 937.26 L318.13 938.83 L321.91 940.46 L325.68 942.17 L329.46 943.95 L333.24 945.81 L337.01 947.74 L340.79 949.74 L344.56 951.83 L348.34 953.99 L352.11 956.23 L355.89 958.55 L359.67 960.95 L363.44 963.44 L367.22 966 L370.99 968.65 L374.77 971.38 L378.55 974.2 L382.32 977.1 L386.1 980.09 L389.87 983.16 L393.65 986.33 L397.42 989.58 L401.2 992.93 L404.98 996.36 L408.75 999.89 L412.53 1003.5 L416.3 1004.6 L420.08 1004.6 L423.85 1004.6 L427.63 1004.6 L431.41 1004.6 L435.18 1004.6 L438.96 1004.6 L442.73 1004.6 L446.51 1004.6 L450.28 1004.6 L454.06 1004.6 L457.84 1004.6 L461.61 1004.6 L465.39 1004.6 L469.16 1004.6 L472.94 1004.6 L476.71 1004.6 L480.49 1004.6 L484.27 1004.6 L488.04 1004.6" stroke="#8b1014" stroke-width="0.9"/>
<path d="M152 962.57 L155.78 960.14 L159.55 957.77 L163.33 955.45 L167.1 953.18 L170.88 950.97 L174.65 948.81 L178.43 946.72 L182.21 944.69 L185.98 942.72 L189.76 940.81 L193.53 938.97 L197.31 937.2 L201.08 935.5 L204.86 933.87 L208.64 932.31 L212.41 930.83 L216.19 929.42 L219.96 928.09 L223.74 926.84 L227.52 925.67 L231.29 924.58 L235.07 923.58 L238.84 922.66 L242.62 921.84 L246.39 921.1 L250.17 920.45 L253.95 919.89 L257.72 919.43 L261.5 919.06 L265.27 918.79 L269.05 918.62 L272.82 918.55 L276.6 918.58 L280.38 918.72 L284.15 918.96 L287.93 919.31 L291.7 919.77 L295.48 920.34 L299.25 921.02 L303.03 921.81 L306.81 922.72 L310.58 923.75 L314.36 924.89 L318.13 926.16 L321.91 927.55 L325.68 929.06 L329.46 930.7 L333.24 932.46 L337.01 934.35 L340.79 936.38 L344.56 938.53 L348.34 940.82 L352.11 943.24 L355.89 945.8 L359.67 948.5 L363.44 951.34 L367.22 954.32 L370.99 957.45 L374.77 960.72 L378.55 964.13 L382.32 967.7 L386.1 971.41 L389.87 975.28 L393.65 979.3 L397.42 983.47 L401.2 987.8 L404.98 992.29 L408.75 996.94 L412.53 1001.75 L416.3 1004.6 L420.08 1004.6 L423.85 1004.6 L427.63 1004.6 L431.41 1004.6 L435.18 1004.6 L438.96 1004.6 L442.73 1004.6 L446.51 1004.6 L450.28 1004.6 L454.06 1004.6 L457.84 1004.6 L461.61 1004.6 L465.39 1004.6 L469.16 1004.6 L472.94 1004.6 L476.71 1004.6 L480.49 1004.6 L484.27 1004.6 L488.04 1004.6" stroke="#e9473a" stroke-width="0.9"/>
<path d="M152 952.57 L155.78 950.15 L159.55 947.82 L163.33 945.58 L167.1 943.42 L170.88 941.35 L174.65 939.37 L178.43 937.47 L182.21 935.66 L185.98 933.94 L189.76 932.31 L193.53 930.76 L197.31 929.31 L201.08 927.94 L204.86 926.67 L208.64 925.48 L212.41 924.38 L216.19 923.38 L219.96 922.46 L223.74 921.64 L227.52 920.9 L231.29 920.26 L235.07 919.71 L238.84 919.25 L242.62 918.89 L246.39 918.62 L250.17 918.44 L253.95 918.35 L257.72 918.36 L261.5 918.46 L265.27 918.66 L269.05 918.95 L272.82 919.33 L276.6 919.81 L280.38 920.39 L284.15 921.06 L287.93 921.83 L291.7 922.7 L295.48 923.66 L299.25 924.72 L303.03 925.87 L306.81 927.13 L310.58 928.48 L314.36 929.93 L318.13 931.48 L321.91 933.13 L325.68 934.88 L329.46 936.72 L333.24 938.67 L337.01 940.72 L340.79 942.86 L344.56 945.11 L348.34 947.46 L352.11 949.91 L355.89 952.46 L359.67 955.12 L363.44 957.87 L367.22 960.73 L370.99 963.69 L374.77 966.76 L378.55 969.93 L382.32 973.2 L386.1 976.58 L389.87 980.06 L393.65 983.65 L397.42 987.34 L401.2 991.13 L404.98 995.04 L408.75 999.04 L412.53 1003.16 L416.3 1004.6 L420.08 1004.6 L423.85 1004.6 L427.63 1004.6 L431.41 1004.6 L435.18 1004.6 L438.96 1004.6 L442.73 1004.6 L446.51 1004.6 L450.28 1004.6 L454.06 1004.6 L457.84 1004.6 L461.61 1004.6 L465.39 1004.6 L469.16 1004.6 L472.94 1004.6 L476.71 1004.6 L480.49 1004.6 L484.27 1004.6 L488.04 1004.6" stroke="#a3161a" stroke-width="0.9"/>
<path d="M152 945.74 L155.78 943.79 L159.55 941.92 L163.33 940.13 L167.1 938.41 L170.88 936.76 L174.65 935.2 L178.43 933.71 L182.21 932.3 L185.98 930.96 L189.76 929.7 L193.53 928.52 L197.31 927.42 L201.08 926.4 L204.86 925.45 L208.64 924.59 L212.41 923.8 L216.19 923.09 L219.96 922.46 L223.74 921.91 L227.52 921.44 L231.29 921.04 L235.07 920.73 L238.84 920.5 L242.62 920.35 L246.39 920.28 L250.17 920.29 L253.95 920.39 L257.72 920.56 L261.5 920.82 L265.27 921.15 L269.05 921.57 L272.82 922.08 L276.6 922.66 L280.38 923.33 L284.15 924.08 L287.93 924.91 L291.7 925.83 L295.48 926.83 L299.25 927.91 L303.03 929.08 L306.81 930.33 L310.58 931.67 L314.36 933.09 L318.13 934.59 L321.91 936.18 L325.68 937.86 L329.46 939.62 L333.24 941.47 L337.01 943.4 L340.79 945.42 L344.56 947.53 L348.34 949.72 L352.11 952 L355.89 954.37 L359.67 956.82 L363.44 959.37 L367.22 962 L370.99 964.71 L374.77 967.52 L378.55 970.41 L382.32 973.39 L386.1 976.47 L389.87 979.63 L393.65 982.88 L397.42 986.21 L401.2 989.64 L404.98 993.16 L408.75 996.77 L412.53 1000.47 L416.3 1004.26 L420.08 1004.6 L423.85 1004.6 L427.63 1004.6 L431.41 1004.6 L435.18 1004.6 L438.96 1004.6 L442.73 1004.6 L446.51 1004.6 L450.28 1004.6 L454.06 1004.6 L457.84 1004.6 L461.61 1004.6 L465.39 1004.6 L469.16 1004.6 L472.94 1004.6 L476.71 1004.6 L480.49 1004.6 L484.27 1004.6 L488.04 1004.6" stroke="#a3161a" stroke-width="0.9"/>
<path d="M152 937.45 L155.78 936.68 L159.55 935.89 L163.33 935.09 L167.1 934.26 L170.88 933.43 L174.65 932.58 L178.43 931.73 L182.21 930.87 L185.98 930.02 L189.76 929.17 L193.53 928.32 L197.31 927.49 L201.08 926.66 L204.86 925.86 L208.64 925.07 L212.41 924.31 L216.19 923.57 L219.96 922.85 L223.74 922.18 L227.52 921.53 L231.29 920.93 L235.07 920.36 L238.84 919.84 L242.62 919.37 L246.39 918.95 L250.17 918.58 L253.95 918.28 L257.72 918.03 L261.5 917.84 L265.27 917.72 L269.05 917.68 L272.82 917.7 L276.6 917.8 L280.38 917.98 L284.15 918.25 L287.93 918.6 L291.7 919.04 L295.48 919.57 L299.25 920.2 L303.03 920.92 L306.81 921.75 L310.58 922.68 L314.36 923.72 L318.13 924.87 L321.91 926.14 L325.68 927.52 L329.46 929.03 L333.24 930.66 L337.01 932.42 L340.79 934.3 L344.56 936.32 L348.34 938.48 L352.11 940.78 L355.89 943.22 L359.67 945.81 L363.44 948.54 L367.22 951.43 L370.99 954.48 L374.77 957.68 L378.55 961.05 L382.32 964.58 L386.1 968.28 L389.87 972.15 L393.65 976.2 L397.42 980.42 L401.2 984.83 L404.98 989.42 L408.75 994.2 L412.53 999.17 L416.3 1004.33 L420.08 1004.6 L423.85 1004.6 L427.63 1004.6 L431.41 1004.6 L435.18 1004.6 L438.96 1004.6 L442.73 1004.6 L446.51 1004.6 L450.28 1004.6 L454.06 1004.6 L457.84 1004.6 L461.61 1004.6 L465.39 1004.6 L469.16 1004.6 L472.94 1004.6 L476.71 1004.6 L480.49 1004.6 L484.27 1004.6 L488.04 1004.6" stroke="#c0201f" stroke-width="0.9"/>
<path d="M152 930.54 L155.78 930.04 L159.55 929.52 L163.33 928.98 L167.1 928.43 L170.88 927.86 L174.65 927.28 L178.43 926.7 L182.21 926.11 L185.98 925.52 L189.76 924.93 L193.53 924.35 L197.31 923.77 L201.08 923.21 L204.86 922.66 L208.64 922.13 L212.41 921.62 L216.19 921.13 L219.96 920.67 L223.74 920.24 L227.52 919.85 L231.29 919.49 L235.07 919.17 L238.84 918.89 L242.62 918.65 L246.39 918.47 L250.17 918.34 L253.95 918.26 L257.72 918.24 L261.5 918.28 L265.27 918.38 L269.05 918.55 L272.82 918.79 L276.6 919.11 L280.38 919.5 L284.15 919.97 L287.93 920.53 L291.7 921.16 L295.48 921.89 L299.25 922.71 L303.03 923.63 L306.81 924.64 L310.58 925.76 L314.36 926.97 L318.13 928.3 L321.91 929.74 L325.68 931.29 L329.46 932.95 L333.24 934.74 L337.01 936.65 L340.79 938.69 L344.56 940.85 L348.34 943.15 L352.11 945.58 L355.89 948.15 L359.67 950.86 L363.44 953.72 L367.22 956.72 L370.99 959.88 L374.77 963.19 L378.55 966.65 L382.32 970.28 L386.1 974.07 L389.87 978.02 L393.65 982.15 L397.42 986.45 L401.2 990.92 L404.98 995.57 L408.75 1000.4 L412.53 1004.6 L416.3 1004.6 L420.08 1004.6 L423.85 1004.6 L427.63 1004.6 L431.41 1004.6 L435.18 1004.6 L438.96 1004.6 L442.73 1004.6 L446.51 1004.6 L450.28 1004.6 L454.06 1004.6 L457.84 1004.6 L461.61 1004.6 L465.39 1004.6 L469.16 1004.6 L472.94 1004.6 L476.71 1004.6 L480.49 1004.6 L484.27 1004.6 L488.04 1004.6" stroke="#7a0a0e" stroke-width="0.9"/>
<path d="M152 942.55 L155.78 941.45 L159.55 940.34 L163.33 939.23 L167.1 938.11 L170.88 936.99 L174.65 935.87 L178.43 934.75 L182.21 933.64 L185.98 932.55 L189.76 931.47 L193.53 930.4 L197.31 929.36 L201.08 928.34 L204.86 927.35 L208.64 926.39 L212.41 925.46 L216.19 924.56 L219.96 923.71 L223.74 922.9 L227.52 922.13 L231.29 921.41 L235.07 920.75 L238.84 920.13 L242.62 919.58 L246.39 919.09 L250.17 918.66 L253.95 918.3 L257.72 918 L261.5 917.78 L265.27 917.64 L269.05 917.58 L272.82 917.6 L276.6 917.71 L280.38 917.9 L284.15 918.19 L287.93 918.57 L291.7 919.05 L295.48 919.63 L299.25 920.31 L303.03 921.1 L306.81 922.01 L310.58 923.02 L314.36 924.16 L318.13 925.41 L321.91 926.79 L325.68 928.29 L329.46 929.92 L333.24 931.68 L337.01 933.58 L340.79 935.62 L344.56 937.8 L348.34 940.12 L352.11 942.59 L355.89 945.21 L359.67 947.99 L363.44 950.92 L367.22 954.01 L370.99 957.27 L374.77 960.69 L378.55 964.28 L382.32 968.05 L386.1 971.99 L389.87 976.11 L393.65 980.41 L397.42 984.89 L401.2 989.57 L404.98 994.43 L408.75 999.49 L412.53 1004.6 L416.3 1004.6 L420.08 1004.6 L423.85 1004.6 L427.63 1004.6 L431.41 1004.6 L435.18 1004.6 L438.96 1004.6 L442.73 1004.6 L446.51 1004.6 L450.28 1004.6 L454.06 1004.6 L457.84 1004.6 L461.61 1004.6 L465.39 1004.6 L469.16 1004.6 L472.94 1004.6 L476.71 1004.6 L480.49 1004.6 L484.27 1004.6 L488.04 1004.6" stroke="#d83228" stroke-width="0.9"/>
<path d="M152 966.2 L155.78 962.61 L159.55 959.16 L163.33 955.87 L167.1 952.73 L170.88 949.73 L174.65 946.88 L178.43 944.17 L182.21 941.6 L185.98 939.18 L189.76 936.89 L193.53 934.75 L197.31 932.74 L201.08 930.86 L204.86 929.12 L208.64 927.52 L212.41 926.04 L216.19 924.69 L219.96 923.48 L223.74 922.39 L227.52 921.42 L231.29 920.58 L235.07 919.86 L238.84 919.26 L242.62 918.79 L246.39 918.43 L250.17 918.19 L253.95 918.06 L257.72 918.05 L261.5 918.15 L265.27 918.36 L269.05 918.68 L272.82 919.11 L276.6 919.65 L280.38 920.3 L284.15 921.04 L287.93 921.89 L291.7 922.84 L295.48 923.9 L299.25 925.05 L303.03 926.29 L306.81 927.64 L310.58 929.08 L314.36 930.61 L318.13 932.23 L321.91 933.94 L325.68 935.74 L329.46 937.63 L333.24 939.6 L337.01 941.66 L340.79 943.8 L344.56 946.02 L348.34 948.32 L352.11 950.7 L355.89 953.16 L359.67 955.7 L363.44 958.3 L367.22 960.99 L370.99 963.74 L374.77 966.56 L378.55 969.45 L382.32 972.41 L386.1 975.44 L389.87 978.53 L393.65 981.68 L397.42 984.89 L401.2 988.17 L404.98 991.5 L408.75 994.89 L412.53 998.34 L416.3 1001.84 L420.08 1004.6 L423.85 1004.6 L427.63 1004.6 L431.41 1004.6 L435.18 1004.6 L438.96 1004.6 L442.73 1004.6 L446.51 1004.6 L450.28 1004.6 L454.06 1004.6 L457.84 1004.6 L461.61 1004.6 L465.39 1004.6 L469.16 1004.6 L472.94 1004.6 L476.71 1004.6 L480.49 1004.6 L484.27 1004.6 L488.04 1004.6" stroke="#c0201f" stroke-width="0.9"/>
<path d="M152 936.92 L155.78 935.94 L159.55 934.98 L163.33 934.03 L167.1 933.11 L170.88 932.21 L174.65 931.33 L178.43 930.47 L182.21 929.64 L185.98 928.84 L189.76 928.07 L193.53 927.34 L197.31 926.64 L201.08 925.97 L204.86 925.35 L208.64 924.76 L212.41 924.22 L216.19 923.72 L219.96 923.26 L223.74 922.85 L227.52 922.5 L231.29 922.19 L235.07 921.94 L238.84 921.75 L242.62 921.61 L246.39 921.53 L250.17 921.51 L253.95 921.55 L257.72 921.66 L261.5 921.84 L265.27 922.09 L269.05 922.4 L272.82 922.79 L276.6 923.25 L280.38 923.79 L284.15 924.41 L287.93 925.11 L291.7 925.89 L295.48 926.75 L299.25 927.7 L303.03 928.73 L306.81 929.86 L310.58 931.08 L314.36 932.39 L318.13 933.8 L321.91 935.3 L325.68 936.9 L329.46 938.61 L333.24 940.41 L337.01 942.33 L340.79 944.34 L344.56 946.47 L348.34 948.71 L352.11 951.06 L355.89 953.52 L359.67 956.1 L363.44 958.8 L367.22 961.62 L370.99 964.56 L374.77 967.62 L378.55 970.81 L382.32 974.13 L386.1 977.58 L389.87 981.16 L393.65 984.87 L397.42 988.72 L401.2 992.7 L404.98 996.82 L408.75 1001.09 L412.53 1004.6 L416.3 1004.6 L420.08 1004.6 L423.85 1004.6 L427.63 1004.6 L431.41 1004.6 L435.18 1004.6 L438.96 1004.6 L442.73 1004.6 L446.51 1004.6 L450.28 1004.6 L454.06 1004.6 L457.84 1004.6 L461.61 1004.6 L465.39 1004.6 L469.16 1004.6 L472.94 1004.6 L476.71 1004.6 L480.49 1004.6 L484.27 1004.6 L488.04 1004.6" stroke="#c42420" stroke-width="5.5"/>
<path d="M152 975.41 L155.78 971.65 L159.55 968.01 L163.33 964.5 L167.1 961.12 L170.88 957.87 L174.65 954.75 L178.43 951.76 L182.21 948.9 L185.98 946.17 L189.76 943.56 L193.53 941.08 L197.31 938.72 L201.08 936.49 L204.86 934.39 L208.64 932.41 L212.41 930.55 L216.19 928.82 L219.96 927.21 L223.74 925.73 L227.52 924.36 L231.29 923.12 L235.07 922 L238.84 921 L242.62 920.13 L246.39 919.37 L250.17 918.73 L253.95 918.21 L257.72 917.81 L261.5 917.53 L265.27 917.36 L269.05 917.32 L272.82 917.39 L276.6 917.57 L280.38 917.87 L284.15 918.29 L287.93 918.82 L291.7 919.47 L295.48 920.23 L299.25 921.1 L303.03 922.09 L306.81 923.19 L310.58 924.4 L314.36 925.72 L318.13 927.16 L321.91 928.7 L325.68 930.36 L329.46 932.12 L333.24 934 L337.01 935.98 L340.79 938.07 L344.56 940.27 L348.34 942.58 L352.11 944.99 L355.89 947.51 L359.67 950.14 L363.44 952.87 L367.22 955.71 L370.99 958.65 L374.77 961.7 L378.55 964.84 L382.32 968.1 L386.1 971.45 L389.87 974.91 L393.65 978.47 L397.42 982.13 L401.2 985.89 L404.98 989.75 L408.75 993.71 L412.53 997.78 L416.3 1001.94 L420.08 1004.6 L423.85 1004.6 L427.63 1004.6 L431.41 1004.6 L435.18 1004.6 L438.96 1004.6 L442.73 1004.6 L446.51 1004.6 L450.28 1004.6 L454.06 1004.6 L457.84 1004.6 L461.61 1004.6 L465.39 1004.6 L469.16 1004.6 L472.94 1004.6 L476.71 1004.6 L480.49 1004.6 L484.27 1004.6 L488.04 1004.6" stroke="#e8392c" stroke-width="5.5"/>
<path d="M152 985.38 L155.78 980.82 L159.55 976.43 L163.33 972.21 L167.1 968.15 L170.88 964.26 L174.65 960.53 L178.43 956.96 L182.21 953.56 L185.98 950.31 L189.76 947.22 L193.53 944.29 L197.31 941.52 L201.08 938.89 L204.86 936.43 L208.64 934.11 L212.41 931.95 L216.19 929.94 L219.96 928.07 L223.74 926.35 L227.52 924.78 L231.29 923.35 L235.07 922.06 L238.84 920.92 L242.62 919.92 L246.39 919.06 L250.17 918.33 L253.95 917.75 L257.72 917.3 L261.5 916.98 L265.27 916.8 L269.05 916.75 L272.82 916.83 L276.6 917.04 L280.38 917.38 L284.15 917.84 L287.93 918.43 L291.7 919.15 L295.48 919.99 L299.25 920.95 L303.03 922.03 L306.81 923.23 L310.58 924.55 L314.36 925.99 L318.13 927.55 L321.91 929.21 L325.68 931 L329.46 932.89 L333.24 934.89 L337.01 937.01 L340.79 939.23 L344.56 941.56 L348.34 944 L352.11 946.54 L355.89 949.18 L359.67 951.93 L363.44 954.77 L367.22 957.72 L370.99 960.77 L374.77 963.91 L378.55 967.15 L382.32 970.48 L386.1 973.91 L389.87 977.42 L393.65 981.03 L397.42 984.73 L401.2 988.52 L404.98 992.39 L408.75 996.35 L412.53 1000.4 L416.3 1004.53 L420.08 1004.6 L423.85 1004.6 L427.63 1004.6 L431.41 1004.6 L435.18 1004.6 L438.96 1004.6 L442.73 1004.6 L446.51 1004.6 L450.28 1004.6 L454.06 1004.6 L457.84 1004.6 L461.61 1004.6 L465.39 1004.6 L469.16 1004.6 L472.94 1004.6 L476.71 1004.6 L480.49 1004.6 L484.27 1004.6 L488.04 1004.6" stroke="#7c0c10" stroke-width="5.5"/>
<path d="M152 890.65 L155.78 892.19 L159.55 893.72 L163.33 895.26 L167.1 896.79 L170.88 898.32 L174.65 899.85 L178.43 901.37 L182.21 902.9 L185.98 904.42 L189.76 905.95 L193.53 907.47 L197.31 908.99 L201.08 910.51 L204.86 912.03 L208.64 913.56 L212.41 915.08 L216.19 916.61 L219.96 918.13 L223.74 919.66 L227.52 921.19 L231.29 922.73 L235.07 924.26 L238.84 925.8 L242.62 927.35 L246.39 928.89 L250.17 930.44 L253.95 931.99 L257.72 933.55 L261.5 935.12 L265.27 936.68 L269.05 938.26 L272.82 939.84 L276.6 941.42 L280.38 943.01 L284.15 944.61 L287.93 946.21 L291.7 947.83 L295.48 949.44 L299.25 951.07 L303.03 952.71 L306.81 954.35 L310.58 956 L314.36 957.66 L318.13 959.33 L321.91 961.01 L325.68 962.69 L329.46 964.39 L333.24 966.1 L337.01 967.82 L340.79 969.55 L344.56 971.29 L348.34 973.04 L352.11 974.81 L355.89 976.58 L359.67 978.37 L363.44 980.17 L367.22 981.99 L370.99 983.81 L374.77 985.65 L378.55 987.51 L382.32 989.38 L386.1 991.26 L389.87 993.16 L393.65 995.07 L397.42 997 L401.2 998.94 L404.98 1000.9 L408.75 1002.87 L412.53 1004.6 L416.3 1004.6 L420.08 1004.6 L423.85 1004.6 L427.63 1004.6 L431.41 1004.6 L435.18 1004.6 L438.96 1004.6 L442.73 1004.6 L446.51 1004.6 L450.28 1004.6 L454.06 1004.6 L457.84 1004.6 L461.61 1004.6 L465.39 1004.6 L469.16 1004.6 L472.94 1004.6 L476.71 1004.6 L480.49 1004.6 L484.27 1004.6 L488.04 1004.6" stroke="#1010f0" stroke-width="5.5"/>
<path d="M152 793.7 L156.25 802.92 L160.51 811.91 L164.76 820.69 L169.01 829.24 L173.27 837.58 L177.52 845.71 L181.78 853.59 L186.03 861.25 L190.28 868.7 L194.54 875.97 L198.79 883.2 L203.04 890.27 L207.3 896.98 L211.55 903.11 L215.81 908.64 L220.06 913.77 L224.31 918.67 L228.57 923.51 L232.82 928.4 L237.07 933.19 L241.33 937.66 L245.58 941.76 L249.84 945.78 L254.09 949.7 L258.34 953.49 L262.6 957.13 L266.85 960.58 L271.1 963.81 L275.36 966.81 L279.61 969.53 L283.86 972.03 L288.12 974.44 L292.37 976.72 L296.63 978.89 L300.88 980.91 L305.13 982.8 L309.39 984.52 L313.64 986.08 L317.89 987.47 L322.15 988.73 L326.4 989.89 L330.66 990.98 L334.91 991.98 L339.16 992.92 L343.42 993.81 L347.67 994.65 L351.92 995.45 L356.18 996.22 L360.43 996.97 L364.68 997.7 L368.94 998.4 L373.19 999.07 L377.45 999.7 L381.7 1000.28 L385.95 1000.81 L390.21 1001.29 L394.46 1001.73 L398.71 1002.17 L402.97 1002.61 L407.22 1002.98 L411.48 1003.26 L415.73 1003.39 L419.98 1003.38 L424.24 1003.31 L428.49 1003.18 L432.74 1002.99 L437 1002.76 L441.25 1002.5 L445.51 1002.19 L449.76 1001.86 L454.01 1001.5 L458.27 1001.01 L462.52 1000.29 L466.77 999.35 L471.03 998.24 L475.28 996.97 L479.53 995.59 L483.79 994.12 L488.04 992.59" stroke="#858585" stroke-width="5"/>
</g>
<line x1="136.1" y1="655.7" x2="136.1" y2="1022.65" stroke="#000" stroke-width="4.1" stroke-linecap="butt" />
<line x1="134.05" y1="1020.6" x2="505" y2="1020.6" stroke="#000" stroke-width="4.1" stroke-linecap="butt" />
<line x1="128.7" y1="764.4" x2="136.1" y2="764.4" stroke="#000" stroke-width="4.1" stroke-linecap="butt" />
<text x="114.3" y="775.2" font-size="29.3" text-anchor="end" fill="#000" >0.1</text>
<line x1="128.7" y1="1004.6" x2="136.1" y2="1004.6" stroke="#000" stroke-width="4.1" stroke-linecap="butt" />
<text x="114.3" y="1015.4" font-size="29.3" text-anchor="end" fill="#000" >0</text>
<line x1="152" y1="1020.6" x2="152" y2="1028" stroke="#000" stroke-width="4.1" stroke-linecap="butt" />
<text x="152" y="1062.8" font-size="29.3" text-anchor="middle" fill="#000" >0</text>
<line x1="218.68" y1="1020.6" x2="218.68" y2="1028" stroke="#000" stroke-width="4.1" stroke-linecap="butt" />
<text x="218.68" y="1062.8" font-size="29.3" text-anchor="middle" fill="#000" >1.5</text>
<line x1="285.35" y1="1020.6" x2="285.35" y2="1028" stroke="#000" stroke-width="4.1" stroke-linecap="butt" />
<text x="285.35" y="1062.8" font-size="29.3" text-anchor="middle" fill="#000" >3</text>
<line x1="418.7" y1="1020.6" x2="418.7" y2="1028" stroke="#000" stroke-width="4.1" stroke-linecap="butt" />
<text x="418.7" y="1062.8" font-size="29.3" text-anchor="middle" fill="#000" >6</text>
<text x="317.5" y="1115" font-size="40" text-anchor="middle" fill="#000" >Time since cue (s)</text>
<text x="46" y="838.3" font-size="40" text-anchor="middle" fill="#000" transform="rotate(-90 46 838.3)" >Decoded density</text>
<text x="360.5" y="809.5" font-size="36.7" text-anchor="middle" fill="#808080" >Shuffled</text>
<line x1="674" y1="655" x2="674" y2="1025.25" stroke="#000" stroke-width="4.1" stroke-linecap="butt" />
<line x1="671.95" y1="1023.2" x2="1042.6" y2="1023.2" stroke="#000" stroke-width="4.1" stroke-linecap="butt" />
<line x1="666.6" y1="658" x2="674" y2="658" stroke="#000" stroke-width="4.1" stroke-linecap="butt" />
<text x="652.6" y="669.2" font-size="29.3" text-anchor="end" fill="#000" >1</text>
<line x1="666.6" y1="1023.2" x2="674" y2="1023.2" stroke="#000" stroke-width="4.1" stroke-linecap="butt" />
<text x="652.6" y="1034" font-size="29.3" text-anchor="end" fill="#000" >0.6</text>
<line x1="765.4" y1="731" x2="765.4" y2="941" stroke="#000" stroke-width="3.6" stroke-linecap="butt" />
<line x1="761.6" y1="731" x2="769.2" y2="731" stroke="#000" stroke-width="3.2" stroke-linecap="butt" />
<line x1="761.6" y1="941" x2="769.2" y2="941" stroke="#000" stroke-width="3.2" stroke-linecap="butt" />
<line x1="765.4" y1="1023.2" x2="765.4" y2="1030.4" stroke="#000" stroke-width="4.1" stroke-linecap="butt" />
<line x1="949" y1="952.5" x2="949" y2="991.3" stroke="#000" stroke-width="3.6" stroke-linecap="butt" />
<line x1="945.2" y1="952.5" x2="952.8" y2="952.5" stroke="#000" stroke-width="3.2" stroke-linecap="butt" />
<line x1="945.2" y1="991.3" x2="952.8" y2="991.3" stroke="#000" stroke-width="3.2" stroke-linecap="butt" />
<line x1="949" y1="1023.2" x2="949" y2="1030.4" stroke="#000" stroke-width="4.1" stroke-linecap="butt" />
<text x="765.4" y="1066.6" font-size="29.3" text-anchor="middle" fill="#000" >Shuffled</text>
<text x="949" y="1066.6" font-size="29.3" text-anchor="middle" fill="#000" >Not</text>
<text x="949" y="1097.7" font-size="29.3" text-anchor="middle" fill="#000" >shuffled</text>
<text x="584.2" y="840.5" font-size="40" text-anchor="middle" fill="#000" transform="rotate(-90 584.2 840.5)" >KL(true,decoded)</text>
<text x="5.7" y="37.6" font-family="'Liberation Sans', 'DejaVu Sans', sans-serif" font-weight="bold" font-size="45" fill="#1a1a1a" textLength="48.8" lengthAdjust="spacingAndGlyphs">(A)</text>
<text x="487.2" y="35.6" font-family="'Liberation Sans', 'DejaVu Sans', sans-serif" font-weight="bold" font-size="45" fill="#1a1a1a" textLength="47" lengthAdjust="spacingAndGlyphs">(B)</text>
<text x="1054.5" y="36.4" font-family="'Liberation Sans', 'DejaVu Sans', sans-serif" font-weight="bold" font-size="45" fill="#1a1a1a" textLength="48.2" lengthAdjust="spacingAndGlyphs">(C)</text>
<text x="2.1" y="650.1" font-family="'Liberation Sans', 'DejaVu Sans', sans-serif" font-weight="bold" font-size="45" fill="#1a1a1a" textLength="52" lengthAdjust="spacingAndGlyphs">(D)</text>
<text x="486.8" y="651" font-family="'Liberation Sans', 'DejaVu Sans', sans-serif" font-weight="bold" font-size="45" fill="#1a1a1a" textLength="46.5" lengthAdjust="spacingAndGlyphs">(E)</text></svg></body></html>
